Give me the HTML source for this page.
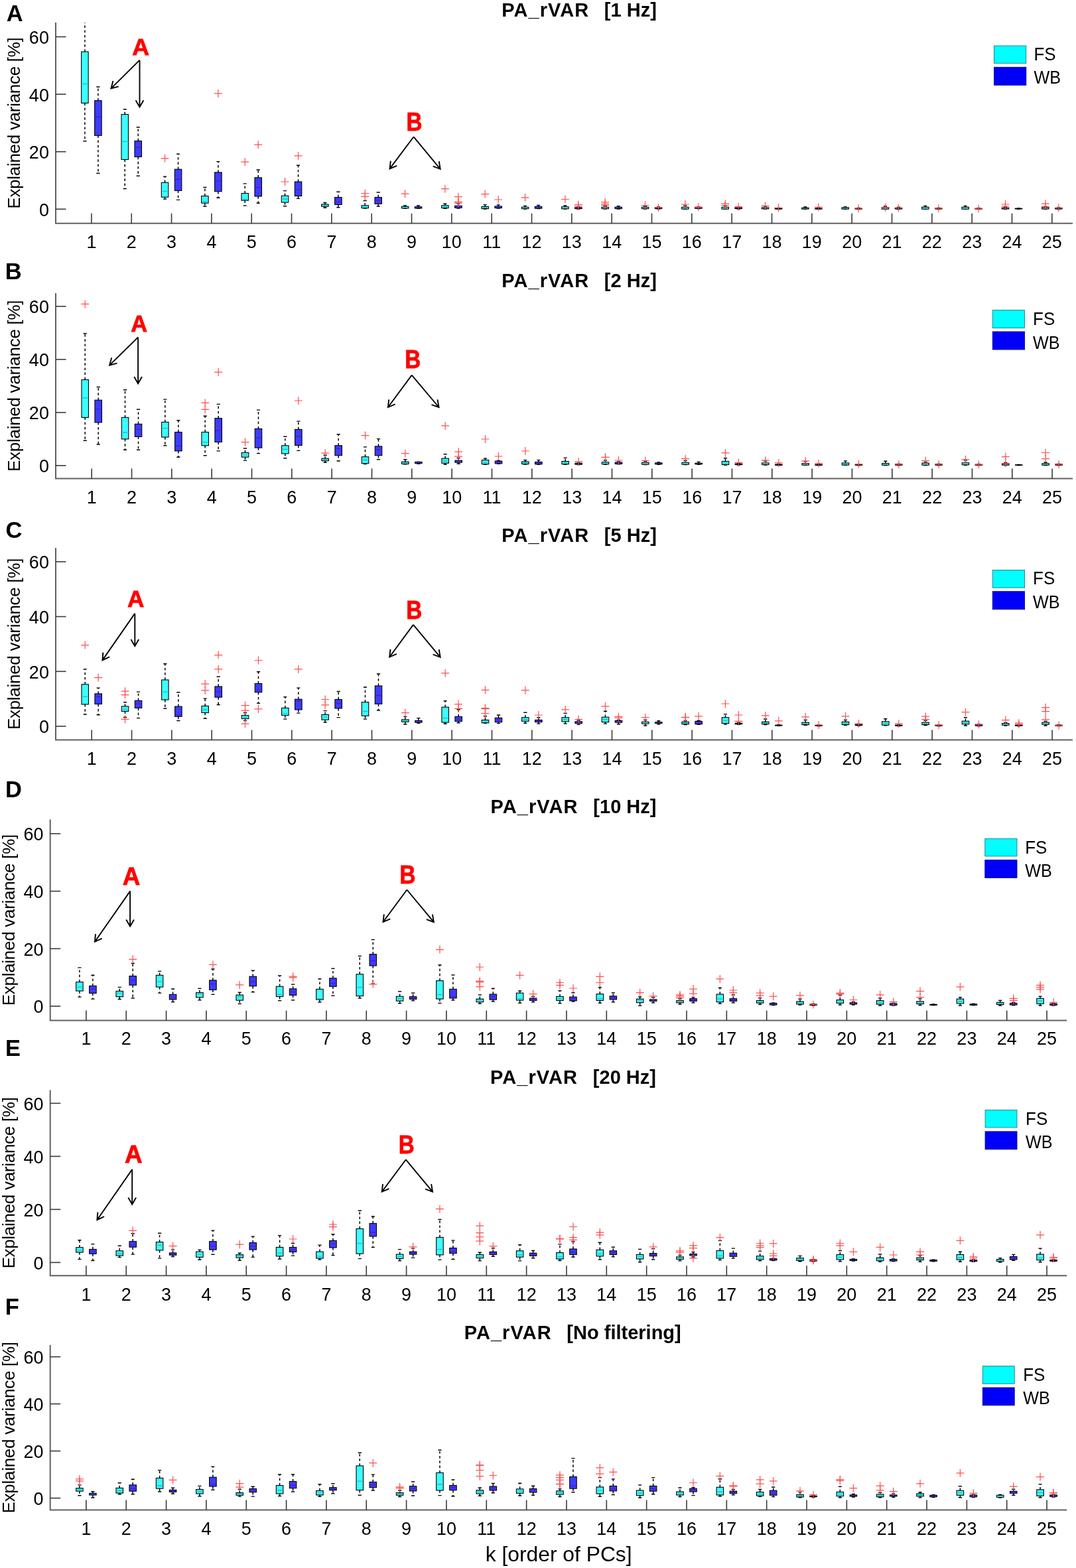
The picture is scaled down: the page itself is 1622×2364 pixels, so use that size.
<!DOCTYPE html>
<html><head><meta charset="utf-8"><style>
html,body{margin:0;padding:0;background:#fff;}
svg{display:block;}
text{font-family:'Liberation Sans', Arial, Helvetica, sans-serif;fill:#000;}
.pl{font-size:34.5px;font-weight:bold;}
.ti{font-size:29px;font-weight:bold;}
.tl{font-size:27px;}
.yl{font-size:26px;}
.xl{font-size:31.8px;}
.lg{font-size:26px;}
.ra{font-weight:bold;fill:#ff0000;stroke:#ff0000;stroke-width:0.8;}
.ax{fill:none;stroke:#606060;stroke-width:2;}
.tk{stroke:#3a3a3a;stroke-width:1.6;}
.w{stroke:#000;stroke-width:1.5;stroke-dasharray:3.7 3.5;}
.c{stroke:#000;stroke-width:1.4;}
.b{stroke:#000;stroke-width:1.1;}
.o{fill:none;stroke:#ff4d4d;stroke-width:1.2;}
.ar{fill:none;stroke:#000;stroke-width:1.9;stroke-linejoin:miter;}
</style></head><body>
<svg width="1622" height="2364" viewBox="0 0 1622 2364">
<text x="9.84" y="31.5" class="pl">A</text><text x="756.26" y="24.6" class="ti" textLength="131" lengthAdjust="spacing">PA_rVAR</text><text x="910.87" y="24.6" class="ti">[1 Hz]</text><path d="M84 34V336.8H1617" class="ax"/><line x1="84" y1="315.3" x2="99.5" y2="315.3" class="tk"/><text class="tl" text-anchor="end" transform="translate(73.9 325.7) scale(1 1.025)">0</text><line x1="84" y1="228.7" x2="99.5" y2="228.7" class="tk"/><text class="tl" text-anchor="end" transform="translate(73.9 239.1) scale(1 1.025)">20</text><line x1="84" y1="142.1" x2="99.5" y2="142.1" class="tk"/><text class="tl" text-anchor="end" transform="translate(73.9 152.5) scale(1 1.025)">40</text><line x1="84" y1="55.5" x2="99.5" y2="55.5" class="tk"/><text class="tl" text-anchor="end" transform="translate(73.9 65.9) scale(1 1.025)">60</text><line x1="137.9" y1="336.8" x2="137.9" y2="321.8" class="tk"/><text class="tl" text-anchor="middle" transform="translate(137.9 374.3) scale(1 1.025)">1</text><line x1="198.23" y1="336.8" x2="198.23" y2="321.8" class="tk"/><text class="tl" text-anchor="middle" transform="translate(198.23 374.3) scale(1 1.025)">2</text><line x1="258.56" y1="336.8" x2="258.56" y2="321.8" class="tk"/><text class="tl" text-anchor="middle" transform="translate(258.56 374.3) scale(1 1.025)">3</text><line x1="318.89" y1="336.8" x2="318.89" y2="321.8" class="tk"/><text class="tl" text-anchor="middle" transform="translate(318.89 374.3) scale(1 1.025)">4</text><line x1="379.22" y1="336.8" x2="379.22" y2="321.8" class="tk"/><text class="tl" text-anchor="middle" transform="translate(379.22 374.3) scale(1 1.025)">5</text><line x1="439.55" y1="336.8" x2="439.55" y2="321.8" class="tk"/><text class="tl" text-anchor="middle" transform="translate(439.55 374.3) scale(1 1.025)">6</text><line x1="499.88" y1="336.8" x2="499.88" y2="321.8" class="tk"/><text class="tl" text-anchor="middle" transform="translate(499.88 374.3) scale(1 1.025)">7</text><line x1="560.21" y1="336.8" x2="560.21" y2="321.8" class="tk"/><text class="tl" text-anchor="middle" transform="translate(560.21 374.3) scale(1 1.025)">8</text><line x1="620.54" y1="336.8" x2="620.54" y2="321.8" class="tk"/><text class="tl" text-anchor="middle" transform="translate(620.54 374.3) scale(1 1.025)">9</text><line x1="680.87" y1="336.8" x2="680.87" y2="321.8" class="tk"/><text class="tl" text-anchor="middle" transform="translate(680.87 374.3) scale(1 1.025)">10</text><line x1="741.2" y1="336.8" x2="741.2" y2="321.8" class="tk"/><text class="tl" text-anchor="middle" transform="translate(741.2 374.3) scale(1 1.025)">11</text><line x1="801.53" y1="336.8" x2="801.53" y2="321.8" class="tk"/><text class="tl" text-anchor="middle" transform="translate(801.53 374.3) scale(1 1.025)">12</text><line x1="861.86" y1="336.8" x2="861.86" y2="321.8" class="tk"/><text class="tl" text-anchor="middle" transform="translate(861.86 374.3) scale(1 1.025)">13</text><line x1="922.19" y1="336.8" x2="922.19" y2="321.8" class="tk"/><text class="tl" text-anchor="middle" transform="translate(922.19 374.3) scale(1 1.025)">14</text><line x1="982.52" y1="336.8" x2="982.52" y2="321.8" class="tk"/><text class="tl" text-anchor="middle" transform="translate(982.52 374.3) scale(1 1.025)">15</text><line x1="1042.85" y1="336.8" x2="1042.85" y2="321.8" class="tk"/><text class="tl" text-anchor="middle" transform="translate(1042.85 374.3) scale(1 1.025)">16</text><line x1="1103.18" y1="336.8" x2="1103.18" y2="321.8" class="tk"/><text class="tl" text-anchor="middle" transform="translate(1103.18 374.3) scale(1 1.025)">17</text><line x1="1163.51" y1="336.8" x2="1163.51" y2="321.8" class="tk"/><text class="tl" text-anchor="middle" transform="translate(1163.51 374.3) scale(1 1.025)">18</text><line x1="1223.84" y1="336.8" x2="1223.84" y2="321.8" class="tk"/><text class="tl" text-anchor="middle" transform="translate(1223.84 374.3) scale(1 1.025)">19</text><line x1="1284.17" y1="336.8" x2="1284.17" y2="321.8" class="tk"/><text class="tl" text-anchor="middle" transform="translate(1284.17 374.3) scale(1 1.025)">20</text><line x1="1344.5" y1="336.8" x2="1344.5" y2="321.8" class="tk"/><text class="tl" text-anchor="middle" transform="translate(1344.5 374.3) scale(1 1.025)">21</text><line x1="1404.83" y1="336.8" x2="1404.83" y2="321.8" class="tk"/><text class="tl" text-anchor="middle" transform="translate(1404.83 374.3) scale(1 1.025)">22</text><line x1="1465.16" y1="336.8" x2="1465.16" y2="321.8" class="tk"/><text class="tl" text-anchor="middle" transform="translate(1465.16 374.3) scale(1 1.025)">23</text><line x1="1525.49" y1="336.8" x2="1525.49" y2="321.8" class="tk"/><text class="tl" text-anchor="middle" transform="translate(1525.49 374.3) scale(1 1.025)">24</text><line x1="1585.82" y1="336.8" x2="1585.82" y2="321.8" class="tk"/><text class="tl" text-anchor="middle" transform="translate(1585.82 374.3) scale(1 1.025)">25</text><text x="0" y="0" class="yl" text-anchor="middle" textLength="258.5" lengthAdjust="spacing" transform="translate(30.4 185.4) rotate(-90)">Explained variance [%]</text><rect x="1498.6" y="69" width="48.2" height="26.3" fill="#00ffff" stroke="#0a6e6e" stroke-width="0.8"/><rect x="1498.6" y="101.3" width="48.2" height="27.1" fill="#0000f8" stroke="#000090" stroke-width="0.9"/><text class="lg" transform="translate(1558.4 90.8) scale(1 1.04)">FS</text><text class="lg" transform="translate(1558.4 125.9) scale(0.97 1.04)">WB</text><clipPath id="cA"><rect x="84" y="34" width="1533" height="302.8"/></clipPath><g clip-path="url(#cA)"><line x1="127.9" y1="78" x2="127.9" y2="20" class="w"/><line x1="127.9" y1="155.4" x2="127.9" y2="212.7" class="w"/><line x1="125.3" y1="20" x2="130.5" y2="20" class="c"/><line x1="125.3" y1="212.7" x2="130.5" y2="212.7" class="c"/><rect x="122.65" y="78" width="10.5" height="77.4" fill="#3cffff" class="b"/><line x1="124.4" y1="126.3" x2="131.4" y2="126.3" stroke="#22b8b8" stroke-width="1.3"/><line x1="147.9" y1="151.7" x2="147.9" y2="131" class="w"/><line x1="147.9" y1="204.3" x2="147.9" y2="261.2" class="w"/><line x1="145.3" y1="131" x2="150.5" y2="131" class="c"/><line x1="145.3" y1="261.2" x2="150.5" y2="261.2" class="c"/><rect x="142.65" y="151.7" width="10.5" height="52.6" fill="#3c3cff" class="b"/><line x1="144.4" y1="176.1" x2="151.4" y2="176.1" stroke="#5a14b4" stroke-width="1.3"/><line x1="188.23" y1="172.5" x2="188.23" y2="164.7" class="w"/><line x1="188.23" y1="240.5" x2="188.23" y2="284.5" class="w"/><line x1="185.63" y1="164.7" x2="190.83" y2="164.7" class="c"/><line x1="185.63" y1="284.5" x2="190.83" y2="284.5" class="c"/><rect x="182.98" y="172.5" width="10.5" height="68" fill="#3cffff" class="b"/><line x1="184.73" y1="213.4" x2="191.73" y2="213.4" stroke="#22b8b8" stroke-width="1.3"/><line x1="208.23" y1="212.5" x2="208.23" y2="191.8" class="w"/><line x1="208.23" y1="236.5" x2="208.23" y2="265.2" class="w"/><line x1="205.63" y1="191.8" x2="210.83" y2="191.8" class="c"/><line x1="205.63" y1="265.2" x2="210.83" y2="265.2" class="c"/><rect x="202.98" y="212.5" width="10.5" height="24" fill="#3c3cff" class="b"/><line x1="204.73" y1="222.1" x2="211.73" y2="222.1" stroke="#5a14b4" stroke-width="1.3"/><line x1="248.56" y1="275.2" x2="248.56" y2="266.1" class="w"/><line x1="248.56" y1="297.2" x2="248.56" y2="300.1" class="w"/><line x1="245.96" y1="266.1" x2="251.16" y2="266.1" class="c"/><line x1="245.96" y1="300.1" x2="251.16" y2="300.1" class="c"/><rect x="243.31" y="275.2" width="10.5" height="22" fill="#3cffff" class="b"/><line x1="245.06" y1="288.4" x2="252.06" y2="288.4" stroke="#22b8b8" stroke-width="1.3"/><path d="M242.56 238.8h12M248.56 232.8v12" class="o"/><line x1="268.56" y1="255.2" x2="268.56" y2="232.1" class="w"/><line x1="268.56" y1="287.4" x2="268.56" y2="301.4" class="w"/><line x1="265.96" y1="232.1" x2="271.16" y2="232.1" class="c"/><line x1="265.96" y1="301.4" x2="271.16" y2="301.4" class="c"/><rect x="263.31" y="255.2" width="10.5" height="32.2" fill="#3c3cff" class="b"/><line x1="265.06" y1="270.5" x2="272.06" y2="270.5" stroke="#5a14b4" stroke-width="1.3"/><line x1="308.89" y1="295.5" x2="308.89" y2="282.5" class="w"/><line x1="308.89" y1="306.2" x2="308.89" y2="311.3" class="w"/><line x1="306.29" y1="282.5" x2="311.49" y2="282.5" class="c"/><line x1="306.29" y1="311.3" x2="311.49" y2="311.3" class="c"/><rect x="303.64" y="295.5" width="10.5" height="10.7" fill="#3cffff" class="b"/><line x1="305.39" y1="303.9" x2="312.39" y2="303.9" stroke="#22b8b8" stroke-width="1.3"/><line x1="328.89" y1="259.9" x2="328.89" y2="243.6" class="w"/><line x1="328.89" y1="288.7" x2="328.89" y2="298.3" class="w"/><line x1="326.29" y1="243.6" x2="331.49" y2="243.6" class="c"/><line x1="326.29" y1="298.3" x2="331.49" y2="298.3" class="c"/><rect x="323.64" y="259.9" width="10.5" height="28.8" fill="#3c3cff" class="b"/><line x1="325.39" y1="272.9" x2="332.39" y2="272.9" stroke="#5a14b4" stroke-width="1.3"/><path d="M322.89 140.9h12M328.89 134.9v12" class="o"/><line x1="369.22" y1="291.5" x2="369.22" y2="276.9" class="w"/><line x1="369.22" y1="302.2" x2="369.22" y2="310.1" class="w"/><line x1="366.62" y1="276.9" x2="371.82" y2="276.9" class="c"/><line x1="366.62" y1="310.1" x2="371.82" y2="310.1" class="c"/><rect x="363.97" y="291.5" width="10.5" height="10.7" fill="#3cffff" class="b"/><line x1="365.72" y1="300.5" x2="372.72" y2="300.5" stroke="#22b8b8" stroke-width="1.3"/><path d="M363.22 244.1h12M369.22 238.1v12" class="o"/><line x1="389.22" y1="267.8" x2="389.22" y2="256" class="w"/><line x1="389.22" y1="296" x2="389.22" y2="306.2" class="w"/><line x1="386.62" y1="256" x2="391.82" y2="256" class="c"/><line x1="386.62" y1="306.2" x2="391.82" y2="306.2" class="c"/><rect x="383.97" y="267.8" width="10.5" height="28.2" fill="#3c3cff" class="b"/><line x1="385.72" y1="282.5" x2="392.72" y2="282.5" stroke="#5a14b4" stroke-width="1.3"/><path d="M383.22 218.2h12M389.22 212.2v12" class="o"/><line x1="429.55" y1="295.2" x2="429.55" y2="287.6" class="w"/><line x1="429.55" y1="305.1" x2="429.55" y2="310.7" class="w"/><line x1="426.95" y1="287.6" x2="432.15" y2="287.6" class="c"/><line x1="426.95" y1="310.7" x2="432.15" y2="310.7" class="c"/><rect x="424.3" y="295.2" width="10.5" height="9.9" fill="#3cffff" class="b"/><line x1="426.05" y1="300" x2="433.05" y2="300" stroke="#22b8b8" stroke-width="1.3"/><path d="M423.55 274h12M429.55 268v12" class="o"/><line x1="449.55" y1="274" x2="449.55" y2="249.2" class="w"/><line x1="449.55" y1="295.5" x2="449.55" y2="299.4" class="w"/><line x1="446.95" y1="249.2" x2="452.15" y2="249.2" class="c"/><line x1="446.95" y1="299.4" x2="452.15" y2="299.4" class="c"/><rect x="444.3" y="274" width="10.5" height="21.5" fill="#3c3cff" class="b"/><line x1="446.05" y1="285.9" x2="453.05" y2="285.9" stroke="#5a14b4" stroke-width="1.3"/><path d="M443.55 234.9h12M449.55 228.9v12" class="o"/><line x1="489.88" y1="308" x2="489.88" y2="305.5" class="w"/><line x1="489.88" y1="311.3" x2="489.88" y2="313.3" class="w"/><line x1="487.28" y1="305.5" x2="492.48" y2="305.5" class="c"/><line x1="487.28" y1="313.3" x2="492.48" y2="313.3" class="c"/><rect x="484.63" y="308" width="10.5" height="3.3" fill="#3cffff" class="b"/><line x1="486.38" y1="309.8" x2="493.38" y2="309.8" stroke="#22b8b8" stroke-width="1.3"/><line x1="509.88" y1="297.5" x2="509.88" y2="289.2" class="w"/><line x1="509.88" y1="308.5" x2="509.88" y2="312.8" class="w"/><line x1="507.28" y1="289.2" x2="512.48" y2="289.2" class="c"/><line x1="507.28" y1="312.8" x2="512.48" y2="312.8" class="c"/><rect x="504.63" y="297.5" width="10.5" height="11" fill="#3c3cff" class="b"/><line x1="506.38" y1="304" x2="513.38" y2="304" stroke="#5a14b4" stroke-width="1.3"/><line x1="550.21" y1="309.8" x2="550.21" y2="302.5" class="w"/><line x1="547.61" y1="302.5" x2="552.81" y2="302.5" class="c"/><line x1="547.61" y1="314" x2="552.81" y2="314" class="c"/><rect x="544.96" y="309.8" width="10.5" height="3.9" fill="#3cffff" class="b"/><line x1="546.71" y1="311" x2="553.71" y2="311" stroke="#22b8b8" stroke-width="1.3"/><path d="M544.21 291.5h12M550.21 285.5v12" class="o"/><path d="M544.21 296.4h12M550.21 290.4v12" class="o"/><line x1="570.21" y1="297.5" x2="570.21" y2="290" class="w"/><line x1="570.21" y1="307.3" x2="570.21" y2="311" class="w"/><line x1="567.61" y1="290" x2="572.81" y2="290" class="c"/><line x1="567.61" y1="311" x2="572.81" y2="311" class="c"/><rect x="564.96" y="297.5" width="10.5" height="9.8" fill="#3c3cff" class="b"/><line x1="566.71" y1="302" x2="573.71" y2="302" stroke="#5a14b4" stroke-width="1.3"/><line x1="610.54" y1="311.3" x2="610.54" y2="310" class="w"/><line x1="607.94" y1="310" x2="613.14" y2="310" class="c"/><line x1="607.94" y1="314.3" x2="613.14" y2="314.3" class="c"/><rect x="605.29" y="311.3" width="10.5" height="2.7" fill="#3cffff" class="b"/><path d="M604.54 292.2h12M610.54 286.2v12" class="o"/><line x1="630.54" y1="311.8" x2="630.54" y2="310" class="w"/><line x1="627.94" y1="310" x2="633.14" y2="310" class="c"/><line x1="627.94" y1="314.3" x2="633.14" y2="314.3" class="c"/><rect x="625.29" y="311.8" width="10.5" height="2.2" fill="#3c3cff" class="b"/><line x1="670.87" y1="309.8" x2="670.87" y2="307.3" class="w"/><line x1="670.87" y1="313.6" x2="670.87" y2="314.3" class="w"/><line x1="668.27" y1="307.3" x2="673.47" y2="307.3" class="c"/><line x1="668.27" y1="314.3" x2="673.47" y2="314.3" class="c"/><rect x="665.62" y="309.8" width="10.5" height="3.8" fill="#3cffff" class="b"/><line x1="667.37" y1="311.5" x2="674.37" y2="311.5" stroke="#22b8b8" stroke-width="1.3"/><path d="M664.87 284.7h12M670.87 278.7v12" class="o"/><line x1="690.87" y1="310.3" x2="690.87" y2="307" class="w"/><line x1="690.87" y1="313.3" x2="690.87" y2="314" class="w"/><line x1="688.27" y1="307" x2="693.47" y2="307" class="c"/><line x1="688.27" y1="314" x2="693.47" y2="314" class="c"/><rect x="685.62" y="310.3" width="10.5" height="3" fill="#3c3cff" class="b"/><path d="M684.87 296.7h12M690.87 290.7v12" class="o"/><path d="M684.87 304.3h12M690.87 298.3v12" class="o"/><path d="M684.87 306.1h12M690.87 300.1v12" class="o"/><line x1="731.2" y1="311.4" x2="731.2" y2="308.6" class="w"/><line x1="728.6" y1="308.6" x2="733.8" y2="308.6" class="c"/><line x1="728.6" y1="315" x2="733.8" y2="315" class="c"/><rect x="725.95" y="311.4" width="10.5" height="3.2" fill="#3cffff" class="b"/><line x1="727.7" y1="313" x2="734.7" y2="313" stroke="#22b8b8" stroke-width="1.3"/><path d="M725.2 292.6h12M731.2 286.6v12" class="o"/><line x1="751.2" y1="311" x2="751.2" y2="308.9" class="w"/><line x1="748.6" y1="308.9" x2="753.8" y2="308.9" class="c"/><line x1="748.6" y1="314" x2="753.8" y2="314" class="c"/><rect x="745.95" y="311" width="10.5" height="2.6" fill="#3c3cff" class="b"/><path d="M745.2 301h12M751.2 295v12" class="o"/><line x1="791.53" y1="312.3" x2="791.53" y2="310.4" class="w"/><line x1="788.93" y1="310.4" x2="794.13" y2="310.4" class="c"/><line x1="788.93" y1="315" x2="794.13" y2="315" class="c"/><rect x="786.28" y="312.3" width="10.5" height="2.3" fill="#3cffff" class="b"/><path d="M785.53 297.8h12M791.53 291.8v12" class="o"/><line x1="811.53" y1="311.4" x2="811.53" y2="309.5" class="w"/><line x1="808.93" y1="309.5" x2="814.13" y2="309.5" class="c"/><line x1="808.93" y1="314.6" x2="814.13" y2="314.6" class="c"/><rect x="806.28" y="311.4" width="10.5" height="2.8" fill="#3c3cff" class="b"/><line x1="851.86" y1="311.8" x2="851.86" y2="310" class="w"/><line x1="849.26" y1="310" x2="854.46" y2="310" class="c"/><line x1="849.26" y1="315" x2="854.46" y2="315" class="c"/><rect x="846.61" y="311.8" width="10.5" height="3" fill="#3cffff" class="b"/><path d="M845.86 300.5h12M851.86 294.5v12" class="o"/><line x1="871.86" y1="312.9" x2="871.86" y2="312" class="w"/><line x1="869.26" y1="312" x2="874.46" y2="312" class="c"/><line x1="869.26" y1="315" x2="874.46" y2="315" class="c"/><rect x="866.61" y="312.9" width="10.5" height="1.7" fill="#3c3cff" class="b"/><path d="M865.86 308.6h12M871.86 302.6v12" class="o"/><path d="M865.86 311h12M871.86 305v12" class="o"/><line x1="912.19" y1="312.3" x2="912.19" y2="310.5" class="w"/><line x1="909.59" y1="310.5" x2="914.79" y2="310.5" class="c"/><line x1="909.59" y1="315" x2="914.79" y2="315" class="c"/><rect x="906.94" y="312.3" width="10.5" height="2.3" fill="#3cffff" class="b"/><path d="M906.19 304.8h12M912.19 298.8v12" class="o"/><path d="M906.19 307.6h12M912.19 301.6v12" class="o"/><path d="M906.19 309.5h12M912.19 303.5v12" class="o"/><line x1="932.19" y1="312.3" x2="932.19" y2="310.8" class="w"/><line x1="929.59" y1="310.8" x2="934.79" y2="310.8" class="c"/><line x1="929.59" y1="315" x2="934.79" y2="315" class="c"/><rect x="926.94" y="312.3" width="10.5" height="2.3" fill="#3c3cff" class="b"/><line x1="972.52" y1="312.3" x2="972.52" y2="311" class="w"/><line x1="969.92" y1="311" x2="975.12" y2="311" class="c"/><line x1="969.92" y1="315" x2="975.12" y2="315" class="c"/><rect x="967.27" y="312.3" width="10.5" height="2.3" fill="#3cffff" class="b"/><path d="M966.52 309.5h12M972.52 303.5v12" class="o"/><line x1="992.52" y1="312.9" x2="992.52" y2="312" class="w"/><line x1="989.92" y1="312" x2="995.12" y2="312" class="c"/><line x1="989.92" y1="315" x2="995.12" y2="315" class="c"/><rect x="987.27" y="312.9" width="10.5" height="1.7" fill="#3c3cff" class="b"/><path d="M986.52 312.9h12M992.52 306.9v12" class="o"/><line x1="1032.85" y1="312.3" x2="1032.85" y2="310" class="w"/><line x1="1030.25" y1="310" x2="1035.45" y2="310" class="c"/><line x1="1030.25" y1="315.3" x2="1035.45" y2="315.3" class="c"/><rect x="1027.6" y="312.3" width="10.5" height="2.8" fill="#3cffff" class="b"/><path d="M1026.85 308h12M1032.85 302v12" class="o"/><line x1="1050.25" y1="312" x2="1055.45" y2="312" class="c"/><line x1="1050.25" y1="314.6" x2="1055.45" y2="314.6" class="c"/><rect x="1047.6" y="312.3" width="10.5" height="1.9" fill="#3c3cff" class="b"/><path d="M1046.85 312.3h12M1052.85 306.3v12" class="o"/><line x1="1093.18" y1="312.3" x2="1093.18" y2="310" class="w"/><line x1="1090.58" y1="310" x2="1095.78" y2="310" class="c"/><line x1="1090.58" y1="315.3" x2="1095.78" y2="315.3" class="c"/><rect x="1087.93" y="312.3" width="10.5" height="2.8" fill="#3cffff" class="b"/><path d="M1087.18 307.2h12M1093.18 301.2v12" class="o"/><path d="M1087.18 309.5h12M1093.18 303.5v12" class="o"/><line x1="1113.18" y1="312.9" x2="1113.18" y2="312" class="w"/><line x1="1110.58" y1="312" x2="1115.78" y2="312" class="c"/><line x1="1110.58" y1="315" x2="1115.78" y2="315" class="c"/><rect x="1107.93" y="312.9" width="10.5" height="1.7" fill="#3c3cff" class="b"/><path d="M1107.18 311.8h12M1113.18 305.8v12" class="o"/><line x1="1153.51" y1="312.9" x2="1153.51" y2="311" class="w"/><line x1="1150.91" y1="311" x2="1156.11" y2="311" class="c"/><line x1="1150.91" y1="315" x2="1156.11" y2="315" class="c"/><rect x="1148.26" y="312.9" width="10.5" height="1.9" fill="#3cffff" class="b"/><path d="M1147.51 310.4h12M1153.51 304.4v12" class="o"/><line x1="1173.51" y1="314.2" x2="1173.51" y2="313.5" class="w"/><line x1="1170.91" y1="313.5" x2="1176.11" y2="313.5" class="c"/><line x1="1170.91" y1="315.3" x2="1176.11" y2="315.3" class="c"/><rect x="1168.26" y="314.2" width="10.5" height="0.9" fill="#3c3cff" class="b"/><path d="M1167.51 313.3h12M1173.51 307.3v12" class="o"/><line x1="1213.84" y1="313.3" x2="1213.84" y2="312" class="w"/><line x1="1211.24" y1="312" x2="1216.44" y2="312" class="c"/><line x1="1211.24" y1="315.3" x2="1216.44" y2="315.3" class="c"/><rect x="1208.59" y="313.3" width="10.5" height="1.8" fill="#3cffff" class="b"/><line x1="1233.84" y1="314.2" x2="1233.84" y2="313.5" class="w"/><line x1="1231.24" y1="313.5" x2="1236.44" y2="313.5" class="c"/><line x1="1231.24" y1="315.3" x2="1236.44" y2="315.3" class="c"/><rect x="1228.59" y="314.2" width="10.5" height="0.9" fill="#3c3cff" class="b"/><path d="M1227.84 312.3h12M1233.84 306.3v12" class="o"/><line x1="1274.17" y1="312.9" x2="1274.17" y2="312" class="w"/><line x1="1271.57" y1="312" x2="1276.77" y2="312" class="c"/><line x1="1271.57" y1="315.3" x2="1276.77" y2="315.3" class="c"/><rect x="1268.92" y="312.9" width="10.5" height="2.2" fill="#3cffff" class="b"/><line x1="1294.17" y1="314.2" x2="1294.17" y2="313.5" class="w"/><line x1="1291.57" y1="313.5" x2="1296.77" y2="313.5" class="c"/><line x1="1291.57" y1="315.3" x2="1296.77" y2="315.3" class="c"/><rect x="1288.92" y="314.2" width="10.5" height="0.9" fill="#3c3cff" class="b"/><path d="M1288.17 314.2h12M1294.17 308.2v12" class="o"/><line x1="1334.5" y1="312.7" x2="1334.5" y2="311" class="w"/><line x1="1331.9" y1="311" x2="1337.1" y2="311" class="c"/><line x1="1331.9" y1="315.3" x2="1337.1" y2="315.3" class="c"/><rect x="1329.25" y="312.7" width="10.5" height="2.5" fill="#3cffff" class="b"/><path d="M1328.5 313h12M1334.5 307v12" class="o"/><line x1="1354.5" y1="313.3" x2="1354.5" y2="312.5" class="w"/><line x1="1351.9" y1="312.5" x2="1357.1" y2="312.5" class="c"/><line x1="1351.9" y1="315.3" x2="1357.1" y2="315.3" class="c"/><rect x="1349.25" y="313.3" width="10.5" height="1.7" fill="#3c3cff" class="b"/><path d="M1348.5 313.5h12M1354.5 307.5v12" class="o"/><line x1="1394.83" y1="312.3" x2="1394.83" y2="310.5" class="w"/><line x1="1392.23" y1="310.5" x2="1397.43" y2="310.5" class="c"/><line x1="1392.23" y1="315.3" x2="1397.43" y2="315.3" class="c"/><rect x="1389.58" y="312.3" width="10.5" height="2.9" fill="#3cffff" class="b"/><line x1="1412.23" y1="313.5" x2="1417.43" y2="313.5" class="c"/><line x1="1412.23" y1="315.3" x2="1417.43" y2="315.3" class="c"/><rect x="1409.58" y="314" width="10.5" height="1" fill="#3c3cff" class="b"/><path d="M1408.83 314.2h12M1414.83 308.2v12" class="o"/><line x1="1455.16" y1="312.3" x2="1455.16" y2="310.5" class="w"/><line x1="1452.56" y1="310.5" x2="1457.76" y2="310.5" class="c"/><line x1="1452.56" y1="315.3" x2="1457.76" y2="315.3" class="c"/><rect x="1449.91" y="312.3" width="10.5" height="2.9" fill="#3cffff" class="b"/><line x1="1472.56" y1="314" x2="1477.76" y2="314" class="c"/><line x1="1472.56" y1="315.3" x2="1477.76" y2="315.3" class="c"/><rect x="1469.91" y="314.2" width="10.5" height="1" fill="#3c3cff" class="b"/><path d="M1469.16 314.7h12M1475.16 308.7v12" class="o"/><line x1="1515.49" y1="313.3" x2="1515.49" y2="312" class="w"/><line x1="1512.89" y1="312" x2="1518.09" y2="312" class="c"/><line x1="1512.89" y1="315.3" x2="1518.09" y2="315.3" class="c"/><rect x="1510.24" y="313.3" width="10.5" height="1.7" fill="#3cffff" class="b"/><path d="M1509.49 308h12M1515.49 302v12" class="o"/><path d="M1509.49 311h12M1515.49 305v12" class="o"/><line x1="1532.89" y1="314" x2="1538.09" y2="314" class="c"/><line x1="1532.89" y1="315.3" x2="1538.09" y2="315.3" class="c"/><rect x="1530.24" y="314.2" width="10.5" height="0.8" fill="#3c3cff" class="b"/><line x1="1575.82" y1="312.7" x2="1575.82" y2="312" class="w"/><line x1="1573.22" y1="312" x2="1578.42" y2="312" class="c"/><line x1="1573.22" y1="315.3" x2="1578.42" y2="315.3" class="c"/><rect x="1570.57" y="312.7" width="10.5" height="2.3" fill="#3cffff" class="b"/><path d="M1569.82 307.2h12M1575.82 301.2v12" class="o"/><path d="M1569.82 311h12M1575.82 305v12" class="o"/><line x1="1593.22" y1="313" x2="1598.42" y2="313" class="c"/><line x1="1593.22" y1="315.3" x2="1598.42" y2="315.3" class="c"/><rect x="1590.57" y="313.3" width="10.5" height="1.7" fill="#3c3cff" class="b"/><path d="M1589.82 313.5h12M1595.82 307.5v12" class="o"/></g><text x="212.1" y="83" class="ra" text-anchor="middle" style="font-size:35.8px">A</text><path d="M210.5 90.7L167.4 133.4M170.49 122.03L167.4 133.4L178.8 130.41" class="ar"/><path d="M210.5 90.7L210.5 161.4M204.6 151.2L210.5 161.4L216.4 151.2" class="ar"/><text x="0" y="0" class="ra" text-anchor="middle" style="font-size:38.2px" transform="translate(624.5 196.5) scale(0.87 1)">B</text><path d="M623.6 206.3L587.5 254.4M588.9 242.7L587.5 254.4L598.34 249.78" class="ar"/><path d="M623.6 206.3L663.7 254.8M652.65 250.7L663.7 254.8L661.75 243.18" class="ar"/><text x="7.7" y="421" class="pl">B</text><text x="756.26" y="432.6" class="ti" textLength="131" lengthAdjust="spacing">PA_rVAR</text><text x="910.87" y="432.6" class="ti">[2 Hz]</text><path d="M84 442V721.4H1617" class="ax"/><line x1="84" y1="701.9" x2="99.5" y2="701.9" class="tk"/><text class="tl" text-anchor="end" transform="translate(73.9 712.3) scale(1 1.025)">0</text><line x1="84" y1="621.9" x2="99.5" y2="621.9" class="tk"/><text class="tl" text-anchor="end" transform="translate(73.9 632.3) scale(1 1.025)">20</text><line x1="84" y1="541.9" x2="99.5" y2="541.9" class="tk"/><text class="tl" text-anchor="end" transform="translate(73.9 552.3) scale(1 1.025)">40</text><line x1="84" y1="461.9" x2="99.5" y2="461.9" class="tk"/><text class="tl" text-anchor="end" transform="translate(73.9 472.3) scale(1 1.025)">60</text><line x1="138.2" y1="721.4" x2="138.2" y2="706.4" class="tk"/><text class="tl" text-anchor="middle" transform="translate(138.2 759.3) scale(1 1.025)">1</text><line x1="198.53" y1="721.4" x2="198.53" y2="706.4" class="tk"/><text class="tl" text-anchor="middle" transform="translate(198.53 759.3) scale(1 1.025)">2</text><line x1="258.86" y1="721.4" x2="258.86" y2="706.4" class="tk"/><text class="tl" text-anchor="middle" transform="translate(258.86 759.3) scale(1 1.025)">3</text><line x1="319.19" y1="721.4" x2="319.19" y2="706.4" class="tk"/><text class="tl" text-anchor="middle" transform="translate(319.19 759.3) scale(1 1.025)">4</text><line x1="379.52" y1="721.4" x2="379.52" y2="706.4" class="tk"/><text class="tl" text-anchor="middle" transform="translate(379.52 759.3) scale(1 1.025)">5</text><line x1="439.85" y1="721.4" x2="439.85" y2="706.4" class="tk"/><text class="tl" text-anchor="middle" transform="translate(439.85 759.3) scale(1 1.025)">6</text><line x1="500.18" y1="721.4" x2="500.18" y2="706.4" class="tk"/><text class="tl" text-anchor="middle" transform="translate(500.18 759.3) scale(1 1.025)">7</text><line x1="560.51" y1="721.4" x2="560.51" y2="706.4" class="tk"/><text class="tl" text-anchor="middle" transform="translate(560.51 759.3) scale(1 1.025)">8</text><line x1="620.84" y1="721.4" x2="620.84" y2="706.4" class="tk"/><text class="tl" text-anchor="middle" transform="translate(620.84 759.3) scale(1 1.025)">9</text><line x1="681.17" y1="721.4" x2="681.17" y2="706.4" class="tk"/><text class="tl" text-anchor="middle" transform="translate(681.17 759.3) scale(1 1.025)">10</text><line x1="741.5" y1="721.4" x2="741.5" y2="706.4" class="tk"/><text class="tl" text-anchor="middle" transform="translate(741.5 759.3) scale(1 1.025)">11</text><line x1="801.83" y1="721.4" x2="801.83" y2="706.4" class="tk"/><text class="tl" text-anchor="middle" transform="translate(801.83 759.3) scale(1 1.025)">12</text><line x1="862.16" y1="721.4" x2="862.16" y2="706.4" class="tk"/><text class="tl" text-anchor="middle" transform="translate(862.16 759.3) scale(1 1.025)">13</text><line x1="922.49" y1="721.4" x2="922.49" y2="706.4" class="tk"/><text class="tl" text-anchor="middle" transform="translate(922.49 759.3) scale(1 1.025)">14</text><line x1="982.82" y1="721.4" x2="982.82" y2="706.4" class="tk"/><text class="tl" text-anchor="middle" transform="translate(982.82 759.3) scale(1 1.025)">15</text><line x1="1043.15" y1="721.4" x2="1043.15" y2="706.4" class="tk"/><text class="tl" text-anchor="middle" transform="translate(1043.15 759.3) scale(1 1.025)">16</text><line x1="1103.48" y1="721.4" x2="1103.48" y2="706.4" class="tk"/><text class="tl" text-anchor="middle" transform="translate(1103.48 759.3) scale(1 1.025)">17</text><line x1="1163.81" y1="721.4" x2="1163.81" y2="706.4" class="tk"/><text class="tl" text-anchor="middle" transform="translate(1163.81 759.3) scale(1 1.025)">18</text><line x1="1224.14" y1="721.4" x2="1224.14" y2="706.4" class="tk"/><text class="tl" text-anchor="middle" transform="translate(1224.14 759.3) scale(1 1.025)">19</text><line x1="1284.47" y1="721.4" x2="1284.47" y2="706.4" class="tk"/><text class="tl" text-anchor="middle" transform="translate(1284.47 759.3) scale(1 1.025)">20</text><line x1="1344.8" y1="721.4" x2="1344.8" y2="706.4" class="tk"/><text class="tl" text-anchor="middle" transform="translate(1344.8 759.3) scale(1 1.025)">21</text><line x1="1405.13" y1="721.4" x2="1405.13" y2="706.4" class="tk"/><text class="tl" text-anchor="middle" transform="translate(1405.13 759.3) scale(1 1.025)">22</text><line x1="1465.46" y1="721.4" x2="1465.46" y2="706.4" class="tk"/><text class="tl" text-anchor="middle" transform="translate(1465.46 759.3) scale(1 1.025)">23</text><line x1="1525.79" y1="721.4" x2="1525.79" y2="706.4" class="tk"/><text class="tl" text-anchor="middle" transform="translate(1525.79 759.3) scale(1 1.025)">24</text><line x1="1586.12" y1="721.4" x2="1586.12" y2="706.4" class="tk"/><text class="tl" text-anchor="middle" transform="translate(1586.12 759.3) scale(1 1.025)">25</text><text x="0" y="0" class="yl" text-anchor="middle" textLength="258.5" lengthAdjust="spacing" transform="translate(30.4 581.7) rotate(-90)">Explained variance [%]</text><rect x="1496.3" y="467.6" width="48.3" height="26.9" fill="#00ffff" stroke="#0a6e6e" stroke-width="0.8"/><rect x="1496.3" y="500" width="48.3" height="27" fill="#0000f8" stroke="#000090" stroke-width="0.9"/><text class="lg" transform="translate(1557 489.6) scale(1 1.04)">FS</text><text class="lg" transform="translate(1557 525.8) scale(0.97 1.04)">WB</text><clipPath id="cB"><rect x="84" y="442" width="1533" height="279.4"/></clipPath><g clip-path="url(#cB)"><line x1="128.2" y1="572.5" x2="128.2" y2="502.7" class="w"/><line x1="128.2" y1="629.4" x2="128.2" y2="664.2" class="w"/><line x1="125.6" y1="502.7" x2="130.8" y2="502.7" class="c"/><line x1="125.6" y1="664.2" x2="130.8" y2="664.2" class="c"/><rect x="122.95" y="572.5" width="10.5" height="56.9" fill="#3cffff" class="b"/><line x1="124.7" y1="599.8" x2="131.7" y2="599.8" stroke="#22b8b8" stroke-width="1.3"/><path d="M122.2 458.4h12M128.2 452.4v12" class="o"/><line x1="148.2" y1="603.2" x2="148.2" y2="583.5" class="w"/><line x1="148.2" y1="636.9" x2="148.2" y2="670" class="w"/><line x1="145.6" y1="583.5" x2="150.8" y2="583.5" class="c"/><line x1="145.6" y1="670" x2="150.8" y2="670" class="c"/><rect x="142.95" y="603.2" width="10.5" height="33.7" fill="#3c3cff" class="b"/><line x1="144.7" y1="616.8" x2="151.7" y2="616.8" stroke="#5a14b4" stroke-width="1.3"/><line x1="188.53" y1="629.4" x2="188.53" y2="587.8" class="w"/><line x1="188.53" y1="661.9" x2="188.53" y2="678.2" class="w"/><line x1="185.93" y1="587.8" x2="191.13" y2="587.8" class="c"/><line x1="185.93" y1="678.2" x2="191.13" y2="678.2" class="c"/><rect x="183.28" y="629.4" width="10.5" height="32.5" fill="#3cffff" class="b"/><line x1="185.03" y1="652" x2="192.03" y2="652" stroke="#22b8b8" stroke-width="1.3"/><line x1="208.53" y1="639.3" x2="208.53" y2="617.2" class="w"/><line x1="208.53" y1="658.4" x2="208.53" y2="678.2" class="w"/><line x1="205.93" y1="617.2" x2="211.13" y2="617.2" class="c"/><line x1="205.93" y1="678.2" x2="211.13" y2="678.2" class="c"/><rect x="203.28" y="639.3" width="10.5" height="19.1" fill="#3c3cff" class="b"/><line x1="205.03" y1="647.4" x2="212.03" y2="647.4" stroke="#5a14b4" stroke-width="1.3"/><line x1="248.86" y1="636.4" x2="248.86" y2="602.1" class="w"/><line x1="248.86" y1="659" x2="248.86" y2="671.8" class="w"/><line x1="246.26" y1="602.1" x2="251.46" y2="602.1" class="c"/><line x1="246.26" y1="671.8" x2="251.46" y2="671.8" class="c"/><rect x="243.61" y="636.4" width="10.5" height="22.6" fill="#3cffff" class="b"/><line x1="245.36" y1="645.6" x2="252.36" y2="645.6" stroke="#22b8b8" stroke-width="1.3"/><line x1="268.86" y1="651.5" x2="268.86" y2="633.8" class="w"/><line x1="268.86" y1="679.9" x2="268.86" y2="689.2" class="w"/><line x1="266.26" y1="633.8" x2="271.46" y2="633.8" class="c"/><line x1="266.26" y1="689.2" x2="271.46" y2="689.2" class="c"/><rect x="263.61" y="651.5" width="10.5" height="28.4" fill="#3c3cff" class="b"/><line x1="265.36" y1="672.4" x2="272.36" y2="672.4" stroke="#5a14b4" stroke-width="1.3"/><line x1="309.19" y1="651.5" x2="309.19" y2="627.2" class="w"/><line x1="309.19" y1="671.8" x2="309.19" y2="686.7" class="w"/><line x1="306.59" y1="627.2" x2="311.79" y2="627.2" class="c"/><line x1="306.59" y1="686.7" x2="311.79" y2="686.7" class="c"/><rect x="303.94" y="651.5" width="10.5" height="20.3" fill="#3cffff" class="b"/><line x1="305.69" y1="666.6" x2="312.69" y2="666.6" stroke="#22b8b8" stroke-width="1.3"/><path d="M303.19 607.4h12M309.19 601.4v12" class="o"/><path d="M303.19 617.3h12M309.19 611.3v12" class="o"/><line x1="329.19" y1="630.6" x2="329.19" y2="609.4" class="w"/><line x1="329.19" y1="666.4" x2="329.19" y2="679.9" class="w"/><line x1="326.59" y1="609.4" x2="331.79" y2="609.4" class="c"/><line x1="326.59" y1="679.9" x2="331.79" y2="679.9" class="c"/><rect x="323.94" y="630.6" width="10.5" height="35.8" fill="#3c3cff" class="b"/><line x1="325.69" y1="649.2" x2="332.69" y2="649.2" stroke="#5a14b4" stroke-width="1.3"/><path d="M323.19 561.1h12M329.19 555.1v12" class="o"/><line x1="369.52" y1="682.4" x2="369.52" y2="676" class="w"/><line x1="369.52" y1="689.2" x2="369.52" y2="694.4" class="w"/><line x1="366.92" y1="676" x2="372.12" y2="676" class="c"/><line x1="366.92" y1="694.4" x2="372.12" y2="694.4" class="c"/><rect x="364.27" y="682.4" width="10.5" height="6.8" fill="#3cffff" class="b"/><line x1="366.02" y1="685.9" x2="373.02" y2="685.9" stroke="#22b8b8" stroke-width="1.3"/><path d="M363.52 666.6h12M369.52 660.6v12" class="o"/><line x1="389.52" y1="646.4" x2="389.52" y2="618.1" class="w"/><line x1="389.52" y1="675.1" x2="389.52" y2="683.6" class="w"/><line x1="386.92" y1="618.1" x2="392.12" y2="618.1" class="c"/><line x1="386.92" y1="683.6" x2="392.12" y2="683.6" class="c"/><rect x="384.27" y="646.4" width="10.5" height="28.7" fill="#3c3cff" class="b"/><line x1="386.02" y1="660.2" x2="393.02" y2="660.2" stroke="#5a14b4" stroke-width="1.3"/><line x1="429.85" y1="671.8" x2="429.85" y2="658.2" class="w"/><line x1="429.85" y1="683.9" x2="429.85" y2="690.7" class="w"/><line x1="427.25" y1="658.2" x2="432.45" y2="658.2" class="c"/><line x1="427.25" y1="690.7" x2="432.45" y2="690.7" class="c"/><rect x="424.6" y="671.8" width="10.5" height="12.1" fill="#3cffff" class="b"/><line x1="426.35" y1="677.5" x2="433.35" y2="677.5" stroke="#22b8b8" stroke-width="1.3"/><line x1="449.85" y1="647.4" x2="449.85" y2="635.1" class="w"/><line x1="449.85" y1="671.5" x2="449.85" y2="679.4" class="w"/><line x1="447.25" y1="635.1" x2="452.45" y2="635.1" class="c"/><line x1="447.25" y1="679.4" x2="452.45" y2="679.4" class="c"/><rect x="444.6" y="647.4" width="10.5" height="24.1" fill="#3c3cff" class="b"/><line x1="446.35" y1="657.9" x2="453.35" y2="657.9" stroke="#5a14b4" stroke-width="1.3"/><path d="M443.85 604h12M449.85 598v12" class="o"/><line x1="490.18" y1="691.2" x2="490.18" y2="686.3" class="w"/><line x1="490.18" y1="694.7" x2="490.18" y2="697.2" class="w"/><line x1="487.58" y1="686.3" x2="492.78" y2="686.3" class="c"/><line x1="487.58" y1="697.2" x2="492.78" y2="697.2" class="c"/><rect x="484.93" y="691.2" width="10.5" height="3.5" fill="#3cffff" class="b"/><line x1="486.68" y1="692.7" x2="493.68" y2="692.7" stroke="#22b8b8" stroke-width="1.3"/><path d="M484.18 683.2h12M490.18 677.2v12" class="o"/><line x1="510.18" y1="671.7" x2="510.18" y2="654.7" class="w"/><line x1="510.18" y1="686.7" x2="510.18" y2="695" class="w"/><line x1="507.58" y1="654.7" x2="512.78" y2="654.7" class="c"/><line x1="507.58" y1="695" x2="512.78" y2="695" class="c"/><rect x="504.93" y="671.7" width="10.5" height="15" fill="#3c3cff" class="b"/><line x1="506.68" y1="676.6" x2="513.68" y2="676.6" stroke="#5a14b4" stroke-width="1.3"/><line x1="550.51" y1="688.7" x2="550.51" y2="673.9" class="w"/><line x1="550.51" y1="698.7" x2="550.51" y2="699.5" class="w"/><line x1="547.91" y1="673.9" x2="553.11" y2="673.9" class="c"/><line x1="547.91" y1="699.5" x2="553.11" y2="699.5" class="c"/><rect x="545.26" y="688.7" width="10.5" height="10" fill="#3cffff" class="b"/><line x1="547.01" y1="693.5" x2="554.01" y2="693.5" stroke="#22b8b8" stroke-width="1.3"/><path d="M544.51 656.6h12M550.51 650.6v12" class="o"/><line x1="570.51" y1="672.9" x2="570.51" y2="661.6" class="w"/><line x1="570.51" y1="686.7" x2="570.51" y2="692.7" class="w"/><line x1="567.91" y1="661.6" x2="573.11" y2="661.6" class="c"/><line x1="567.91" y1="692.7" x2="573.11" y2="692.7" class="c"/><rect x="565.26" y="672.9" width="10.5" height="13.8" fill="#3c3cff" class="b"/><line x1="567.01" y1="678.1" x2="574.01" y2="678.1" stroke="#5a14b4" stroke-width="1.3"/><line x1="610.84" y1="696.2" x2="610.84" y2="692.7" class="w"/><line x1="608.24" y1="692.7" x2="613.44" y2="692.7" class="c"/><line x1="608.24" y1="699.8" x2="613.44" y2="699.8" class="c"/><rect x="605.59" y="696.2" width="10.5" height="3.3" fill="#3cffff" class="b"/><line x1="607.34" y1="697.7" x2="614.34" y2="697.7" stroke="#22b8b8" stroke-width="1.3"/><path d="M604.84 683.7h12M610.84 677.7v12" class="o"/><line x1="628.24" y1="696.5" x2="633.44" y2="696.5" class="c"/><line x1="628.24" y1="699.2" x2="633.44" y2="699.2" class="c"/><rect x="625.59" y="696.5" width="10.5" height="2.2" fill="#3c3cff" class="b"/><line x1="671.17" y1="691.2" x2="671.17" y2="684.7" class="w"/><line x1="671.17" y1="698.3" x2="671.17" y2="700.2" class="w"/><line x1="668.57" y1="684.7" x2="673.77" y2="684.7" class="c"/><line x1="668.57" y1="700.2" x2="673.77" y2="700.2" class="c"/><rect x="665.92" y="691.2" width="10.5" height="7.1" fill="#3cffff" class="b"/><line x1="667.67" y1="695" x2="674.67" y2="695" stroke="#22b8b8" stroke-width="1.3"/><path d="M665.17 641.9h12M671.17 635.9v12" class="o"/><line x1="691.17" y1="694.2" x2="691.17" y2="690.5" class="w"/><line x1="691.17" y1="697.2" x2="691.17" y2="699.2" class="w"/><line x1="688.57" y1="690.5" x2="693.77" y2="690.5" class="c"/><line x1="688.57" y1="699.2" x2="693.77" y2="699.2" class="c"/><rect x="685.92" y="694.2" width="10.5" height="3" fill="#3c3cff" class="b"/><path d="M685.17 681.1h12M691.17 675.1v12" class="o"/><path d="M685.17 688.2h12M691.17 682.2v12" class="o"/><line x1="731.5" y1="693.6" x2="731.5" y2="691.2" class="w"/><line x1="728.9" y1="691.2" x2="734.1" y2="691.2" class="c"/><line x1="728.9" y1="700.2" x2="734.1" y2="700.2" class="c"/><rect x="726.25" y="693.6" width="10.5" height="6.2" fill="#3cffff" class="b"/><line x1="728" y1="697.4" x2="735" y2="697.4" stroke="#22b8b8" stroke-width="1.3"/><path d="M725.5 662h12M731.5 656v12" class="o"/><line x1="751.5" y1="695.1" x2="751.5" y2="694.5" class="w"/><line x1="748.9" y1="694.5" x2="754.1" y2="694.5" class="c"/><line x1="748.9" y1="699.3" x2="754.1" y2="699.3" class="c"/><rect x="746.25" y="695.1" width="10.5" height="3.8" fill="#3c3cff" class="b"/><line x1="748" y1="696.8" x2="755" y2="696.8" stroke="#5a14b4" stroke-width="1.3"/><path d="M745.5 688h12M751.5 682v12" class="o"/><line x1="791.83" y1="696" x2="791.83" y2="693.6" class="w"/><line x1="789.23" y1="693.6" x2="794.43" y2="693.6" class="c"/><line x1="789.23" y1="700" x2="794.43" y2="700" class="c"/><rect x="786.58" y="696" width="10.5" height="3.6" fill="#3cffff" class="b"/><line x1="788.33" y1="697.7" x2="795.33" y2="697.7" stroke="#22b8b8" stroke-width="1.3"/><path d="M785.83 680h12M791.83 674v12" class="o"/><line x1="811.83" y1="696.4" x2="811.83" y2="693.6" class="w"/><line x1="809.23" y1="693.6" x2="814.43" y2="693.6" class="c"/><line x1="809.23" y1="700.2" x2="814.43" y2="700.2" class="c"/><rect x="806.58" y="696.4" width="10.5" height="3.4" fill="#3c3cff" class="b"/><line x1="808.33" y1="698.3" x2="815.33" y2="698.3" stroke="#5a14b4" stroke-width="1.3"/><line x1="852.16" y1="695.5" x2="852.16" y2="690.4" class="w"/><line x1="849.56" y1="690.4" x2="854.76" y2="690.4" class="c"/><line x1="849.56" y1="700.2" x2="854.76" y2="700.2" class="c"/><rect x="846.91" y="695.5" width="10.5" height="4.3" fill="#3cffff" class="b"/><line x1="848.66" y1="697.5" x2="855.66" y2="697.5" stroke="#22b8b8" stroke-width="1.3"/><line x1="869.56" y1="698" x2="874.76" y2="698" class="c"/><line x1="869.56" y1="700.6" x2="874.76" y2="700.6" class="c"/><rect x="866.91" y="698.3" width="10.5" height="1.9" fill="#3c3cff" class="b"/><path d="M866.16 695.9h12M872.16 689.9v12" class="o"/><line x1="912.49" y1="696.8" x2="912.49" y2="694" class="w"/><line x1="909.89" y1="694" x2="915.09" y2="694" class="c"/><line x1="909.89" y1="700.2" x2="915.09" y2="700.2" class="c"/><rect x="907.24" y="696.8" width="10.5" height="3" fill="#3cffff" class="b"/><path d="M906.49 689.3h12M912.49 683.3v12" class="o"/><path d="M906.49 689.5h12M912.49 683.5v12" class="o"/><line x1="932.49" y1="697" x2="932.49" y2="696" class="w"/><line x1="929.89" y1="696" x2="935.09" y2="696" class="c"/><line x1="929.89" y1="699.8" x2="935.09" y2="699.8" class="c"/><rect x="927.24" y="697" width="10.5" height="2.4" fill="#3c3cff" class="b"/><path d="M926.49 694h12M932.49 688v12" class="o"/><line x1="972.82" y1="697.4" x2="972.82" y2="695.5" class="w"/><line x1="970.22" y1="695.5" x2="975.42" y2="695.5" class="c"/><line x1="970.22" y1="700.6" x2="975.42" y2="700.6" class="c"/><rect x="967.57" y="697.4" width="10.5" height="2.8" fill="#3cffff" class="b"/><path d="M966.82 694.5h12M972.82 688.5v12" class="o"/><line x1="992.82" y1="697.9" x2="992.82" y2="697" class="w"/><line x1="990.22" y1="697" x2="995.42" y2="697" class="c"/><line x1="990.22" y1="700.2" x2="995.42" y2="700.2" class="c"/><rect x="987.57" y="697.9" width="10.5" height="1.9" fill="#3c3cff" class="b"/><line x1="1033.15" y1="697.4" x2="1033.15" y2="694.5" class="w"/><line x1="1030.55" y1="694.5" x2="1035.75" y2="694.5" class="c"/><line x1="1030.55" y1="700.6" x2="1035.75" y2="700.6" class="c"/><rect x="1027.9" y="697.4" width="10.5" height="2.8" fill="#3cffff" class="b"/><path d="M1027.15 691.7h12M1033.15 685.7v12" class="o"/><line x1="1053.15" y1="698.3" x2="1053.15" y2="696.4" class="w"/><line x1="1050.55" y1="696.4" x2="1055.75" y2="696.4" class="c"/><line x1="1050.55" y1="700.2" x2="1055.75" y2="700.2" class="c"/><rect x="1047.9" y="698.3" width="10.5" height="1.5" fill="#3c3cff" class="b"/><line x1="1093.48" y1="695.5" x2="1093.48" y2="690.8" class="w"/><line x1="1090.88" y1="690.8" x2="1096.08" y2="690.8" class="c"/><line x1="1090.88" y1="701" x2="1096.08" y2="701" class="c"/><rect x="1088.23" y="695.5" width="10.5" height="5.1" fill="#3cffff" class="b"/><line x1="1089.98" y1="698" x2="1096.98" y2="698" stroke="#22b8b8" stroke-width="1.3"/><path d="M1087.48 682.9h12M1093.48 676.9v12" class="o"/><line x1="1113.48" y1="699.2" x2="1113.48" y2="698.5" class="w"/><line x1="1110.88" y1="698.5" x2="1116.08" y2="698.5" class="c"/><line x1="1110.88" y1="701" x2="1116.08" y2="701" class="c"/><rect x="1108.23" y="699.2" width="10.5" height="1.4" fill="#3c3cff" class="b"/><path d="M1107.48 697.6h12M1113.48 691.6v12" class="o"/><line x1="1153.81" y1="697.9" x2="1153.81" y2="695" class="w"/><line x1="1151.21" y1="695" x2="1156.41" y2="695" class="c"/><line x1="1151.21" y1="701" x2="1156.41" y2="701" class="c"/><rect x="1148.56" y="697.9" width="10.5" height="2.7" fill="#3cffff" class="b"/><path d="M1147.81 694.2h12M1153.81 688.2v12" class="o"/><line x1="1171.21" y1="699.8" x2="1176.41" y2="699.8" class="c"/><line x1="1171.21" y1="701.6" x2="1176.41" y2="701.6" class="c"/><rect x="1168.56" y="700.2" width="10.5" height="1.1" fill="#3c3cff" class="b"/><path d="M1167.81 697.9h12M1173.81 691.9v12" class="o"/><line x1="1214.14" y1="698.7" x2="1214.14" y2="695.5" class="w"/><line x1="1211.54" y1="695.5" x2="1216.74" y2="695.5" class="c"/><line x1="1211.54" y1="701.4" x2="1216.74" y2="701.4" class="c"/><rect x="1208.89" y="698.7" width="10.5" height="2.4" fill="#3cffff" class="b"/><path d="M1208.14 695.1h12M1214.14 689.1v12" class="o"/><line x1="1231.54" y1="700" x2="1236.74" y2="700" class="c"/><line x1="1231.54" y1="701.6" x2="1236.74" y2="701.6" class="c"/><rect x="1228.89" y="700.4" width="10.5" height="0.9" fill="#3c3cff" class="b"/><path d="M1228.14 698.7h12M1234.14 692.7v12" class="o"/><line x1="1274.47" y1="697.9" x2="1274.47" y2="694.9" class="w"/><line x1="1271.87" y1="694.9" x2="1277.07" y2="694.9" class="c"/><line x1="1271.87" y1="701.4" x2="1277.07" y2="701.4" class="c"/><rect x="1269.22" y="697.9" width="10.5" height="3.2" fill="#3cffff" class="b"/><line x1="1270.97" y1="699.5" x2="1277.97" y2="699.5" stroke="#22b8b8" stroke-width="1.3"/><line x1="1291.87" y1="700" x2="1297.07" y2="700" class="c"/><line x1="1291.87" y1="701.6" x2="1297.07" y2="701.6" class="c"/><rect x="1289.22" y="700.4" width="10.5" height="0.9" fill="#3c3cff" class="b"/><path d="M1288.47 699.8h12M1294.47 693.8v12" class="o"/><line x1="1334.8" y1="698.6" x2="1334.8" y2="695.2" class="w"/><line x1="1332.2" y1="695.2" x2="1337.4" y2="695.2" class="c"/><line x1="1332.2" y1="701.5" x2="1337.4" y2="701.5" class="c"/><rect x="1329.55" y="698.6" width="10.5" height="2.6" fill="#3cffff" class="b"/><line x1="1352.2" y1="699.5" x2="1357.4" y2="699.5" class="c"/><line x1="1352.2" y1="701.5" x2="1357.4" y2="701.5" class="c"/><rect x="1349.55" y="699.8" width="10.5" height="1.4" fill="#3c3cff" class="b"/><path d="M1348.8 700.2h12M1354.8 694.2v12" class="o"/><line x1="1395.13" y1="698.2" x2="1395.13" y2="696.6" class="w"/><line x1="1392.53" y1="696.6" x2="1397.73" y2="696.6" class="c"/><line x1="1392.53" y1="701.5" x2="1397.73" y2="701.5" class="c"/><rect x="1389.88" y="698.2" width="10.5" height="3" fill="#3cffff" class="b"/><path d="M1389.13 694.6h12M1395.13 688.6v12" class="o"/><line x1="1412.53" y1="699.5" x2="1417.73" y2="699.5" class="c"/><line x1="1412.53" y1="701.5" x2="1417.73" y2="701.5" class="c"/><rect x="1409.88" y="699.8" width="10.5" height="1.4" fill="#3c3cff" class="b"/><path d="M1409.13 700.2h12M1415.13 694.2v12" class="o"/><line x1="1455.46" y1="697.8" x2="1455.46" y2="693.8" class="w"/><line x1="1452.86" y1="693.8" x2="1458.06" y2="693.8" class="c"/><line x1="1452.86" y1="701.2" x2="1458.06" y2="701.2" class="c"/><rect x="1450.21" y="697.8" width="10.5" height="3" fill="#3cffff" class="b"/><path d="M1449.46 692.8h12M1455.46 686.8v12" class="o"/><line x1="1472.86" y1="700" x2="1478.06" y2="700" class="c"/><line x1="1472.86" y1="701.6" x2="1478.06" y2="701.6" class="c"/><rect x="1470.21" y="700.2" width="10.5" height="1.2" fill="#3c3cff" class="b"/><path d="M1469.46 700.6h12M1475.46 694.6v12" class="o"/><line x1="1515.79" y1="699.2" x2="1515.79" y2="697.5" class="w"/><line x1="1513.19" y1="697.5" x2="1518.39" y2="697.5" class="c"/><line x1="1513.19" y1="701.5" x2="1518.39" y2="701.5" class="c"/><rect x="1510.54" y="699.2" width="10.5" height="2" fill="#3cffff" class="b"/><path d="M1509.79 688.6h12M1515.79 682.6v12" class="o"/><path d="M1509.79 698.6h12M1515.79 692.6v12" class="o"/><line x1="1533.19" y1="700.5" x2="1538.39" y2="700.5" class="c"/><line x1="1533.19" y1="701.6" x2="1538.39" y2="701.6" class="c"/><rect x="1530.54" y="700.8" width="10.5" height="0.6" fill="#3c3cff" class="b"/><line x1="1576.12" y1="698.8" x2="1576.12" y2="697" class="w"/><line x1="1573.52" y1="697" x2="1578.72" y2="697" class="c"/><line x1="1573.52" y1="701.5" x2="1578.72" y2="701.5" class="c"/><rect x="1570.87" y="698.8" width="10.5" height="2.4" fill="#3cffff" class="b"/><path d="M1570.12 682.5h12M1576.12 676.5v12" class="o"/><path d="M1570.12 691.6h12M1576.12 685.6v12" class="o"/><line x1="1593.52" y1="699.5" x2="1598.72" y2="699.5" class="c"/><line x1="1593.52" y1="701.5" x2="1598.72" y2="701.5" class="c"/><rect x="1590.87" y="699.8" width="10.5" height="1.4" fill="#3c3cff" class="b"/><path d="M1590.12 700.2h12M1596.12 694.2v12" class="o"/></g><text x="209.7" y="500" class="ra" text-anchor="middle" style="font-size:34.5px">A</text><path d="M208.1 508.5L165.1 550.6M168.26 539.25L165.1 550.6L176.52 547.68" class="ar"/><path d="M208.1 508.5L208.1 578.3M202.2 568.1L208.1 578.3L214 568.1" class="ar"/><text x="0" y="0" class="ra" text-anchor="middle" style="font-size:38.2px" transform="translate(622.2 555.4) scale(0.87 1)">B</text><path d="M620.7 565.6L584.9 614M586.22 602.29L584.9 614L595.71 609.31" class="ar"/><path d="M620.7 565.6L661.6 614M650.51 610.02L661.6 614L659.52 602.4" class="ar"/><text x="8.4" y="811.3" class="pl">C</text><text x="756.26" y="817.1" class="ti" textLength="131" lengthAdjust="spacing">PA_rVAR</text><text x="910.87" y="817.1" class="ti">[5 Hz]</text><path d="M84 826.1V1115.6H1617" class="ax"/><line x1="84" y1="1095" x2="99.5" y2="1095" class="tk"/><text class="tl" text-anchor="end" transform="translate(73.9 1105.4) scale(1 1.025)">0</text><line x1="84" y1="1012.3" x2="99.5" y2="1012.3" class="tk"/><text class="tl" text-anchor="end" transform="translate(73.9 1022.7) scale(1 1.025)">20</text><line x1="84" y1="929.6" x2="99.5" y2="929.6" class="tk"/><text class="tl" text-anchor="end" transform="translate(73.9 940) scale(1 1.025)">40</text><line x1="84" y1="846.9" x2="99.5" y2="846.9" class="tk"/><text class="tl" text-anchor="end" transform="translate(73.9 857.3) scale(1 1.025)">60</text><line x1="138.2" y1="1115.6" x2="138.2" y2="1100.6" class="tk"/><text class="tl" text-anchor="middle" transform="translate(138.2 1153.3) scale(1 1.025)">1</text><line x1="198.53" y1="1115.6" x2="198.53" y2="1100.6" class="tk"/><text class="tl" text-anchor="middle" transform="translate(198.53 1153.3) scale(1 1.025)">2</text><line x1="258.86" y1="1115.6" x2="258.86" y2="1100.6" class="tk"/><text class="tl" text-anchor="middle" transform="translate(258.86 1153.3) scale(1 1.025)">3</text><line x1="319.19" y1="1115.6" x2="319.19" y2="1100.6" class="tk"/><text class="tl" text-anchor="middle" transform="translate(319.19 1153.3) scale(1 1.025)">4</text><line x1="379.52" y1="1115.6" x2="379.52" y2="1100.6" class="tk"/><text class="tl" text-anchor="middle" transform="translate(379.52 1153.3) scale(1 1.025)">5</text><line x1="439.85" y1="1115.6" x2="439.85" y2="1100.6" class="tk"/><text class="tl" text-anchor="middle" transform="translate(439.85 1153.3) scale(1 1.025)">6</text><line x1="500.18" y1="1115.6" x2="500.18" y2="1100.6" class="tk"/><text class="tl" text-anchor="middle" transform="translate(500.18 1153.3) scale(1 1.025)">7</text><line x1="560.51" y1="1115.6" x2="560.51" y2="1100.6" class="tk"/><text class="tl" text-anchor="middle" transform="translate(560.51 1153.3) scale(1 1.025)">8</text><line x1="620.84" y1="1115.6" x2="620.84" y2="1100.6" class="tk"/><text class="tl" text-anchor="middle" transform="translate(620.84 1153.3) scale(1 1.025)">9</text><line x1="681.17" y1="1115.6" x2="681.17" y2="1100.6" class="tk"/><text class="tl" text-anchor="middle" transform="translate(681.17 1153.3) scale(1 1.025)">10</text><line x1="741.5" y1="1115.6" x2="741.5" y2="1100.6" class="tk"/><text class="tl" text-anchor="middle" transform="translate(741.5 1153.3) scale(1 1.025)">11</text><line x1="801.83" y1="1115.6" x2="801.83" y2="1100.6" class="tk"/><text class="tl" text-anchor="middle" transform="translate(801.83 1153.3) scale(1 1.025)">12</text><line x1="862.16" y1="1115.6" x2="862.16" y2="1100.6" class="tk"/><text class="tl" text-anchor="middle" transform="translate(862.16 1153.3) scale(1 1.025)">13</text><line x1="922.49" y1="1115.6" x2="922.49" y2="1100.6" class="tk"/><text class="tl" text-anchor="middle" transform="translate(922.49 1153.3) scale(1 1.025)">14</text><line x1="982.82" y1="1115.6" x2="982.82" y2="1100.6" class="tk"/><text class="tl" text-anchor="middle" transform="translate(982.82 1153.3) scale(1 1.025)">15</text><line x1="1043.15" y1="1115.6" x2="1043.15" y2="1100.6" class="tk"/><text class="tl" text-anchor="middle" transform="translate(1043.15 1153.3) scale(1 1.025)">16</text><line x1="1103.48" y1="1115.6" x2="1103.48" y2="1100.6" class="tk"/><text class="tl" text-anchor="middle" transform="translate(1103.48 1153.3) scale(1 1.025)">17</text><line x1="1163.81" y1="1115.6" x2="1163.81" y2="1100.6" class="tk"/><text class="tl" text-anchor="middle" transform="translate(1163.81 1153.3) scale(1 1.025)">18</text><line x1="1224.14" y1="1115.6" x2="1224.14" y2="1100.6" class="tk"/><text class="tl" text-anchor="middle" transform="translate(1224.14 1153.3) scale(1 1.025)">19</text><line x1="1284.47" y1="1115.6" x2="1284.47" y2="1100.6" class="tk"/><text class="tl" text-anchor="middle" transform="translate(1284.47 1153.3) scale(1 1.025)">20</text><line x1="1344.8" y1="1115.6" x2="1344.8" y2="1100.6" class="tk"/><text class="tl" text-anchor="middle" transform="translate(1344.8 1153.3) scale(1 1.025)">21</text><line x1="1405.13" y1="1115.6" x2="1405.13" y2="1100.6" class="tk"/><text class="tl" text-anchor="middle" transform="translate(1405.13 1153.3) scale(1 1.025)">22</text><line x1="1465.46" y1="1115.6" x2="1465.46" y2="1100.6" class="tk"/><text class="tl" text-anchor="middle" transform="translate(1465.46 1153.3) scale(1 1.025)">23</text><line x1="1525.79" y1="1115.6" x2="1525.79" y2="1100.6" class="tk"/><text class="tl" text-anchor="middle" transform="translate(1525.79 1153.3) scale(1 1.025)">24</text><line x1="1586.12" y1="1115.6" x2="1586.12" y2="1100.6" class="tk"/><text class="tl" text-anchor="middle" transform="translate(1586.12 1153.3) scale(1 1.025)">25</text><text x="0" y="0" class="yl" text-anchor="middle" textLength="258.5" lengthAdjust="spacing" transform="translate(30.4 970.85) rotate(-90)">Explained variance [%]</text><rect x="1496.3" y="859.4" width="48.3" height="26.7" fill="#00ffff" stroke="#0a6e6e" stroke-width="0.8"/><rect x="1496.3" y="891.7" width="48.3" height="27" fill="#0000f8" stroke="#000090" stroke-width="0.9"/><text class="lg" transform="translate(1557 881.1) scale(1 1.04)">FS</text><text class="lg" transform="translate(1557 917.2) scale(0.97 1.04)">WB</text><clipPath id="cC"><rect x="84" y="826.1" width="1533" height="289.5"/></clipPath><g clip-path="url(#cC)"><line x1="128.2" y1="1031.8" x2="128.2" y2="1008.9" class="w"/><line x1="128.2" y1="1061.9" x2="128.2" y2="1077" class="w"/><line x1="125.6" y1="1008.9" x2="130.8" y2="1008.9" class="c"/><line x1="125.6" y1="1077" x2="130.8" y2="1077" class="c"/><rect x="122.95" y="1031.8" width="10.5" height="30.1" fill="#3cffff" class="b"/><line x1="124.7" y1="1050.4" x2="131.7" y2="1050.4" stroke="#22b8b8" stroke-width="1.3"/><path d="M122.2 972.6h12M128.2 966.6v12" class="o"/><line x1="148.2" y1="1045.9" x2="148.2" y2="1037.1" class="w"/><line x1="148.2" y1="1061.5" x2="148.2" y2="1077.7" class="w"/><line x1="145.6" y1="1037.1" x2="150.8" y2="1037.1" class="c"/><line x1="145.6" y1="1077.7" x2="150.8" y2="1077.7" class="c"/><rect x="142.95" y="1045.9" width="10.5" height="15.6" fill="#3c3cff" class="b"/><line x1="144.7" y1="1050.4" x2="151.7" y2="1050.4" stroke="#5a14b4" stroke-width="1.3"/><path d="M142.2 1021.6h12M148.2 1015.6v12" class="o"/><line x1="188.53" y1="1064.9" x2="188.53" y2="1058.7" class="w"/><line x1="188.53" y1="1072.4" x2="188.53" y2="1081.5" class="w"/><line x1="185.93" y1="1058.7" x2="191.13" y2="1058.7" class="c"/><line x1="185.93" y1="1081.5" x2="191.13" y2="1081.5" class="c"/><rect x="183.28" y="1064.9" width="10.5" height="7.5" fill="#3cffff" class="b"/><line x1="185.03" y1="1069.1" x2="192.03" y2="1069.1" stroke="#22b8b8" stroke-width="1.3"/><path d="M182.53 1042.2h12M188.53 1036.2v12" class="o"/><path d="M182.53 1047.6h12M188.53 1041.6v12" class="o"/><path d="M182.53 1084.3h12M188.53 1078.3v12" class="o"/><line x1="208.53" y1="1056.3" x2="208.53" y2="1043.1" class="w"/><line x1="208.53" y1="1067.4" x2="208.53" y2="1082.6" class="w"/><line x1="205.93" y1="1043.1" x2="211.13" y2="1043.1" class="c"/><line x1="205.93" y1="1082.6" x2="211.13" y2="1082.6" class="c"/><rect x="203.28" y="1056.3" width="10.5" height="11.1" fill="#3c3cff" class="b"/><line x1="205.03" y1="1061.2" x2="212.03" y2="1061.2" stroke="#5a14b4" stroke-width="1.3"/><line x1="248.86" y1="1025" x2="248.86" y2="1000.8" class="w"/><line x1="248.86" y1="1055" x2="248.86" y2="1068.3" class="w"/><line x1="246.26" y1="1000.8" x2="251.46" y2="1000.8" class="c"/><line x1="246.26" y1="1068.3" x2="251.46" y2="1068.3" class="c"/><rect x="243.61" y="1025" width="10.5" height="30" fill="#3cffff" class="b"/><line x1="245.36" y1="1043.1" x2="252.36" y2="1043.1" stroke="#22b8b8" stroke-width="1.3"/><line x1="268.86" y1="1065.1" x2="268.86" y2="1043.7" class="w"/><line x1="268.86" y1="1080.3" x2="268.86" y2="1086.5" class="w"/><line x1="266.26" y1="1043.7" x2="271.46" y2="1043.7" class="c"/><line x1="266.26" y1="1086.5" x2="271.46" y2="1086.5" class="c"/><rect x="263.61" y="1065.1" width="10.5" height="15.2" fill="#3c3cff" class="b"/><line x1="265.36" y1="1078.1" x2="272.36" y2="1078.1" stroke="#5a14b4" stroke-width="1.3"/><line x1="309.19" y1="1064.4" x2="309.19" y2="1053.1" class="w"/><line x1="309.19" y1="1074.5" x2="309.19" y2="1083.2" class="w"/><line x1="306.59" y1="1053.1" x2="311.79" y2="1053.1" class="c"/><line x1="306.59" y1="1083.2" x2="311.79" y2="1083.2" class="c"/><rect x="303.94" y="1064.4" width="10.5" height="10.1" fill="#3cffff" class="b"/><line x1="305.69" y1="1070" x2="312.69" y2="1070" stroke="#22b8b8" stroke-width="1.3"/><path d="M303.19 1031.1h12M309.19 1025.1v12" class="o"/><path d="M303.19 1040.9h12M309.19 1034.9v12" class="o"/><line x1="329.19" y1="1035" x2="329.19" y2="1020.2" class="w"/><line x1="329.19" y1="1051.2" x2="329.19" y2="1062.5" class="w"/><line x1="326.59" y1="1020.2" x2="331.79" y2="1020.2" class="c"/><line x1="326.59" y1="1062.5" x2="331.79" y2="1062.5" class="c"/><rect x="323.94" y="1035" width="10.5" height="16.2" fill="#3c3cff" class="b"/><line x1="325.69" y1="1042.7" x2="332.69" y2="1042.7" stroke="#5a14b4" stroke-width="1.3"/><path d="M323.19 987.6h12M329.19 981.6v12" class="o"/><path d="M323.19 1008.9h12M329.19 1002.9v12" class="o"/><line x1="369.52" y1="1078.5" x2="369.52" y2="1074.5" class="w"/><line x1="369.52" y1="1083.6" x2="369.52" y2="1086.6" class="w"/><line x1="366.92" y1="1074.5" x2="372.12" y2="1074.5" class="c"/><line x1="366.92" y1="1086.6" x2="372.12" y2="1086.6" class="c"/><rect x="364.27" y="1078.5" width="10.5" height="5.1" fill="#3cffff" class="b"/><line x1="366.02" y1="1081" x2="373.02" y2="1081" stroke="#22b8b8" stroke-width="1.3"/><path d="M363.52 1063.6h12M369.52 1057.6v12" class="o"/><path d="M363.52 1071.2h12M369.52 1065.2v12" class="o"/><path d="M363.52 1091.2h12M369.52 1085.2v12" class="o"/><line x1="389.52" y1="1030.5" x2="389.52" y2="1012.7" class="w"/><line x1="389.52" y1="1043.7" x2="389.52" y2="1060.4" class="w"/><line x1="386.92" y1="1012.7" x2="392.12" y2="1012.7" class="c"/><line x1="386.92" y1="1060.4" x2="392.12" y2="1060.4" class="c"/><rect x="384.27" y="1030.5" width="10.5" height="13.2" fill="#3c3cff" class="b"/><line x1="386.02" y1="1040.4" x2="393.02" y2="1040.4" stroke="#5a14b4" stroke-width="1.3"/><path d="M383.52 995.5h12M389.52 989.5v12" class="o"/><path d="M383.52 1068.9h12M389.52 1062.9v12" class="o"/><line x1="429.85" y1="1067.4" x2="429.85" y2="1050.6" class="w"/><line x1="429.85" y1="1078.5" x2="429.85" y2="1084.1" class="w"/><line x1="427.25" y1="1050.6" x2="432.45" y2="1050.6" class="c"/><line x1="427.25" y1="1084.1" x2="432.45" y2="1084.1" class="c"/><rect x="424.6" y="1067.4" width="10.5" height="11.1" fill="#3cffff" class="b"/><line x1="426.35" y1="1075.7" x2="433.35" y2="1075.7" stroke="#22b8b8" stroke-width="1.3"/><line x1="449.85" y1="1054.2" x2="449.85" y2="1037.1" class="w"/><line x1="449.85" y1="1070" x2="449.85" y2="1075.1" class="w"/><line x1="447.25" y1="1037.1" x2="452.45" y2="1037.1" class="c"/><line x1="447.25" y1="1075.1" x2="452.45" y2="1075.1" class="c"/><rect x="444.6" y="1054.2" width="10.5" height="15.8" fill="#3c3cff" class="b"/><line x1="446.35" y1="1057.1" x2="453.35" y2="1057.1" stroke="#5a14b4" stroke-width="1.3"/><path d="M443.85 1008.9h12M449.85 1002.9v12" class="o"/><line x1="490.18" y1="1077.4" x2="490.18" y2="1071.6" class="w"/><line x1="490.18" y1="1085.2" x2="490.18" y2="1089" class="w"/><line x1="487.58" y1="1071.6" x2="492.78" y2="1071.6" class="c"/><line x1="487.58" y1="1089" x2="492.78" y2="1089" class="c"/><rect x="484.93" y="1077.4" width="10.5" height="7.8" fill="#3cffff" class="b"/><line x1="486.68" y1="1081.1" x2="493.68" y2="1081.1" stroke="#22b8b8" stroke-width="1.3"/><path d="M484.18 1054.5h12M490.18 1048.5v12" class="o"/><path d="M484.18 1062.8h12M490.18 1056.8v12" class="o"/><line x1="510.18" y1="1054.5" x2="510.18" y2="1042.5" class="w"/><line x1="510.18" y1="1068" x2="510.18" y2="1081.6" class="w"/><line x1="507.58" y1="1042.5" x2="512.78" y2="1042.5" class="c"/><line x1="507.58" y1="1081.6" x2="512.78" y2="1081.6" class="c"/><rect x="504.93" y="1054.5" width="10.5" height="13.5" fill="#3c3cff" class="b"/><line x1="506.68" y1="1060.5" x2="513.68" y2="1060.5" stroke="#5a14b4" stroke-width="1.3"/><line x1="550.51" y1="1058.6" x2="550.51" y2="1036" class="w"/><line x1="550.51" y1="1079.3" x2="550.51" y2="1084.1" class="w"/><line x1="547.91" y1="1036" x2="553.11" y2="1036" class="c"/><line x1="547.91" y1="1084.1" x2="553.11" y2="1084.1" class="c"/><rect x="545.26" y="1058.6" width="10.5" height="20.7" fill="#3cffff" class="b"/><line x1="547.01" y1="1072.5" x2="554.01" y2="1072.5" stroke="#22b8b8" stroke-width="1.3"/><line x1="570.51" y1="1034" x2="570.51" y2="1016" class="w"/><line x1="570.51" y1="1061.3" x2="570.51" y2="1071" class="w"/><line x1="567.91" y1="1016" x2="573.11" y2="1016" class="c"/><line x1="567.91" y1="1071" x2="573.11" y2="1071" class="c"/><rect x="565.26" y="1034" width="10.5" height="27.3" fill="#3c3cff" class="b"/><line x1="567.01" y1="1048.5" x2="574.01" y2="1048.5" stroke="#5a14b4" stroke-width="1.3"/><line x1="610.84" y1="1084.9" x2="610.84" y2="1080.4" class="w"/><line x1="610.84" y1="1088.3" x2="610.84" y2="1092" class="w"/><line x1="608.24" y1="1080.4" x2="613.44" y2="1080.4" class="c"/><line x1="608.24" y1="1092" x2="613.44" y2="1092" class="c"/><rect x="605.59" y="1084.9" width="10.5" height="3.4" fill="#3cffff" class="b"/><line x1="607.34" y1="1086.4" x2="614.34" y2="1086.4" stroke="#22b8b8" stroke-width="1.3"/><path d="M604.84 1074.7h12M610.84 1068.7v12" class="o"/><line x1="630.84" y1="1086.4" x2="630.84" y2="1082.6" class="w"/><line x1="630.84" y1="1089.1" x2="630.84" y2="1090.2" class="w"/><line x1="628.24" y1="1082.6" x2="633.44" y2="1082.6" class="c"/><line x1="628.24" y1="1090.2" x2="633.44" y2="1090.2" class="c"/><rect x="625.59" y="1086.4" width="10.5" height="2.7" fill="#3c3cff" class="b"/><line x1="671.17" y1="1066.1" x2="671.17" y2="1056.6" class="w"/><line x1="671.17" y1="1089.1" x2="671.17" y2="1091.2" class="w"/><line x1="668.57" y1="1056.6" x2="673.77" y2="1056.6" class="c"/><line x1="668.57" y1="1091.2" x2="673.77" y2="1091.2" class="c"/><rect x="665.92" y="1066.1" width="10.5" height="23" fill="#3cffff" class="b"/><line x1="667.67" y1="1082.6" x2="674.67" y2="1082.6" stroke="#22b8b8" stroke-width="1.3"/><path d="M665.17 1014.9h12M671.17 1008.9v12" class="o"/><line x1="691.17" y1="1080.4" x2="691.17" y2="1069.8" class="w"/><line x1="691.17" y1="1087.6" x2="691.17" y2="1089.7" class="w"/><line x1="688.57" y1="1069.8" x2="693.77" y2="1069.8" class="c"/><line x1="688.57" y1="1089.7" x2="693.77" y2="1089.7" class="c"/><rect x="685.92" y="1080.4" width="10.5" height="7.2" fill="#3c3cff" class="b"/><line x1="687.67" y1="1084.1" x2="694.67" y2="1084.1" stroke="#5a14b4" stroke-width="1.3"/><path d="M685.17 1061.6h12M691.17 1055.6v12" class="o"/><path d="M685.17 1068.3h12M691.17 1062.3v12" class="o"/><line x1="731.5" y1="1085.5" x2="731.5" y2="1079.8" class="w"/><line x1="728.9" y1="1079.8" x2="734.1" y2="1079.8" class="c"/><line x1="728.9" y1="1090.2" x2="734.1" y2="1090.2" class="c"/><rect x="726.25" y="1085.5" width="10.5" height="4.3" fill="#3cffff" class="b"/><line x1="728" y1="1087.4" x2="735" y2="1087.4" stroke="#22b8b8" stroke-width="1.3"/><path d="M725.5 1040.3h12M731.5 1034.3v12" class="o"/><path d="M725.5 1067.6h12M731.5 1061.6v12" class="o"/><path d="M725.5 1068.6h12M731.5 1062.6v12" class="o"/><path d="M725.5 1075.7h12M731.5 1069.7v12" class="o"/><line x1="751.5" y1="1082.3" x2="751.5" y2="1078" class="w"/><line x1="751.5" y1="1088.7" x2="751.5" y2="1090.6" class="w"/><line x1="748.9" y1="1078" x2="754.1" y2="1078" class="c"/><line x1="748.9" y1="1090.6" x2="754.1" y2="1090.6" class="c"/><rect x="746.25" y="1082.3" width="10.5" height="6.4" fill="#3c3cff" class="b"/><line x1="748" y1="1085.1" x2="755" y2="1085.1" stroke="#5a14b4" stroke-width="1.3"/><line x1="791.83" y1="1081.7" x2="791.83" y2="1074.2" class="w"/><line x1="791.83" y1="1087.4" x2="791.83" y2="1090.2" class="w"/><line x1="789.23" y1="1074.2" x2="794.43" y2="1074.2" class="c"/><line x1="789.23" y1="1090.2" x2="794.43" y2="1090.2" class="c"/><rect x="786.58" y="1081.7" width="10.5" height="5.7" fill="#3cffff" class="b"/><line x1="788.33" y1="1084.5" x2="795.33" y2="1084.5" stroke="#22b8b8" stroke-width="1.3"/><path d="M785.83 1040.7h12M791.83 1034.7v12" class="o"/><line x1="811.83" y1="1085.5" x2="811.83" y2="1081.7" class="w"/><line x1="811.83" y1="1088.7" x2="811.83" y2="1091.1" class="w"/><line x1="809.23" y1="1081.7" x2="814.43" y2="1081.7" class="c"/><line x1="809.23" y1="1091.1" x2="814.43" y2="1091.1" class="c"/><rect x="806.58" y="1085.5" width="10.5" height="3.2" fill="#3c3cff" class="b"/><line x1="808.33" y1="1086.8" x2="815.33" y2="1086.8" stroke="#5a14b4" stroke-width="1.3"/><path d="M805.83 1078h12M811.83 1072v12" class="o"/><line x1="852.16" y1="1081.7" x2="852.16" y2="1075.5" class="w"/><line x1="852.16" y1="1087.9" x2="852.16" y2="1091.1" class="w"/><line x1="849.56" y1="1075.5" x2="854.76" y2="1075.5" class="c"/><line x1="849.56" y1="1091.1" x2="854.76" y2="1091.1" class="c"/><rect x="846.91" y="1081.7" width="10.5" height="6.2" fill="#3cffff" class="b"/><line x1="848.66" y1="1084.5" x2="855.66" y2="1084.5" stroke="#22b8b8" stroke-width="1.3"/><path d="M846.16 1069.9h12M852.16 1063.9v12" class="o"/><line x1="872.16" y1="1087.9" x2="872.16" y2="1086" class="w"/><line x1="872.16" y1="1090.6" x2="872.16" y2="1092.4" class="w"/><line x1="869.56" y1="1086" x2="874.76" y2="1086" class="c"/><line x1="869.56" y1="1092.4" x2="874.76" y2="1092.4" class="c"/><rect x="866.91" y="1087.9" width="10.5" height="2.7" fill="#3c3cff" class="b"/><path d="M866.16 1084.5h12M872.16 1078.5v12" class="o"/><line x1="912.49" y1="1081.2" x2="912.49" y2="1072.3" class="w"/><line x1="912.49" y1="1088.7" x2="912.49" y2="1091.1" class="w"/><line x1="909.89" y1="1072.3" x2="915.09" y2="1072.3" class="c"/><line x1="909.89" y1="1091.1" x2="915.09" y2="1091.1" class="c"/><rect x="907.24" y="1081.2" width="10.5" height="7.5" fill="#3cffff" class="b"/><line x1="908.99" y1="1084.5" x2="915.99" y2="1084.5" stroke="#22b8b8" stroke-width="1.3"/><path d="M906.49 1064.8h12M912.49 1058.8v12" class="o"/><line x1="932.49" y1="1086.4" x2="932.49" y2="1085.5" class="w"/><line x1="932.49" y1="1089.2" x2="932.49" y2="1091.7" class="w"/><line x1="929.89" y1="1085.5" x2="935.09" y2="1085.5" class="c"/><line x1="929.89" y1="1091.7" x2="935.09" y2="1091.7" class="c"/><rect x="927.24" y="1086.4" width="10.5" height="2.8" fill="#3c3cff" class="b"/><path d="M926.49 1080.4h12M932.49 1074.4v12" class="o"/><path d="M926.49 1082.3h12M932.49 1076.3v12" class="o"/><line x1="972.82" y1="1088.3" x2="972.82" y2="1085.5" class="w"/><line x1="972.82" y1="1091.1" x2="972.82" y2="1094" class="w"/><line x1="970.22" y1="1085.5" x2="975.42" y2="1085.5" class="c"/><line x1="970.22" y1="1094" x2="975.42" y2="1094" class="c"/><rect x="967.57" y="1088.3" width="10.5" height="2.8" fill="#3cffff" class="b"/><path d="M966.82 1081.7h12M972.82 1075.7v12" class="o"/><line x1="992.82" y1="1088.7" x2="992.82" y2="1086.8" class="w"/><line x1="992.82" y1="1090.6" x2="992.82" y2="1092.1" class="w"/><line x1="990.22" y1="1086.8" x2="995.42" y2="1086.8" class="c"/><line x1="990.22" y1="1092.1" x2="995.42" y2="1092.1" class="c"/><rect x="987.57" y="1088.7" width="10.5" height="1.9" fill="#3c3cff" class="b"/><line x1="1033.15" y1="1088.3" x2="1033.15" y2="1086.4" class="w"/><line x1="1033.15" y1="1091.7" x2="1033.15" y2="1092.5" class="w"/><line x1="1030.55" y1="1086.4" x2="1035.75" y2="1086.4" class="c"/><line x1="1030.55" y1="1092.5" x2="1035.75" y2="1092.5" class="c"/><rect x="1027.9" y="1088.3" width="10.5" height="3.4" fill="#3cffff" class="b"/><line x1="1029.65" y1="1090" x2="1036.65" y2="1090" stroke="#22b8b8" stroke-width="1.3"/><path d="M1027.15 1081.3h12M1033.15 1075.3v12" class="o"/><path d="M1027.15 1081.6h12M1033.15 1075.6v12" class="o"/><line x1="1053.15" y1="1087.4" x2="1053.15" y2="1086.4" class="w"/><line x1="1053.15" y1="1091.7" x2="1053.15" y2="1092.3" class="w"/><line x1="1050.55" y1="1086.4" x2="1055.75" y2="1086.4" class="c"/><line x1="1050.55" y1="1092.3" x2="1055.75" y2="1092.3" class="c"/><rect x="1047.9" y="1087.4" width="10.5" height="4.3" fill="#3c3cff" class="b"/><line x1="1049.65" y1="1089.5" x2="1056.65" y2="1089.5" stroke="#5a14b4" stroke-width="1.3"/><path d="M1047.15 1079.8h12M1053.15 1073.8v12" class="o"/><line x1="1093.48" y1="1081.7" x2="1093.48" y2="1076.6" class="w"/><line x1="1093.48" y1="1090.6" x2="1093.48" y2="1092.1" class="w"/><line x1="1090.88" y1="1076.6" x2="1096.08" y2="1076.6" class="c"/><line x1="1090.88" y1="1092.1" x2="1096.08" y2="1092.1" class="c"/><rect x="1088.23" y="1081.7" width="10.5" height="8.9" fill="#3cffff" class="b"/><line x1="1089.98" y1="1086.4" x2="1096.98" y2="1086.4" stroke="#22b8b8" stroke-width="1.3"/><path d="M1087.48 1061h12M1093.48 1055v12" class="o"/><line x1="1113.48" y1="1090.2" x2="1113.48" y2="1089.5" class="w"/><line x1="1113.48" y1="1091.7" x2="1113.48" y2="1092.3" class="w"/><line x1="1110.88" y1="1089.5" x2="1116.08" y2="1089.5" class="c"/><line x1="1110.88" y1="1092.3" x2="1116.08" y2="1092.3" class="c"/><rect x="1108.23" y="1090.2" width="10.5" height="1.5" fill="#3c3cff" class="b"/><path d="M1107.48 1078h12M1113.48 1072v12" class="o"/><path d="M1107.48 1087.4h12M1113.48 1081.4v12" class="o"/><line x1="1153.81" y1="1088.3" x2="1153.81" y2="1084" class="w"/><line x1="1153.81" y1="1091.7" x2="1153.81" y2="1092.5" class="w"/><line x1="1151.21" y1="1084" x2="1156.41" y2="1084" class="c"/><line x1="1151.21" y1="1092.5" x2="1156.41" y2="1092.5" class="c"/><rect x="1148.56" y="1088.3" width="10.5" height="3.4" fill="#3cffff" class="b"/><line x1="1150.31" y1="1090" x2="1157.31" y2="1090" stroke="#22b8b8" stroke-width="1.3"/><path d="M1147.81 1078.9h12M1153.81 1072.9v12" class="o"/><line x1="1171.21" y1="1092.8" x2="1176.41" y2="1092.8" class="c"/><line x1="1171.21" y1="1094.3" x2="1176.41" y2="1094.3" class="c"/><rect x="1168.56" y="1093.2" width="10.5" height="0.8" fill="#3c3cff" class="b"/><path d="M1167.81 1086.8h12M1173.81 1080.8v12" class="o"/><line x1="1214.14" y1="1089.2" x2="1214.14" y2="1085.5" class="w"/><line x1="1214.14" y1="1092.6" x2="1214.14" y2="1093.3" class="w"/><line x1="1211.54" y1="1085.5" x2="1216.74" y2="1085.5" class="c"/><line x1="1211.54" y1="1093.3" x2="1216.74" y2="1093.3" class="c"/><rect x="1208.89" y="1089.2" width="10.5" height="3.4" fill="#3cffff" class="b"/><line x1="1210.64" y1="1091" x2="1217.64" y2="1091" stroke="#22b8b8" stroke-width="1.3"/><path d="M1208.14 1080.8h12M1214.14 1074.8v12" class="o"/><line x1="1231.54" y1="1093" x2="1236.74" y2="1093" class="c"/><line x1="1231.54" y1="1094.5" x2="1236.74" y2="1094.5" class="c"/><rect x="1228.89" y="1093.4" width="10.5" height="0.8" fill="#3c3cff" class="b"/><path d="M1228.14 1093h12M1234.14 1087v12" class="o"/><line x1="1274.47" y1="1088.3" x2="1274.47" y2="1085.5" class="w"/><line x1="1274.47" y1="1092.6" x2="1274.47" y2="1093.3" class="w"/><line x1="1271.87" y1="1085.5" x2="1277.07" y2="1085.5" class="c"/><line x1="1271.87" y1="1093.3" x2="1277.07" y2="1093.3" class="c"/><rect x="1269.22" y="1088.3" width="10.5" height="4.3" fill="#3cffff" class="b"/><line x1="1270.97" y1="1090.5" x2="1277.97" y2="1090.5" stroke="#22b8b8" stroke-width="1.3"/><path d="M1268.47 1079.8h12M1274.47 1073.8v12" class="o"/><line x1="1291.87" y1="1091.5" x2="1297.07" y2="1091.5" class="c"/><line x1="1291.87" y1="1094" x2="1297.07" y2="1094" class="c"/><rect x="1289.22" y="1092" width="10.5" height="1.6" fill="#3c3cff" class="b"/><path d="M1288.47 1091.1h12M1294.47 1085.1v12" class="o"/><line x1="1334.8" y1="1087.8" x2="1334.8" y2="1083.8" class="w"/><line x1="1334.8" y1="1093.2" x2="1334.8" y2="1093.8" class="w"/><line x1="1332.2" y1="1083.8" x2="1337.4" y2="1083.8" class="c"/><line x1="1332.2" y1="1093.8" x2="1337.4" y2="1093.8" class="c"/><rect x="1329.55" y="1087.8" width="10.5" height="5.4" fill="#3cffff" class="b"/><line x1="1331.3" y1="1090.5" x2="1338.3" y2="1090.5" stroke="#22b8b8" stroke-width="1.3"/><line x1="1352.2" y1="1093" x2="1357.4" y2="1093" class="c"/><line x1="1352.2" y1="1094.5" x2="1357.4" y2="1094.5" class="c"/><rect x="1349.55" y="1093.2" width="10.5" height="1" fill="#3c3cff" class="b"/><path d="M1348.8 1091.2h12M1354.8 1085.2v12" class="o"/><line x1="1395.13" y1="1089.2" x2="1395.13" y2="1086.2" class="w"/><line x1="1395.13" y1="1092.6" x2="1395.13" y2="1093.5" class="w"/><line x1="1392.53" y1="1086.2" x2="1397.73" y2="1086.2" class="c"/><line x1="1392.53" y1="1093.5" x2="1397.73" y2="1093.5" class="c"/><rect x="1389.88" y="1089.2" width="10.5" height="3.4" fill="#3cffff" class="b"/><line x1="1391.63" y1="1091" x2="1398.63" y2="1091" stroke="#22b8b8" stroke-width="1.3"/><path d="M1389.13 1080.2h12M1395.13 1074.2v12" class="o"/><path d="M1389.13 1084.6h12M1395.13 1078.6v12" class="o"/><line x1="1412.53" y1="1093" x2="1417.73" y2="1093" class="c"/><line x1="1412.53" y1="1094.5" x2="1417.73" y2="1094.5" class="c"/><rect x="1409.88" y="1093.2" width="10.5" height="1" fill="#3c3cff" class="b"/><path d="M1409.13 1093.2h12M1415.13 1087.2v12" class="o"/><line x1="1455.46" y1="1087.2" x2="1455.46" y2="1081.8" class="w"/><line x1="1455.46" y1="1091.8" x2="1455.46" y2="1094" class="w"/><line x1="1452.86" y1="1081.8" x2="1458.06" y2="1081.8" class="c"/><line x1="1452.86" y1="1094" x2="1458.06" y2="1094" class="c"/><rect x="1450.21" y="1087.2" width="10.5" height="4.6" fill="#3cffff" class="b"/><line x1="1451.96" y1="1089.5" x2="1458.96" y2="1089.5" stroke="#22b8b8" stroke-width="1.3"/><path d="M1449.46 1073.7h12M1455.46 1067.7v12" class="o"/><line x1="1472.86" y1="1092" x2="1478.06" y2="1092" class="c"/><line x1="1472.86" y1="1094.5" x2="1478.06" y2="1094.5" class="c"/><rect x="1470.21" y="1092.2" width="10.5" height="2" fill="#3c3cff" class="b"/><path d="M1469.46 1092.2h12M1475.46 1086.2v12" class="o"/><line x1="1515.79" y1="1090.6" x2="1515.79" y2="1089.6" class="w"/><line x1="1515.79" y1="1093.2" x2="1515.79" y2="1094" class="w"/><line x1="1513.19" y1="1089.6" x2="1518.39" y2="1089.6" class="c"/><line x1="1513.19" y1="1094" x2="1518.39" y2="1094" class="c"/><rect x="1510.54" y="1090.6" width="10.5" height="2.6" fill="#3cffff" class="b"/><path d="M1509.79 1085.6h12M1515.79 1079.6v12" class="o"/><line x1="1533.19" y1="1092.5" x2="1538.39" y2="1092.5" class="c"/><line x1="1533.19" y1="1094.5" x2="1538.39" y2="1094.5" class="c"/><rect x="1530.54" y="1092.8" width="10.5" height="1.4" fill="#3c3cff" class="b"/><path d="M1529.79 1090.2h12M1535.79 1084.2v12" class="o"/><path d="M1529.79 1092.2h12M1535.79 1086.2v12" class="o"/><line x1="1576.12" y1="1089.2" x2="1576.12" y2="1087.5" class="w"/><line x1="1576.12" y1="1092.2" x2="1576.12" y2="1094" class="w"/><line x1="1573.52" y1="1087.5" x2="1578.72" y2="1087.5" class="c"/><line x1="1573.52" y1="1094" x2="1578.72" y2="1094" class="c"/><rect x="1570.87" y="1089.2" width="10.5" height="3" fill="#3cffff" class="b"/><path d="M1570.12 1066.7h12M1576.12 1060.7v12" class="o"/><path d="M1570.12 1072.7h12M1576.12 1066.7v12" class="o"/><path d="M1570.12 1084.8h12M1576.12 1078.8v12" class="o"/><line x1="1593.52" y1="1093" x2="1598.72" y2="1093" class="c"/><line x1="1593.52" y1="1094.5" x2="1598.72" y2="1094.5" class="c"/><rect x="1590.87" y="1093.2" width="10.5" height="1" fill="#3c3cff" class="b"/><path d="M1590.12 1093.8h12M1596.12 1087.8v12" class="o"/></g><text x="204.8" y="914.8" class="ra" text-anchor="middle" style="font-size:35.2px">A</text><path d="M203.3 924.9L154.4 995.4M155.37 983.66L154.4 995.4L165.06 990.38" class="ar"/><path d="M203.3 924.9L203.3 974.2M197.4 964L203.3 974.2L209.2 964" class="ar"/><text x="0" y="0" class="ra" text-anchor="middle" style="font-size:38.2px" transform="translate(624.2 932.5) scale(0.87 1)">B</text><path d="M623 941.9L587.2 990.5M588.5 978.79L587.2 990.5L598 985.79" class="ar"/><path d="M623 941.9L663.7 990.8M652.64 986.73L663.7 990.8L661.71 979.19" class="ar"/><text x="8" y="1201.6" class="pl">D</text><text x="739.46" y="1225.9" class="ti" textLength="131" lengthAdjust="spacing">PA_rVAR</text><text x="894.37" y="1225.9" class="ti">[10 Hz]</text><path d="M75.7 1235.4V1538.6H1608.2" class="ax"/><line x1="75.7" y1="1517" x2="91.2" y2="1517" class="tk"/><text class="tl" text-anchor="end" transform="translate(65.6 1527.4) scale(1 1.025)">0</text><line x1="75.7" y1="1430.3" x2="91.2" y2="1430.3" class="tk"/><text class="tl" text-anchor="end" transform="translate(65.6 1440.7) scale(1 1.025)">20</text><line x1="75.7" y1="1343.6" x2="91.2" y2="1343.6" class="tk"/><text class="tl" text-anchor="end" transform="translate(65.6 1354) scale(1 1.025)">40</text><line x1="75.7" y1="1256.9" x2="91.2" y2="1256.9" class="tk"/><text class="tl" text-anchor="end" transform="translate(65.6 1267.3) scale(1 1.025)">60</text><line x1="129.9" y1="1538.6" x2="129.9" y2="1523.6" class="tk"/><text class="tl" text-anchor="middle" transform="translate(129.9 1575.4) scale(1 1.025)">1</text><line x1="190.24" y1="1538.6" x2="190.24" y2="1523.6" class="tk"/><text class="tl" text-anchor="middle" transform="translate(190.24 1575.4) scale(1 1.025)">2</text><line x1="250.58" y1="1538.6" x2="250.58" y2="1523.6" class="tk"/><text class="tl" text-anchor="middle" transform="translate(250.58 1575.4) scale(1 1.025)">3</text><line x1="310.92" y1="1538.6" x2="310.92" y2="1523.6" class="tk"/><text class="tl" text-anchor="middle" transform="translate(310.92 1575.4) scale(1 1.025)">4</text><line x1="371.26" y1="1538.6" x2="371.26" y2="1523.6" class="tk"/><text class="tl" text-anchor="middle" transform="translate(371.26 1575.4) scale(1 1.025)">5</text><line x1="431.6" y1="1538.6" x2="431.6" y2="1523.6" class="tk"/><text class="tl" text-anchor="middle" transform="translate(431.6 1575.4) scale(1 1.025)">6</text><line x1="491.94" y1="1538.6" x2="491.94" y2="1523.6" class="tk"/><text class="tl" text-anchor="middle" transform="translate(491.94 1575.4) scale(1 1.025)">7</text><line x1="552.28" y1="1538.6" x2="552.28" y2="1523.6" class="tk"/><text class="tl" text-anchor="middle" transform="translate(552.28 1575.4) scale(1 1.025)">8</text><line x1="612.62" y1="1538.6" x2="612.62" y2="1523.6" class="tk"/><text class="tl" text-anchor="middle" transform="translate(612.62 1575.4) scale(1 1.025)">9</text><line x1="672.96" y1="1538.6" x2="672.96" y2="1523.6" class="tk"/><text class="tl" text-anchor="middle" transform="translate(672.96 1575.4) scale(1 1.025)">10</text><line x1="733.3" y1="1538.6" x2="733.3" y2="1523.6" class="tk"/><text class="tl" text-anchor="middle" transform="translate(733.3 1575.4) scale(1 1.025)">11</text><line x1="793.64" y1="1538.6" x2="793.64" y2="1523.6" class="tk"/><text class="tl" text-anchor="middle" transform="translate(793.64 1575.4) scale(1 1.025)">12</text><line x1="853.98" y1="1538.6" x2="853.98" y2="1523.6" class="tk"/><text class="tl" text-anchor="middle" transform="translate(853.98 1575.4) scale(1 1.025)">13</text><line x1="914.32" y1="1538.6" x2="914.32" y2="1523.6" class="tk"/><text class="tl" text-anchor="middle" transform="translate(914.32 1575.4) scale(1 1.025)">14</text><line x1="974.66" y1="1538.6" x2="974.66" y2="1523.6" class="tk"/><text class="tl" text-anchor="middle" transform="translate(974.66 1575.4) scale(1 1.025)">15</text><line x1="1035" y1="1538.6" x2="1035" y2="1523.6" class="tk"/><text class="tl" text-anchor="middle" transform="translate(1035 1575.4) scale(1 1.025)">16</text><line x1="1095.34" y1="1538.6" x2="1095.34" y2="1523.6" class="tk"/><text class="tl" text-anchor="middle" transform="translate(1095.34 1575.4) scale(1 1.025)">17</text><line x1="1155.68" y1="1538.6" x2="1155.68" y2="1523.6" class="tk"/><text class="tl" text-anchor="middle" transform="translate(1155.68 1575.4) scale(1 1.025)">18</text><line x1="1216.02" y1="1538.6" x2="1216.02" y2="1523.6" class="tk"/><text class="tl" text-anchor="middle" transform="translate(1216.02 1575.4) scale(1 1.025)">19</text><line x1="1276.36" y1="1538.6" x2="1276.36" y2="1523.6" class="tk"/><text class="tl" text-anchor="middle" transform="translate(1276.36 1575.4) scale(1 1.025)">20</text><line x1="1336.7" y1="1538.6" x2="1336.7" y2="1523.6" class="tk"/><text class="tl" text-anchor="middle" transform="translate(1336.7 1575.4) scale(1 1.025)">21</text><line x1="1397.04" y1="1538.6" x2="1397.04" y2="1523.6" class="tk"/><text class="tl" text-anchor="middle" transform="translate(1397.04 1575.4) scale(1 1.025)">22</text><line x1="1457.38" y1="1538.6" x2="1457.38" y2="1523.6" class="tk"/><text class="tl" text-anchor="middle" transform="translate(1457.38 1575.4) scale(1 1.025)">23</text><line x1="1517.72" y1="1538.6" x2="1517.72" y2="1523.6" class="tk"/><text class="tl" text-anchor="middle" transform="translate(1517.72 1575.4) scale(1 1.025)">24</text><line x1="1578.06" y1="1538.6" x2="1578.06" y2="1523.6" class="tk"/><text class="tl" text-anchor="middle" transform="translate(1578.06 1575.4) scale(1 1.025)">25</text><text x="0" y="0" class="yl" text-anchor="middle" textLength="258.5" lengthAdjust="spacing" transform="translate(22.2 1387) rotate(-90)">Explained variance [%]</text><rect x="1484.8" y="1264.5" width="48.2" height="26.4" fill="#00ffff" stroke="#0a6e6e" stroke-width="0.8"/><rect x="1484.8" y="1296.6" width="48.2" height="26.9" fill="#0000f8" stroke="#000090" stroke-width="0.9"/><text class="lg" transform="translate(1545.2 1286.5) scale(1 1.04)">FS</text><text class="lg" transform="translate(1545.2 1321.8) scale(0.97 1.04)">WB</text><clipPath id="cD"><rect x="75.7" y="1235.4" width="1532.5" height="303.2"/></clipPath><g clip-path="url(#cD)"><line x1="119.9" y1="1480.5" x2="119.9" y2="1458.9" class="w"/><line x1="119.9" y1="1494" x2="119.9" y2="1503.1" class="w"/><line x1="117.3" y1="1458.9" x2="122.5" y2="1458.9" class="c"/><line x1="117.3" y1="1503.1" x2="122.5" y2="1503.1" class="c"/><rect x="114.65" y="1480.5" width="10.5" height="13.5" fill="#3cffff" class="b"/><line x1="116.4" y1="1488.1" x2="123.4" y2="1488.1" stroke="#22b8b8" stroke-width="1.3"/><line x1="139.9" y1="1486.4" x2="139.9" y2="1470.2" class="w"/><line x1="139.9" y1="1497.4" x2="139.9" y2="1506.1" class="w"/><line x1="137.3" y1="1470.2" x2="142.5" y2="1470.2" class="c"/><line x1="137.3" y1="1506.1" x2="142.5" y2="1506.1" class="c"/><rect x="134.65" y="1486.4" width="10.5" height="11" fill="#3c3cff" class="b"/><line x1="136.4" y1="1491.1" x2="143.4" y2="1491.1" stroke="#5a14b4" stroke-width="1.3"/><line x1="180.24" y1="1494.3" x2="180.24" y2="1488.4" class="w"/><line x1="180.24" y1="1502.7" x2="180.24" y2="1506.5" class="w"/><line x1="177.64" y1="1488.4" x2="182.84" y2="1488.4" class="c"/><line x1="177.64" y1="1506.5" x2="182.84" y2="1506.5" class="c"/><rect x="174.99" y="1494.3" width="10.5" height="8.4" fill="#3cffff" class="b"/><line x1="176.74" y1="1497.4" x2="183.74" y2="1497.4" stroke="#22b8b8" stroke-width="1.3"/><line x1="200.24" y1="1471.5" x2="200.24" y2="1452.5" class="w"/><line x1="200.24" y1="1485.2" x2="200.24" y2="1504.8" class="w"/><line x1="197.64" y1="1452.5" x2="202.84" y2="1452.5" class="c"/><line x1="197.64" y1="1504.8" x2="202.84" y2="1504.8" class="c"/><rect x="194.99" y="1471.5" width="10.5" height="13.7" fill="#3c3cff" class="b"/><line x1="196.74" y1="1478.2" x2="203.74" y2="1478.2" stroke="#5a14b4" stroke-width="1.3"/><path d="M194.24 1446.3h12M200.24 1440.3v12" class="o"/><line x1="240.58" y1="1470.3" x2="240.58" y2="1464.4" class="w"/><line x1="240.58" y1="1488.1" x2="240.58" y2="1497.1" class="w"/><line x1="237.98" y1="1464.4" x2="243.18" y2="1464.4" class="c"/><line x1="237.98" y1="1497.1" x2="243.18" y2="1497.1" class="c"/><rect x="235.33" y="1470.3" width="10.5" height="17.8" fill="#3cffff" class="b"/><line x1="237.08" y1="1479.9" x2="244.08" y2="1479.9" stroke="#22b8b8" stroke-width="1.3"/><line x1="260.58" y1="1499.3" x2="260.58" y2="1490.9" class="w"/><line x1="260.58" y1="1506.9" x2="260.58" y2="1510.6" class="w"/><line x1="257.98" y1="1490.9" x2="263.18" y2="1490.9" class="c"/><line x1="257.98" y1="1510.6" x2="263.18" y2="1510.6" class="c"/><rect x="255.33" y="1499.3" width="10.5" height="7.6" fill="#3c3cff" class="b"/><line x1="257.08" y1="1503.3" x2="264.08" y2="1503.3" stroke="#5a14b4" stroke-width="1.3"/><line x1="300.92" y1="1496.5" x2="300.92" y2="1490.3" class="w"/><line x1="300.92" y1="1503.8" x2="300.92" y2="1507.8" class="w"/><line x1="298.32" y1="1490.3" x2="303.52" y2="1490.3" class="c"/><line x1="298.32" y1="1507.8" x2="303.52" y2="1507.8" class="c"/><rect x="295.67" y="1496.5" width="10.5" height="7.3" fill="#3cffff" class="b"/><line x1="297.42" y1="1498.7" x2="304.42" y2="1498.7" stroke="#22b8b8" stroke-width="1.3"/><line x1="320.92" y1="1477.9" x2="320.92" y2="1460.9" class="w"/><line x1="320.92" y1="1492.3" x2="320.92" y2="1499.3" class="w"/><line x1="318.32" y1="1460.9" x2="323.52" y2="1460.9" class="c"/><line x1="318.32" y1="1499.3" x2="323.52" y2="1499.3" class="c"/><rect x="315.67" y="1477.9" width="10.5" height="14.4" fill="#3c3cff" class="b"/><line x1="317.42" y1="1483.5" x2="324.42" y2="1483.5" stroke="#5a14b4" stroke-width="1.3"/><path d="M314.92 1454.4h12M320.92 1448.4v12" class="o"/><line x1="361.26" y1="1500.1" x2="361.26" y2="1496.2" class="w"/><line x1="361.26" y1="1508.1" x2="361.26" y2="1513.4" class="w"/><line x1="358.66" y1="1496.2" x2="363.86" y2="1496.2" class="c"/><line x1="358.66" y1="1513.4" x2="363.86" y2="1513.4" class="c"/><rect x="356.01" y="1500.1" width="10.5" height="8" fill="#3cffff" class="b"/><line x1="357.76" y1="1502.7" x2="364.76" y2="1502.7" stroke="#22b8b8" stroke-width="1.3"/><path d="M355.26 1484.9h12M361.26 1478.9v12" class="o"/><line x1="381.26" y1="1472.2" x2="381.26" y2="1463.2" class="w"/><line x1="381.26" y1="1486.7" x2="381.26" y2="1495.7" class="w"/><line x1="378.66" y1="1463.2" x2="383.86" y2="1463.2" class="c"/><line x1="378.66" y1="1495.7" x2="383.86" y2="1495.7" class="c"/><rect x="376.01" y="1472.2" width="10.5" height="14.5" fill="#3c3cff" class="b"/><line x1="377.76" y1="1479.9" x2="384.76" y2="1479.9" stroke="#5a14b4" stroke-width="1.3"/><line x1="421.6" y1="1487.2" x2="421.6" y2="1470.9" class="w"/><line x1="421.6" y1="1502.5" x2="421.6" y2="1508.6" class="w"/><line x1="419" y1="1470.9" x2="424.2" y2="1470.9" class="c"/><line x1="419" y1="1508.6" x2="424.2" y2="1508.6" class="c"/><rect x="416.35" y="1487.2" width="10.5" height="15.3" fill="#3cffff" class="b"/><line x1="418.1" y1="1499.3" x2="425.1" y2="1499.3" stroke="#22b8b8" stroke-width="1.3"/><line x1="441.6" y1="1490.8" x2="441.6" y2="1484.1" class="w"/><line x1="441.6" y1="1500.4" x2="441.6" y2="1507.8" class="w"/><line x1="439" y1="1484.1" x2="444.2" y2="1484.1" class="c"/><line x1="439" y1="1507.8" x2="444.2" y2="1507.8" class="c"/><rect x="436.35" y="1490.8" width="10.5" height="9.6" fill="#3c3cff" class="b"/><line x1="438.1" y1="1495.4" x2="445.1" y2="1495.4" stroke="#5a14b4" stroke-width="1.3"/><path d="M435.6 1472.2h12M441.6 1466.2v12" class="o"/><path d="M435.6 1473.9h12M441.6 1467.9v12" class="o"/><line x1="481.94" y1="1491.3" x2="481.94" y2="1475.8" class="w"/><line x1="481.94" y1="1507.1" x2="481.94" y2="1510.9" class="w"/><line x1="479.34" y1="1475.8" x2="484.54" y2="1475.8" class="c"/><line x1="479.34" y1="1510.9" x2="484.54" y2="1510.9" class="c"/><rect x="476.69" y="1491.3" width="10.5" height="15.8" fill="#3cffff" class="b"/><line x1="478.44" y1="1505.6" x2="485.44" y2="1505.6" stroke="#22b8b8" stroke-width="1.3"/><line x1="501.94" y1="1474.8" x2="501.94" y2="1460.2" class="w"/><line x1="501.94" y1="1487.3" x2="501.94" y2="1501.1" class="w"/><line x1="499.34" y1="1460.2" x2="504.54" y2="1460.2" class="c"/><line x1="499.34" y1="1501.1" x2="504.54" y2="1501.1" class="c"/><rect x="496.69" y="1474.8" width="10.5" height="12.5" fill="#3c3cff" class="b"/><line x1="498.44" y1="1482.8" x2="505.44" y2="1482.8" stroke="#5a14b4" stroke-width="1.3"/><line x1="542.28" y1="1468.8" x2="542.28" y2="1441.4" class="w"/><line x1="542.28" y1="1501.6" x2="542.28" y2="1504.9" class="w"/><line x1="539.68" y1="1441.4" x2="544.88" y2="1441.4" class="c"/><line x1="539.68" y1="1504.9" x2="544.88" y2="1504.9" class="c"/><rect x="537.03" y="1468.8" width="10.5" height="32.8" fill="#3cffff" class="b"/><line x1="538.78" y1="1488.6" x2="545.78" y2="1488.6" stroke="#22b8b8" stroke-width="1.3"/><line x1="562.28" y1="1438.7" x2="562.28" y2="1416.6" class="w"/><line x1="562.28" y1="1456" x2="562.28" y2="1483.1" class="w"/><line x1="559.68" y1="1416.6" x2="564.88" y2="1416.6" class="c"/><line x1="559.68" y1="1483.1" x2="564.88" y2="1483.1" class="c"/><rect x="557.03" y="1438.7" width="10.5" height="17.3" fill="#3c3cff" class="b"/><line x1="558.78" y1="1448.5" x2="565.78" y2="1448.5" stroke="#5a14b4" stroke-width="1.3"/><path d="M556.28 1483.8h12M562.28 1477.8v12" class="o"/><line x1="602.62" y1="1502.2" x2="602.62" y2="1494.8" class="w"/><line x1="602.62" y1="1509.1" x2="602.62" y2="1512.7" class="w"/><line x1="600.02" y1="1494.8" x2="605.22" y2="1494.8" class="c"/><line x1="600.02" y1="1512.7" x2="605.22" y2="1512.7" class="c"/><rect x="597.37" y="1502.2" width="10.5" height="6.9" fill="#3cffff" class="b"/><line x1="599.12" y1="1505.6" x2="606.12" y2="1505.6" stroke="#22b8b8" stroke-width="1.3"/><line x1="622.62" y1="1502.6" x2="622.62" y2="1497.1" class="w"/><line x1="622.62" y1="1506.4" x2="622.62" y2="1508.6" class="w"/><line x1="620.02" y1="1497.1" x2="625.22" y2="1497.1" class="c"/><line x1="620.02" y1="1508.6" x2="625.22" y2="1508.6" class="c"/><rect x="617.37" y="1502.6" width="10.5" height="3.8" fill="#3c3cff" class="b"/><line x1="619.12" y1="1504.1" x2="626.12" y2="1504.1" stroke="#5a14b4" stroke-width="1.3"/><line x1="662.96" y1="1478.6" x2="662.96" y2="1454.8" class="w"/><line x1="662.96" y1="1506.1" x2="662.96" y2="1512.4" class="w"/><line x1="660.36" y1="1454.8" x2="665.56" y2="1454.8" class="c"/><line x1="660.36" y1="1512.4" x2="665.56" y2="1512.4" class="c"/><rect x="657.71" y="1478.6" width="10.5" height="27.5" fill="#3cffff" class="b"/><line x1="659.46" y1="1499.6" x2="666.46" y2="1499.6" stroke="#22b8b8" stroke-width="1.3"/><path d="M656.96 1431.6h12M662.96 1425.6v12" class="o"/><line x1="682.96" y1="1491.3" x2="682.96" y2="1470" class="w"/><line x1="682.96" y1="1504.9" x2="682.96" y2="1507.9" class="w"/><line x1="680.36" y1="1470" x2="685.56" y2="1470" class="c"/><line x1="680.36" y1="1507.9" x2="685.56" y2="1507.9" class="c"/><rect x="677.71" y="1491.3" width="10.5" height="13.6" fill="#3c3cff" class="b"/><line x1="679.46" y1="1502.6" x2="686.46" y2="1502.6" stroke="#5a14b4" stroke-width="1.3"/><line x1="723.3" y1="1506.1" x2="723.3" y2="1499.9" class="w"/><line x1="723.3" y1="1510.7" x2="723.3" y2="1513.1" class="w"/><line x1="720.7" y1="1499.9" x2="725.9" y2="1499.9" class="c"/><line x1="720.7" y1="1513.1" x2="725.9" y2="1513.1" class="c"/><rect x="718.05" y="1506.1" width="10.5" height="4.6" fill="#3cffff" class="b"/><line x1="719.8" y1="1508" x2="726.8" y2="1508" stroke="#22b8b8" stroke-width="1.3"/><path d="M717.3 1458h12M723.3 1452v12" class="o"/><path d="M717.3 1479.2h12M723.3 1473.2v12" class="o"/><path d="M717.3 1480.6h12M723.3 1474.6v12" class="o"/><path d="M717.3 1487.7h12M723.3 1481.7v12" class="o"/><line x1="743.3" y1="1499" x2="743.3" y2="1490.2" class="w"/><line x1="743.3" y1="1507.1" x2="743.3" y2="1509.9" class="w"/><line x1="740.7" y1="1490.2" x2="745.9" y2="1490.2" class="c"/><line x1="740.7" y1="1509.9" x2="745.9" y2="1509.9" class="c"/><rect x="738.05" y="1499" width="10.5" height="8.1" fill="#3c3cff" class="b"/><line x1="739.8" y1="1502.8" x2="746.8" y2="1502.8" stroke="#5a14b4" stroke-width="1.3"/><line x1="783.64" y1="1497.1" x2="783.64" y2="1493.9" class="w"/><line x1="783.64" y1="1508" x2="783.64" y2="1512.2" class="w"/><line x1="781.04" y1="1493.9" x2="786.24" y2="1493.9" class="c"/><line x1="781.04" y1="1512.2" x2="786.24" y2="1512.2" class="c"/><rect x="778.39" y="1497.1" width="10.5" height="10.9" fill="#3cffff" class="b"/><line x1="780.14" y1="1505.6" x2="787.14" y2="1505.6" stroke="#22b8b8" stroke-width="1.3"/><path d="M777.64 1470.4h12M783.64 1464.4v12" class="o"/><line x1="803.64" y1="1505" x2="803.64" y2="1502.4" class="w"/><line x1="803.64" y1="1508.4" x2="803.64" y2="1510.7" class="w"/><line x1="801.04" y1="1502.4" x2="806.24" y2="1502.4" class="c"/><line x1="801.04" y1="1510.7" x2="806.24" y2="1510.7" class="c"/><rect x="798.39" y="1505" width="10.5" height="3.4" fill="#3c3cff" class="b"/><line x1="800.14" y1="1506.5" x2="807.14" y2="1506.5" stroke="#5a14b4" stroke-width="1.3"/><path d="M797.64 1498.6h12M803.64 1492.6v12" class="o"/><line x1="843.98" y1="1502.4" x2="843.98" y2="1493.7" class="w"/><line x1="843.98" y1="1508.4" x2="843.98" y2="1512.7" class="w"/><line x1="841.38" y1="1493.7" x2="846.58" y2="1493.7" class="c"/><line x1="841.38" y1="1512.7" x2="846.58" y2="1512.7" class="c"/><rect x="838.73" y="1502.4" width="10.5" height="6" fill="#3cffff" class="b"/><line x1="840.48" y1="1505.6" x2="847.48" y2="1505.6" stroke="#22b8b8" stroke-width="1.3"/><path d="M837.98 1481.5h12M843.98 1475.5v12" class="o"/><path d="M837.98 1485.3h12M843.98 1479.3v12" class="o"/><line x1="863.98" y1="1503.1" x2="863.98" y2="1496.7" class="w"/><line x1="863.98" y1="1508.8" x2="863.98" y2="1509.9" class="w"/><line x1="861.38" y1="1496.7" x2="866.58" y2="1496.7" class="c"/><line x1="861.38" y1="1509.9" x2="866.58" y2="1509.9" class="c"/><rect x="858.73" y="1503.1" width="10.5" height="5.7" fill="#3c3cff" class="b"/><line x1="860.48" y1="1505.6" x2="867.48" y2="1505.6" stroke="#5a14b4" stroke-width="1.3"/><path d="M857.98 1490h12M863.98 1484v12" class="o"/><line x1="904.32" y1="1498.6" x2="904.32" y2="1488.6" class="w"/><line x1="904.32" y1="1508.4" x2="904.32" y2="1512.2" class="w"/><line x1="901.72" y1="1488.6" x2="906.92" y2="1488.6" class="c"/><line x1="901.72" y1="1512.2" x2="906.92" y2="1512.2" class="c"/><rect x="899.07" y="1498.6" width="10.5" height="9.8" fill="#3cffff" class="b"/><line x1="900.82" y1="1505.6" x2="907.82" y2="1505.6" stroke="#22b8b8" stroke-width="1.3"/><path d="M898.32 1472.3h12M904.32 1466.3v12" class="o"/><path d="M898.32 1481.5h12M904.32 1475.5v12" class="o"/><line x1="924.32" y1="1501.8" x2="924.32" y2="1496.7" class="w"/><line x1="924.32" y1="1506.9" x2="924.32" y2="1510.8" class="w"/><line x1="921.72" y1="1496.7" x2="926.92" y2="1496.7" class="c"/><line x1="921.72" y1="1510.8" x2="926.92" y2="1510.8" class="c"/><rect x="919.07" y="1501.8" width="10.5" height="5.1" fill="#3c3cff" class="b"/><line x1="920.82" y1="1504.3" x2="927.82" y2="1504.3" stroke="#5a14b4" stroke-width="1.3"/><line x1="964.66" y1="1506.1" x2="964.66" y2="1502.8" class="w"/><line x1="964.66" y1="1511.6" x2="964.66" y2="1516.3" class="w"/><line x1="962.06" y1="1502.8" x2="967.26" y2="1502.8" class="c"/><line x1="962.06" y1="1516.3" x2="967.26" y2="1516.3" class="c"/><rect x="959.41" y="1506.1" width="10.5" height="5.5" fill="#3cffff" class="b"/><line x1="961.16" y1="1508" x2="968.16" y2="1508" stroke="#22b8b8" stroke-width="1.3"/><path d="M958.66 1496.7h12M964.66 1490.7v12" class="o"/><line x1="984.66" y1="1506.9" x2="984.66" y2="1503.7" class="w"/><line x1="984.66" y1="1509.3" x2="984.66" y2="1511.8" class="w"/><line x1="982.06" y1="1503.7" x2="987.26" y2="1503.7" class="c"/><line x1="982.06" y1="1511.8" x2="987.26" y2="1511.8" class="c"/><rect x="979.41" y="1506.9" width="10.5" height="2.4" fill="#3c3cff" class="b"/><path d="M978.66 1501.8h12M984.66 1495.8v12" class="o"/><line x1="1025" y1="1508.4" x2="1025" y2="1505.6" class="w"/><line x1="1025" y1="1511.8" x2="1025" y2="1514" class="w"/><line x1="1022.4" y1="1505.6" x2="1027.6" y2="1505.6" class="c"/><line x1="1022.4" y1="1514" x2="1027.6" y2="1514" class="c"/><rect x="1019.75" y="1508.4" width="10.5" height="3.4" fill="#3cffff" class="b"/><line x1="1021.5" y1="1510" x2="1028.5" y2="1510" stroke="#22b8b8" stroke-width="1.3"/><path d="M1019 1499.9h12M1025 1493.9v12" class="o"/><path d="M1019 1501.8h12M1025 1495.8v12" class="o"/><path d="M1019 1504.3h12M1025 1498.3v12" class="o"/><line x1="1045" y1="1505.6" x2="1045" y2="1503.7" class="w"/><line x1="1045" y1="1509.3" x2="1045" y2="1511.8" class="w"/><line x1="1042.4" y1="1503.7" x2="1047.6" y2="1503.7" class="c"/><line x1="1042.4" y1="1511.8" x2="1047.6" y2="1511.8" class="c"/><rect x="1039.75" y="1505.6" width="10.5" height="3.7" fill="#3c3cff" class="b"/><line x1="1041.5" y1="1507.5" x2="1048.5" y2="1507.5" stroke="#5a14b4" stroke-width="1.3"/><path d="M1039 1491.1h12M1045 1485.1v12" class="o"/><path d="M1039 1498.1h12M1045 1492.1v12" class="o"/><line x1="1085.34" y1="1499" x2="1085.34" y2="1489.2" class="w"/><line x1="1085.34" y1="1510.7" x2="1085.34" y2="1513.1" class="w"/><line x1="1082.74" y1="1489.2" x2="1087.94" y2="1489.2" class="c"/><line x1="1082.74" y1="1513.1" x2="1087.94" y2="1513.1" class="c"/><rect x="1080.09" y="1499" width="10.5" height="11.7" fill="#3cffff" class="b"/><line x1="1081.84" y1="1506" x2="1088.84" y2="1506" stroke="#22b8b8" stroke-width="1.3"/><path d="M1079.34 1475.9h12M1085.34 1469.9v12" class="o"/><line x1="1105.34" y1="1505.6" x2="1105.34" y2="1499.9" class="w"/><line x1="1105.34" y1="1509.3" x2="1105.34" y2="1511.8" class="w"/><line x1="1102.74" y1="1499.9" x2="1107.94" y2="1499.9" class="c"/><line x1="1102.74" y1="1511.8" x2="1107.94" y2="1511.8" class="c"/><rect x="1100.09" y="1505.6" width="10.5" height="3.7" fill="#3c3cff" class="b"/><line x1="1101.84" y1="1507.5" x2="1108.84" y2="1507.5" stroke="#5a14b4" stroke-width="1.3"/><path d="M1099.34 1493h12M1105.34 1487v12" class="o"/><path d="M1099.34 1496.7h12M1105.34 1490.7v12" class="o"/><line x1="1145.68" y1="1508.4" x2="1145.68" y2="1504.6" class="w"/><line x1="1145.68" y1="1512.2" x2="1145.68" y2="1514.4" class="w"/><line x1="1143.08" y1="1504.6" x2="1148.28" y2="1504.6" class="c"/><line x1="1143.08" y1="1514.4" x2="1148.28" y2="1514.4" class="c"/><rect x="1140.43" y="1508.4" width="10.5" height="3.8" fill="#3cffff" class="b"/><line x1="1142.18" y1="1510.5" x2="1149.18" y2="1510.5" stroke="#22b8b8" stroke-width="1.3"/><path d="M1139.68 1497.1h12M1145.68 1491.1v12" class="o"/><path d="M1139.68 1500.9h12M1145.68 1494.9v12" class="o"/><line x1="1163.08" y1="1512" x2="1168.28" y2="1512" class="c"/><line x1="1163.08" y1="1515.5" x2="1168.28" y2="1515.5" class="c"/><rect x="1160.43" y="1512.5" width="10.5" height="2.5" fill="#3c3cff" class="b"/><path d="M1159.68 1502.2h12M1165.68 1496.2v12" class="o"/><line x1="1206.02" y1="1509.9" x2="1206.02" y2="1506" class="w"/><line x1="1206.02" y1="1514" x2="1206.02" y2="1515" class="w"/><line x1="1203.42" y1="1506" x2="1208.62" y2="1506" class="c"/><line x1="1203.42" y1="1515" x2="1208.62" y2="1515" class="c"/><rect x="1200.77" y="1509.9" width="10.5" height="4.1" fill="#3cffff" class="b"/><line x1="1202.52" y1="1512" x2="1209.52" y2="1512" stroke="#22b8b8" stroke-width="1.3"/><path d="M1200.02 1500.9h12M1206.02 1494.9v12" class="o"/><line x1="1226.02" y1="1515.4" x2="1226.02" y2="1516" class="w"/><line x1="1223.42" y1="1513.5" x2="1228.62" y2="1513.5" class="c"/><line x1="1223.42" y1="1516" x2="1228.62" y2="1516" class="c"/><rect x="1220.77" y="1514" width="10.5" height="1.4" fill="#3c3cff" class="b"/><path d="M1220.02 1514.4h12M1226.02 1508.4v12" class="o"/><line x1="1266.36" y1="1507.5" x2="1266.36" y2="1500.3" class="w"/><line x1="1266.36" y1="1512.5" x2="1266.36" y2="1515" class="w"/><line x1="1263.76" y1="1500.3" x2="1268.96" y2="1500.3" class="c"/><line x1="1263.76" y1="1515" x2="1268.96" y2="1515" class="c"/><rect x="1261.11" y="1507.5" width="10.5" height="5" fill="#3cffff" class="b"/><line x1="1262.86" y1="1510" x2="1269.86" y2="1510" stroke="#22b8b8" stroke-width="1.3"/><path d="M1260.36 1497.1h12M1266.36 1491.1v12" class="o"/><path d="M1260.36 1498.6h12M1266.36 1492.6v12" class="o"/><line x1="1286.36" y1="1511.8" x2="1286.36" y2="1510.5" class="w"/><line x1="1286.36" y1="1514" x2="1286.36" y2="1515" class="w"/><line x1="1283.76" y1="1510.5" x2="1288.96" y2="1510.5" class="c"/><line x1="1283.76" y1="1515" x2="1288.96" y2="1515" class="c"/><rect x="1281.11" y="1511.8" width="10.5" height="2.2" fill="#3c3cff" class="b"/><path d="M1280.36 1507.5h12M1286.36 1501.5v12" class="o"/><line x1="1326.7" y1="1508.6" x2="1326.7" y2="1504.8" class="w"/><line x1="1326.7" y1="1514.1" x2="1326.7" y2="1516" class="w"/><line x1="1324.1" y1="1504.8" x2="1329.3" y2="1504.8" class="c"/><line x1="1324.1" y1="1516" x2="1329.3" y2="1516" class="c"/><rect x="1321.45" y="1508.6" width="10.5" height="5.5" fill="#3cffff" class="b"/><line x1="1323.2" y1="1511.5" x2="1330.2" y2="1511.5" stroke="#22b8b8" stroke-width="1.3"/><path d="M1320.7 1499.8h12M1326.7 1493.8v12" class="o"/><line x1="1346.7" y1="1515.4" x2="1346.7" y2="1516" class="w"/><line x1="1344.1" y1="1512.5" x2="1349.3" y2="1512.5" class="c"/><line x1="1344.1" y1="1516" x2="1349.3" y2="1516" class="c"/><rect x="1341.45" y="1512.9" width="10.5" height="2.5" fill="#3c3cff" class="b"/><path d="M1340.7 1510.4h12M1346.7 1504.4v12" class="o"/><line x1="1387.04" y1="1509.8" x2="1387.04" y2="1505.6" class="w"/><line x1="1387.04" y1="1513.6" x2="1387.04" y2="1515.6" class="w"/><line x1="1384.44" y1="1505.6" x2="1389.64" y2="1505.6" class="c"/><line x1="1384.44" y1="1515.6" x2="1389.64" y2="1515.6" class="c"/><rect x="1381.79" y="1509.8" width="10.5" height="3.8" fill="#3cffff" class="b"/><line x1="1383.54" y1="1511.8" x2="1390.54" y2="1511.8" stroke="#22b8b8" stroke-width="1.3"/><path d="M1381.04 1494.3h12M1387.04 1488.3v12" class="o"/><path d="M1381.04 1503.6h12M1387.04 1497.6v12" class="o"/><line x1="1404.44" y1="1514" x2="1409.64" y2="1514" class="c"/><line x1="1404.44" y1="1515.6" x2="1409.64" y2="1515.6" class="c"/><rect x="1401.79" y="1514.3" width="10.5" height="1" fill="#3c3cff" class="b"/><line x1="1447.38" y1="1506.1" x2="1447.38" y2="1503.6" class="w"/><line x1="1447.38" y1="1512.9" x2="1447.38" y2="1516" class="w"/><line x1="1444.78" y1="1503.6" x2="1449.98" y2="1503.6" class="c"/><line x1="1444.78" y1="1516" x2="1449.98" y2="1516" class="c"/><rect x="1442.13" y="1506.1" width="10.5" height="6.8" fill="#3cffff" class="b"/><line x1="1443.88" y1="1509.5" x2="1450.88" y2="1509.5" stroke="#22b8b8" stroke-width="1.3"/><path d="M1441.38 1487.8h12M1447.38 1481.8v12" class="o"/><line x1="1464.78" y1="1513.3" x2="1469.98" y2="1513.3" class="c"/><line x1="1464.78" y1="1515.6" x2="1469.98" y2="1515.6" class="c"/><rect x="1462.13" y="1513.8" width="10.5" height="1.5" fill="#3c3cff" class="b"/><line x1="1507.72" y1="1511.3" x2="1507.72" y2="1508.3" class="w"/><line x1="1507.72" y1="1514.6" x2="1507.72" y2="1516" class="w"/><line x1="1505.12" y1="1508.3" x2="1510.32" y2="1508.3" class="c"/><line x1="1505.12" y1="1516" x2="1510.32" y2="1516" class="c"/><rect x="1502.47" y="1511.3" width="10.5" height="3.3" fill="#3cffff" class="b"/><line x1="1504.22" y1="1513" x2="1511.22" y2="1513" stroke="#22b8b8" stroke-width="1.3"/><line x1="1527.72" y1="1512.5" x2="1527.72" y2="1511.5" class="w"/><line x1="1527.72" y1="1515" x2="1527.72" y2="1515.6" class="w"/><line x1="1525.12" y1="1511.5" x2="1530.32" y2="1511.5" class="c"/><line x1="1525.12" y1="1515.6" x2="1530.32" y2="1515.6" class="c"/><rect x="1522.47" y="1512.5" width="10.5" height="2.5" fill="#3c3cff" class="b"/><path d="M1521.72 1505.3h12M1527.72 1499.3v12" class="o"/><path d="M1521.72 1508.3h12M1527.72 1502.3v12" class="o"/><line x1="1568.06" y1="1505.3" x2="1568.06" y2="1502.1" class="w"/><line x1="1568.06" y1="1513.3" x2="1568.06" y2="1516" class="w"/><line x1="1565.46" y1="1502.1" x2="1570.66" y2="1502.1" class="c"/><line x1="1565.46" y1="1516" x2="1570.66" y2="1516" class="c"/><rect x="1562.81" y="1505.3" width="10.5" height="8" fill="#3cffff" class="b"/><line x1="1564.56" y1="1509" x2="1571.56" y2="1509" stroke="#22b8b8" stroke-width="1.3"/><path d="M1562.06 1485.3h12M1568.06 1479.3v12" class="o"/><path d="M1562.06 1488.3h12M1568.06 1482.3v12" class="o"/><path d="M1562.06 1491.3h12M1568.06 1485.3v12" class="o"/><line x1="1588.06" y1="1515.4" x2="1588.06" y2="1516" class="w"/><line x1="1585.46" y1="1513" x2="1590.66" y2="1513" class="c"/><line x1="1585.46" y1="1516" x2="1590.66" y2="1516" class="c"/><rect x="1582.81" y="1513.3" width="10.5" height="2.1" fill="#3c3cff" class="b"/><path d="M1582.06 1511.3h12M1588.06 1505.3v12" class="o"/></g><text x="198" y="1333.8" class="ra" text-anchor="middle" style="font-size:36.8px">A</text><path d="M196.1 1343.6L143 1419.8M143.99 1408.06L143 1419.8L153.67 1414.8" class="ar"/><path d="M196.1 1343.6L196.1 1396.6M190.2 1386.4L196.1 1396.6L202 1386.4" class="ar"/><text x="0" y="0" class="ra" text-anchor="middle" style="font-size:38.2px" transform="translate(614.5 1331.5) scale(0.87 1)">B</text><path d="M613.4 1341.5L577.5 1390M578.83 1378.29L577.5 1390L588.31 1385.31" class="ar"/><path d="M613.4 1341.5L653.9 1390.2M642.84 1386.13L653.9 1390.2L651.91 1378.59" class="ar"/><text x="8" y="1592" class="pl">E</text><text x="738.96" y="1634.3" class="ti" textLength="131" lengthAdjust="spacing">PA_rVAR</text><text x="893.87" y="1634.3" class="ti">[20 Hz]</text><path d="M75.7 1643.5V1923.2H1608.2" class="ax"/><line x1="75.7" y1="1903.4" x2="91.2" y2="1903.4" class="tk"/><text class="tl" text-anchor="end" transform="translate(65.6 1913.8) scale(1 1.025)">0</text><line x1="75.7" y1="1823.4" x2="91.2" y2="1823.4" class="tk"/><text class="tl" text-anchor="end" transform="translate(65.6 1833.8) scale(1 1.025)">20</text><line x1="75.7" y1="1743.4" x2="91.2" y2="1743.4" class="tk"/><text class="tl" text-anchor="end" transform="translate(65.6 1753.8) scale(1 1.025)">40</text><line x1="75.7" y1="1663.4" x2="91.2" y2="1663.4" class="tk"/><text class="tl" text-anchor="end" transform="translate(65.6 1673.8) scale(1 1.025)">60</text><line x1="129.9" y1="1923.2" x2="129.9" y2="1908.2" class="tk"/><text class="tl" text-anchor="middle" transform="translate(129.9 1960.7) scale(1 1.025)">1</text><line x1="190.24" y1="1923.2" x2="190.24" y2="1908.2" class="tk"/><text class="tl" text-anchor="middle" transform="translate(190.24 1960.7) scale(1 1.025)">2</text><line x1="250.58" y1="1923.2" x2="250.58" y2="1908.2" class="tk"/><text class="tl" text-anchor="middle" transform="translate(250.58 1960.7) scale(1 1.025)">3</text><line x1="310.92" y1="1923.2" x2="310.92" y2="1908.2" class="tk"/><text class="tl" text-anchor="middle" transform="translate(310.92 1960.7) scale(1 1.025)">4</text><line x1="371.26" y1="1923.2" x2="371.26" y2="1908.2" class="tk"/><text class="tl" text-anchor="middle" transform="translate(371.26 1960.7) scale(1 1.025)">5</text><line x1="431.6" y1="1923.2" x2="431.6" y2="1908.2" class="tk"/><text class="tl" text-anchor="middle" transform="translate(431.6 1960.7) scale(1 1.025)">6</text><line x1="491.94" y1="1923.2" x2="491.94" y2="1908.2" class="tk"/><text class="tl" text-anchor="middle" transform="translate(491.94 1960.7) scale(1 1.025)">7</text><line x1="552.28" y1="1923.2" x2="552.28" y2="1908.2" class="tk"/><text class="tl" text-anchor="middle" transform="translate(552.28 1960.7) scale(1 1.025)">8</text><line x1="612.62" y1="1923.2" x2="612.62" y2="1908.2" class="tk"/><text class="tl" text-anchor="middle" transform="translate(612.62 1960.7) scale(1 1.025)">9</text><line x1="672.96" y1="1923.2" x2="672.96" y2="1908.2" class="tk"/><text class="tl" text-anchor="middle" transform="translate(672.96 1960.7) scale(1 1.025)">10</text><line x1="733.3" y1="1923.2" x2="733.3" y2="1908.2" class="tk"/><text class="tl" text-anchor="middle" transform="translate(733.3 1960.7) scale(1 1.025)">11</text><line x1="793.64" y1="1923.2" x2="793.64" y2="1908.2" class="tk"/><text class="tl" text-anchor="middle" transform="translate(793.64 1960.7) scale(1 1.025)">12</text><line x1="853.98" y1="1923.2" x2="853.98" y2="1908.2" class="tk"/><text class="tl" text-anchor="middle" transform="translate(853.98 1960.7) scale(1 1.025)">13</text><line x1="914.32" y1="1923.2" x2="914.32" y2="1908.2" class="tk"/><text class="tl" text-anchor="middle" transform="translate(914.32 1960.7) scale(1 1.025)">14</text><line x1="974.66" y1="1923.2" x2="974.66" y2="1908.2" class="tk"/><text class="tl" text-anchor="middle" transform="translate(974.66 1960.7) scale(1 1.025)">15</text><line x1="1035" y1="1923.2" x2="1035" y2="1908.2" class="tk"/><text class="tl" text-anchor="middle" transform="translate(1035 1960.7) scale(1 1.025)">16</text><line x1="1095.34" y1="1923.2" x2="1095.34" y2="1908.2" class="tk"/><text class="tl" text-anchor="middle" transform="translate(1095.34 1960.7) scale(1 1.025)">17</text><line x1="1155.68" y1="1923.2" x2="1155.68" y2="1908.2" class="tk"/><text class="tl" text-anchor="middle" transform="translate(1155.68 1960.7) scale(1 1.025)">18</text><line x1="1216.02" y1="1923.2" x2="1216.02" y2="1908.2" class="tk"/><text class="tl" text-anchor="middle" transform="translate(1216.02 1960.7) scale(1 1.025)">19</text><line x1="1276.36" y1="1923.2" x2="1276.36" y2="1908.2" class="tk"/><text class="tl" text-anchor="middle" transform="translate(1276.36 1960.7) scale(1 1.025)">20</text><line x1="1336.7" y1="1923.2" x2="1336.7" y2="1908.2" class="tk"/><text class="tl" text-anchor="middle" transform="translate(1336.7 1960.7) scale(1 1.025)">21</text><line x1="1397.04" y1="1923.2" x2="1397.04" y2="1908.2" class="tk"/><text class="tl" text-anchor="middle" transform="translate(1397.04 1960.7) scale(1 1.025)">22</text><line x1="1457.38" y1="1923.2" x2="1457.38" y2="1908.2" class="tk"/><text class="tl" text-anchor="middle" transform="translate(1457.38 1960.7) scale(1 1.025)">23</text><line x1="1517.72" y1="1923.2" x2="1517.72" y2="1908.2" class="tk"/><text class="tl" text-anchor="middle" transform="translate(1517.72 1960.7) scale(1 1.025)">24</text><line x1="1578.06" y1="1923.2" x2="1578.06" y2="1908.2" class="tk"/><text class="tl" text-anchor="middle" transform="translate(1578.06 1960.7) scale(1 1.025)">25</text><text x="0" y="0" class="yl" text-anchor="middle" textLength="258.5" lengthAdjust="spacing" transform="translate(22.2 1783.35) rotate(-90)">Explained variance [%]</text><rect x="1485.1" y="1673.6" width="47.9" height="26.2" fill="#00ffff" stroke="#0a6e6e" stroke-width="0.8"/><rect x="1485.1" y="1705.9" width="47.9" height="26.9" fill="#0000f8" stroke="#000090" stroke-width="0.9"/><text class="lg" transform="translate(1546 1695.6) scale(1 1.04)">FS</text><text class="lg" transform="translate(1546 1731.2) scale(0.97 1.04)">WB</text><clipPath id="cE"><rect x="75.7" y="1643.5" width="1532.5" height="279.7"/></clipPath><g clip-path="url(#cE)"><line x1="119.9" y1="1880.7" x2="119.9" y2="1869.7" class="w"/><line x1="119.9" y1="1888.1" x2="119.9" y2="1898.6" class="w"/><line x1="117.3" y1="1869.7" x2="122.5" y2="1869.7" class="c"/><line x1="117.3" y1="1898.6" x2="122.5" y2="1898.6" class="c"/><rect x="114.65" y="1880.7" width="10.5" height="7.4" fill="#3cffff" class="b"/><line x1="116.4" y1="1885.2" x2="123.4" y2="1885.2" stroke="#22b8b8" stroke-width="1.3"/><line x1="139.9" y1="1883.5" x2="139.9" y2="1875.6" class="w"/><line x1="139.9" y1="1890.3" x2="139.9" y2="1900.5" class="w"/><line x1="137.3" y1="1875.6" x2="142.5" y2="1875.6" class="c"/><line x1="137.3" y1="1900.5" x2="142.5" y2="1900.5" class="c"/><rect x="134.65" y="1883.5" width="10.5" height="6.8" fill="#3c3cff" class="b"/><line x1="136.4" y1="1886.9" x2="143.4" y2="1886.9" stroke="#5a14b4" stroke-width="1.3"/><line x1="180.24" y1="1885.8" x2="180.24" y2="1878.2" class="w"/><line x1="180.24" y1="1893.1" x2="180.24" y2="1895.6" class="w"/><line x1="177.64" y1="1878.2" x2="182.84" y2="1878.2" class="c"/><line x1="177.64" y1="1895.6" x2="182.84" y2="1895.6" class="c"/><rect x="174.99" y="1885.8" width="10.5" height="7.3" fill="#3cffff" class="b"/><line x1="176.74" y1="1890" x2="183.74" y2="1890" stroke="#22b8b8" stroke-width="1.3"/><line x1="200.24" y1="1871.7" x2="200.24" y2="1859.8" class="w"/><line x1="200.24" y1="1880.2" x2="200.24" y2="1891.1" class="w"/><line x1="197.64" y1="1859.8" x2="202.84" y2="1859.8" class="c"/><line x1="197.64" y1="1891.1" x2="202.84" y2="1891.1" class="c"/><rect x="194.99" y="1871.7" width="10.5" height="8.5" fill="#3c3cff" class="b"/><line x1="196.74" y1="1876.8" x2="203.74" y2="1876.8" stroke="#5a14b4" stroke-width="1.3"/><path d="M194.24 1855.3h12M200.24 1849.3v12" class="o"/><line x1="240.58" y1="1872.6" x2="240.58" y2="1859.3" class="w"/><line x1="240.58" y1="1885" x2="240.58" y2="1897.1" class="w"/><line x1="237.98" y1="1859.3" x2="243.18" y2="1859.3" class="c"/><line x1="237.98" y1="1897.1" x2="243.18" y2="1897.1" class="c"/><rect x="235.33" y="1872.6" width="10.5" height="12.4" fill="#3cffff" class="b"/><line x1="237.08" y1="1877.3" x2="244.08" y2="1877.3" stroke="#22b8b8" stroke-width="1.3"/><line x1="260.58" y1="1888.9" x2="260.58" y2="1883.9" class="w"/><line x1="260.58" y1="1892.2" x2="260.58" y2="1894.5" class="w"/><line x1="257.98" y1="1883.9" x2="263.18" y2="1883.9" class="c"/><line x1="257.98" y1="1894.5" x2="263.18" y2="1894.5" class="c"/><rect x="255.33" y="1888.9" width="10.5" height="3.3" fill="#3c3cff" class="b"/><line x1="257.08" y1="1890.3" x2="264.08" y2="1890.3" stroke="#5a14b4" stroke-width="1.3"/><path d="M254.58 1878.7h12M260.58 1872.7v12" class="o"/><line x1="300.92" y1="1887.1" x2="300.92" y2="1884.4" class="w"/><line x1="300.92" y1="1895.4" x2="300.92" y2="1899.3" class="w"/><line x1="298.32" y1="1884.4" x2="303.52" y2="1884.4" class="c"/><line x1="298.32" y1="1899.3" x2="303.52" y2="1899.3" class="c"/><rect x="295.67" y="1887.1" width="10.5" height="8.3" fill="#3cffff" class="b"/><line x1="297.42" y1="1891.2" x2="304.42" y2="1891.2" stroke="#22b8b8" stroke-width="1.3"/><line x1="320.92" y1="1871.7" x2="320.92" y2="1855.1" class="w"/><line x1="320.92" y1="1884.1" x2="320.92" y2="1891.2" class="w"/><line x1="318.32" y1="1855.1" x2="323.52" y2="1855.1" class="c"/><line x1="318.32" y1="1891.2" x2="323.52" y2="1891.2" class="c"/><rect x="315.67" y="1871.7" width="10.5" height="12.4" fill="#3c3cff" class="b"/><line x1="317.42" y1="1878.8" x2="324.42" y2="1878.8" stroke="#5a14b4" stroke-width="1.3"/><line x1="361.26" y1="1891.6" x2="361.26" y2="1889.2" class="w"/><line x1="361.26" y1="1896.2" x2="361.26" y2="1900.2" class="w"/><line x1="358.66" y1="1889.2" x2="363.86" y2="1889.2" class="c"/><line x1="358.66" y1="1900.2" x2="363.86" y2="1900.2" class="c"/><rect x="356.01" y="1891.6" width="10.5" height="4.6" fill="#3cffff" class="b"/><line x1="357.76" y1="1893.7" x2="364.76" y2="1893.7" stroke="#22b8b8" stroke-width="1.3"/><path d="M355.26 1876.2h12M361.26 1870.2v12" class="o"/><line x1="381.26" y1="1873.6" x2="381.26" y2="1864.1" class="w"/><line x1="381.26" y1="1884.1" x2="381.26" y2="1895.4" class="w"/><line x1="378.66" y1="1864.1" x2="383.86" y2="1864.1" class="c"/><line x1="378.66" y1="1895.4" x2="383.86" y2="1895.4" class="c"/><rect x="376.01" y="1873.6" width="10.5" height="10.5" fill="#3c3cff" class="b"/><line x1="377.76" y1="1879" x2="384.76" y2="1879" stroke="#5a14b4" stroke-width="1.3"/><line x1="421.6" y1="1880.5" x2="421.6" y2="1862.6" class="w"/><line x1="421.6" y1="1893.9" x2="421.6" y2="1898.2" class="w"/><line x1="419" y1="1862.6" x2="424.2" y2="1862.6" class="c"/><line x1="419" y1="1898.2" x2="424.2" y2="1898.2" class="c"/><rect x="416.35" y="1880.5" width="10.5" height="13.4" fill="#3cffff" class="b"/><line x1="418.1" y1="1889.2" x2="425.1" y2="1889.2" stroke="#22b8b8" stroke-width="1.3"/><line x1="441.6" y1="1880.5" x2="441.6" y2="1874.5" class="w"/><line x1="441.6" y1="1887.5" x2="441.6" y2="1893.1" class="w"/><line x1="439" y1="1874.5" x2="444.2" y2="1874.5" class="c"/><line x1="439" y1="1893.1" x2="444.2" y2="1893.1" class="c"/><rect x="436.35" y="1880.5" width="10.5" height="7" fill="#3c3cff" class="b"/><line x1="438.1" y1="1884.1" x2="445.1" y2="1884.1" stroke="#5a14b4" stroke-width="1.3"/><path d="M435.6 1868h12M441.6 1862v12" class="o"/><line x1="481.94" y1="1887.1" x2="481.94" y2="1877.1" class="w"/><line x1="481.94" y1="1897.1" x2="481.94" y2="1899.1" class="w"/><line x1="479.34" y1="1877.1" x2="484.54" y2="1877.1" class="c"/><line x1="479.34" y1="1899.1" x2="484.54" y2="1899.1" class="c"/><rect x="476.69" y="1887.1" width="10.5" height="10" fill="#3cffff" class="b"/><line x1="478.44" y1="1894.1" x2="485.44" y2="1894.1" stroke="#22b8b8" stroke-width="1.3"/><line x1="501.94" y1="1870.5" x2="501.94" y2="1860.7" class="w"/><line x1="501.94" y1="1881" x2="501.94" y2="1892.6" class="w"/><line x1="499.34" y1="1860.7" x2="504.54" y2="1860.7" class="c"/><line x1="499.34" y1="1892.6" x2="504.54" y2="1892.6" class="c"/><rect x="496.69" y="1870.5" width="10.5" height="10.5" fill="#3c3cff" class="b"/><line x1="498.44" y1="1875.3" x2="505.44" y2="1875.3" stroke="#5a14b4" stroke-width="1.3"/><path d="M495.94 1846h12M501.94 1840v12" class="o"/><path d="M495.94 1849.7h12M501.94 1843.7v12" class="o"/><line x1="542.28" y1="1852.5" x2="542.28" y2="1825.2" class="w"/><line x1="542.28" y1="1890.1" x2="542.28" y2="1897.6" class="w"/><line x1="539.68" y1="1825.2" x2="544.88" y2="1825.2" class="c"/><line x1="539.68" y1="1897.6" x2="544.88" y2="1897.6" class="c"/><rect x="537.03" y="1852.5" width="10.5" height="37.6" fill="#3cffff" class="b"/><line x1="538.78" y1="1874.6" x2="545.78" y2="1874.6" stroke="#22b8b8" stroke-width="1.3"/><line x1="562.28" y1="1844.5" x2="562.28" y2="1834" class="w"/><line x1="562.28" y1="1864" x2="562.28" y2="1880.6" class="w"/><line x1="559.68" y1="1834" x2="564.88" y2="1834" class="c"/><line x1="559.68" y1="1880.6" x2="564.88" y2="1880.6" class="c"/><rect x="557.03" y="1844.5" width="10.5" height="19.5" fill="#3c3cff" class="b"/><line x1="558.78" y1="1858" x2="565.78" y2="1858" stroke="#5a14b4" stroke-width="1.3"/><line x1="602.62" y1="1891.1" x2="602.62" y2="1883.6" class="w"/><line x1="602.62" y1="1897.6" x2="602.62" y2="1900.9" class="w"/><line x1="600.02" y1="1883.6" x2="605.22" y2="1883.6" class="c"/><line x1="600.02" y1="1900.9" x2="605.22" y2="1900.9" class="c"/><rect x="597.37" y="1891.1" width="10.5" height="6.5" fill="#3cffff" class="b"/><line x1="599.12" y1="1894.6" x2="606.12" y2="1894.6" stroke="#22b8b8" stroke-width="1.3"/><line x1="622.62" y1="1887.1" x2="622.62" y2="1882.1" class="w"/><line x1="622.62" y1="1891.1" x2="622.62" y2="1896.4" class="w"/><line x1="620.02" y1="1882.1" x2="625.22" y2="1882.1" class="c"/><line x1="620.02" y1="1896.4" x2="625.22" y2="1896.4" class="c"/><rect x="617.37" y="1887.1" width="10.5" height="4" fill="#3c3cff" class="b"/><line x1="619.12" y1="1888.9" x2="626.12" y2="1888.9" stroke="#5a14b4" stroke-width="1.3"/><path d="M616.62 1879.8h12M622.62 1873.8v12" class="o"/><line x1="662.96" y1="1865.5" x2="662.96" y2="1838.5" class="w"/><line x1="662.96" y1="1891.9" x2="662.96" y2="1899.4" class="w"/><line x1="660.36" y1="1838.5" x2="665.56" y2="1838.5" class="c"/><line x1="660.36" y1="1899.4" x2="665.56" y2="1899.4" class="c"/><rect x="657.71" y="1865.5" width="10.5" height="26.4" fill="#3cffff" class="b"/><line x1="659.46" y1="1883.6" x2="666.46" y2="1883.6" stroke="#22b8b8" stroke-width="1.3"/><path d="M656.96 1822.7h12M662.96 1816.7v12" class="o"/><line x1="682.96" y1="1881.6" x2="682.96" y2="1870.1" class="w"/><line x1="682.96" y1="1889.6" x2="682.96" y2="1898.6" class="w"/><line x1="680.36" y1="1870.1" x2="685.56" y2="1870.1" class="c"/><line x1="680.36" y1="1898.6" x2="685.56" y2="1898.6" class="c"/><rect x="677.71" y="1881.6" width="10.5" height="8" fill="#3c3cff" class="b"/><line x1="679.46" y1="1886.6" x2="686.46" y2="1886.6" stroke="#5a14b4" stroke-width="1.3"/><line x1="723.3" y1="1891.5" x2="723.3" y2="1888.3" class="w"/><line x1="723.3" y1="1896.7" x2="723.3" y2="1900.9" class="w"/><line x1="720.7" y1="1888.3" x2="725.9" y2="1888.3" class="c"/><line x1="720.7" y1="1900.9" x2="725.9" y2="1900.9" class="c"/><rect x="718.05" y="1891.5" width="10.5" height="5.2" fill="#3cffff" class="b"/><line x1="719.8" y1="1894.3" x2="726.8" y2="1894.3" stroke="#22b8b8" stroke-width="1.3"/><path d="M717.3 1848.2h12M723.3 1842.2v12" class="o"/><path d="M717.3 1858.6h12M723.3 1852.6v12" class="o"/><path d="M717.3 1864.8h12M723.3 1858.8v12" class="o"/><path d="M717.3 1871.2h12M723.3 1865.2v12" class="o"/><line x1="743.3" y1="1887.3" x2="743.3" y2="1881.7" class="w"/><line x1="743.3" y1="1891.5" x2="743.3" y2="1894.3" class="w"/><line x1="740.7" y1="1881.7" x2="745.9" y2="1881.7" class="c"/><line x1="740.7" y1="1894.3" x2="745.9" y2="1894.3" class="c"/><rect x="738.05" y="1887.3" width="10.5" height="4.2" fill="#3c3cff" class="b"/><line x1="739.8" y1="1889.2" x2="746.8" y2="1889.2" stroke="#5a14b4" stroke-width="1.3"/><path d="M737.3 1878.9h12M743.3 1872.9v12" class="o"/><line x1="783.64" y1="1885.8" x2="783.64" y2="1876.8" class="w"/><line x1="783.64" y1="1895.2" x2="783.64" y2="1900.9" class="w"/><line x1="781.04" y1="1876.8" x2="786.24" y2="1876.8" class="c"/><line x1="781.04" y1="1900.9" x2="786.24" y2="1900.9" class="c"/><rect x="778.39" y="1885.8" width="10.5" height="9.4" fill="#3cffff" class="b"/><line x1="780.14" y1="1892" x2="787.14" y2="1892" stroke="#22b8b8" stroke-width="1.3"/><line x1="803.64" y1="1889.2" x2="803.64" y2="1885.5" class="w"/><line x1="803.64" y1="1893.4" x2="803.64" y2="1896.7" class="w"/><line x1="801.04" y1="1885.5" x2="806.24" y2="1885.5" class="c"/><line x1="801.04" y1="1896.7" x2="806.24" y2="1896.7" class="c"/><rect x="798.39" y="1889.2" width="10.5" height="4.2" fill="#3c3cff" class="b"/><line x1="800.14" y1="1891" x2="807.14" y2="1891" stroke="#5a14b4" stroke-width="1.3"/><line x1="843.98" y1="1888.6" x2="843.98" y2="1875.9" class="w"/><line x1="843.98" y1="1898.1" x2="843.98" y2="1900.5" class="w"/><line x1="841.38" y1="1875.9" x2="846.58" y2="1875.9" class="c"/><line x1="841.38" y1="1900.5" x2="846.58" y2="1900.5" class="c"/><rect x="838.73" y="1888.6" width="10.5" height="9.5" fill="#3cffff" class="b"/><line x1="840.48" y1="1894.9" x2="847.48" y2="1894.9" stroke="#22b8b8" stroke-width="1.3"/><path d="M837.98 1867.6h12M843.98 1861.6v12" class="o"/><path d="M837.98 1867.9h12M843.98 1861.9v12" class="o"/><line x1="863.98" y1="1883" x2="863.98" y2="1871.7" class="w"/><line x1="863.98" y1="1891.5" x2="863.98" y2="1895.2" class="w"/><line x1="861.38" y1="1871.7" x2="866.58" y2="1871.7" class="c"/><line x1="861.38" y1="1895.2" x2="866.58" y2="1895.2" class="c"/><rect x="858.73" y="1883" width="10.5" height="8.5" fill="#3c3cff" class="b"/><line x1="860.48" y1="1887.7" x2="867.48" y2="1887.7" stroke="#5a14b4" stroke-width="1.3"/><path d="M857.98 1849.5h12M863.98 1843.5v12" class="o"/><path d="M857.98 1865.7h12M863.98 1859.7v12" class="o"/><path d="M857.98 1869.3h12M863.98 1863.3v12" class="o"/><line x1="904.32" y1="1884.3" x2="904.32" y2="1873.2" class="w"/><line x1="904.32" y1="1893.9" x2="904.32" y2="1899" class="w"/><line x1="901.72" y1="1873.2" x2="906.92" y2="1873.2" class="c"/><line x1="901.72" y1="1899" x2="906.92" y2="1899" class="c"/><rect x="899.07" y="1884.3" width="10.5" height="9.6" fill="#3cffff" class="b"/><line x1="900.82" y1="1890.5" x2="907.82" y2="1890.5" stroke="#22b8b8" stroke-width="1.3"/><path d="M898.32 1858.2h12M904.32 1852.2v12" class="o"/><path d="M898.32 1861.8h12M904.32 1855.8v12" class="o"/><line x1="924.32" y1="1885.8" x2="924.32" y2="1880.2" class="w"/><line x1="924.32" y1="1891.5" x2="924.32" y2="1894.9" class="w"/><line x1="921.72" y1="1880.2" x2="926.92" y2="1880.2" class="c"/><line x1="921.72" y1="1894.9" x2="926.92" y2="1894.9" class="c"/><rect x="919.07" y="1885.8" width="10.5" height="5.7" fill="#3c3cff" class="b"/><line x1="920.82" y1="1888.6" x2="927.82" y2="1888.6" stroke="#5a14b4" stroke-width="1.3"/><line x1="964.66" y1="1891.5" x2="964.66" y2="1883.4" class="w"/><line x1="964.66" y1="1898.1" x2="964.66" y2="1902.8" class="w"/><line x1="962.06" y1="1883.4" x2="967.26" y2="1883.4" class="c"/><line x1="962.06" y1="1902.8" x2="967.26" y2="1902.8" class="c"/><rect x="959.41" y="1891.5" width="10.5" height="6.6" fill="#3cffff" class="b"/><line x1="961.16" y1="1894.9" x2="968.16" y2="1894.9" stroke="#22b8b8" stroke-width="1.3"/><line x1="984.66" y1="1889.6" x2="984.66" y2="1882.6" class="w"/><line x1="984.66" y1="1893.7" x2="984.66" y2="1899" class="w"/><line x1="982.06" y1="1882.6" x2="987.26" y2="1882.6" class="c"/><line x1="982.06" y1="1899" x2="987.26" y2="1899" class="c"/><rect x="979.41" y="1889.6" width="10.5" height="4.1" fill="#3c3cff" class="b"/><line x1="981.16" y1="1891.5" x2="988.16" y2="1891.5" stroke="#5a14b4" stroke-width="1.3"/><path d="M978.66 1879.8h12M984.66 1873.8v12" class="o"/><line x1="1025" y1="1894.9" x2="1025" y2="1892.4" class="w"/><line x1="1025" y1="1898.6" x2="1025" y2="1900.9" class="w"/><line x1="1022.4" y1="1892.4" x2="1027.6" y2="1892.4" class="c"/><line x1="1022.4" y1="1900.9" x2="1027.6" y2="1900.9" class="c"/><rect x="1019.75" y="1894.9" width="10.5" height="3.7" fill="#3cffff" class="b"/><line x1="1021.5" y1="1896.5" x2="1028.5" y2="1896.5" stroke="#22b8b8" stroke-width="1.3"/><path d="M1019 1885.8h12M1025 1879.8v12" class="o"/><path d="M1019 1888.1h12M1025 1882.1v12" class="o"/><line x1="1045" y1="1890.5" x2="1045" y2="1887.7" class="w"/><line x1="1045" y1="1893" x2="1045" y2="1895.2" class="w"/><line x1="1042.4" y1="1887.7" x2="1047.6" y2="1887.7" class="c"/><line x1="1042.4" y1="1895.2" x2="1047.6" y2="1895.2" class="c"/><rect x="1039.75" y="1890.5" width="10.5" height="2.5" fill="#3c3cff" class="b"/><path d="M1039 1877.9h12M1045 1871.9v12" class="o"/><path d="M1039 1881.7h12M1045 1875.7v12" class="o"/><path d="M1039 1897.1h12M1045 1891.1v12" class="o"/><line x1="1085.34" y1="1885.5" x2="1085.34" y2="1870.4" class="w"/><line x1="1085.34" y1="1897.1" x2="1085.34" y2="1899.6" class="w"/><line x1="1082.74" y1="1870.4" x2="1087.94" y2="1870.4" class="c"/><line x1="1082.74" y1="1899.6" x2="1087.94" y2="1899.6" class="c"/><rect x="1080.09" y="1885.5" width="10.5" height="11.6" fill="#3cffff" class="b"/><line x1="1081.84" y1="1893.5" x2="1088.84" y2="1893.5" stroke="#22b8b8" stroke-width="1.3"/><path d="M1079.34 1865.7h12M1085.34 1859.7v12" class="o"/><line x1="1105.34" y1="1889.2" x2="1105.34" y2="1882.1" class="w"/><line x1="1105.34" y1="1894.3" x2="1105.34" y2="1897.1" class="w"/><line x1="1102.74" y1="1882.1" x2="1107.94" y2="1882.1" class="c"/><line x1="1102.74" y1="1897.1" x2="1107.94" y2="1897.1" class="c"/><rect x="1100.09" y="1889.2" width="10.5" height="5.1" fill="#3c3cff" class="b"/><line x1="1101.84" y1="1891.5" x2="1108.84" y2="1891.5" stroke="#5a14b4" stroke-width="1.3"/><line x1="1145.68" y1="1893.7" x2="1145.68" y2="1886.4" class="w"/><line x1="1145.68" y1="1899" x2="1145.68" y2="1900.9" class="w"/><line x1="1143.08" y1="1886.4" x2="1148.28" y2="1886.4" class="c"/><line x1="1143.08" y1="1900.9" x2="1148.28" y2="1900.9" class="c"/><rect x="1140.43" y="1893.7" width="10.5" height="5.3" fill="#3cffff" class="b"/><line x1="1142.18" y1="1896.5" x2="1149.18" y2="1896.5" stroke="#22b8b8" stroke-width="1.3"/><path d="M1139.68 1874.5h12M1145.68 1868.5v12" class="o"/><path d="M1139.68 1877.9h12M1145.68 1871.9v12" class="o"/><path d="M1139.68 1880.6h12M1145.68 1874.6v12" class="o"/><line x1="1165.68" y1="1899.9" x2="1165.68" y2="1900.5" class="w"/><line x1="1163.08" y1="1897.2" x2="1168.28" y2="1897.2" class="c"/><line x1="1163.08" y1="1900.5" x2="1168.28" y2="1900.5" class="c"/><rect x="1160.43" y="1897.7" width="10.5" height="2.2" fill="#3c3cff" class="b"/><path d="M1159.68 1874.9h12M1165.68 1868.9v12" class="o"/><path d="M1159.68 1890h12M1165.68 1884v12" class="o"/><path d="M1159.68 1893.4h12M1165.68 1887.4v12" class="o"/><line x1="1206.02" y1="1896.7" x2="1206.02" y2="1893.4" class="w"/><line x1="1206.02" y1="1900.5" x2="1206.02" y2="1901.8" class="w"/><line x1="1203.42" y1="1893.4" x2="1208.62" y2="1893.4" class="c"/><line x1="1203.42" y1="1901.8" x2="1208.62" y2="1901.8" class="c"/><rect x="1200.77" y="1896.7" width="10.5" height="3.8" fill="#3cffff" class="b"/><line x1="1202.52" y1="1898.5" x2="1209.52" y2="1898.5" stroke="#22b8b8" stroke-width="1.3"/><line x1="1226.02" y1="1899.4" x2="1226.02" y2="1898.8" class="w"/><line x1="1226.02" y1="1901.2" x2="1226.02" y2="1901.8" class="w"/><line x1="1223.42" y1="1898.8" x2="1228.62" y2="1898.8" class="c"/><line x1="1223.42" y1="1901.8" x2="1228.62" y2="1901.8" class="c"/><rect x="1220.77" y="1899.4" width="10.5" height="1.8" fill="#3c3cff" class="b"/><path d="M1220.02 1899h12M1226.02 1893v12" class="o"/><path d="M1220.02 1900.5h12M1226.02 1894.5v12" class="o"/><line x1="1266.36" y1="1891.5" x2="1266.36" y2="1885.5" class="w"/><line x1="1266.36" y1="1899" x2="1266.36" y2="1901.8" class="w"/><line x1="1263.76" y1="1885.5" x2="1268.96" y2="1885.5" class="c"/><line x1="1263.76" y1="1901.8" x2="1268.96" y2="1901.8" class="c"/><rect x="1261.11" y="1891.5" width="10.5" height="7.5" fill="#3cffff" class="b"/><line x1="1262.86" y1="1895.3" x2="1269.86" y2="1895.3" stroke="#22b8b8" stroke-width="1.3"/><path d="M1260.36 1874.5h12M1266.36 1868.5v12" class="o"/><path d="M1260.36 1877.9h12M1266.36 1871.9v12" class="o"/><line x1="1286.36" y1="1898.6" x2="1286.36" y2="1898" class="w"/><line x1="1283.76" y1="1898" x2="1288.96" y2="1898" class="c"/><line x1="1283.76" y1="1901" x2="1288.96" y2="1901" class="c"/><rect x="1281.11" y="1898.6" width="10.5" height="1.9" fill="#3c3cff" class="b"/><path d="M1280.36 1887.3h12M1286.36 1881.3v12" class="o"/><line x1="1326.7" y1="1896.1" x2="1326.7" y2="1891" class="w"/><line x1="1326.7" y1="1900.7" x2="1326.7" y2="1902.3" class="w"/><line x1="1324.1" y1="1891" x2="1329.3" y2="1891" class="c"/><line x1="1324.1" y1="1902.3" x2="1329.3" y2="1902.3" class="c"/><rect x="1321.45" y="1896.1" width="10.5" height="4.6" fill="#3cffff" class="b"/><line x1="1323.2" y1="1898" x2="1330.2" y2="1898" stroke="#22b8b8" stroke-width="1.3"/><path d="M1320.7 1880.4h12M1326.7 1874.4v12" class="o"/><line x1="1346.7" y1="1898.6" x2="1346.7" y2="1898" class="w"/><line x1="1344.1" y1="1898" x2="1349.3" y2="1898" class="c"/><line x1="1344.1" y1="1901.6" x2="1349.3" y2="1901.6" class="c"/><rect x="1341.45" y="1898.6" width="10.5" height="2.5" fill="#3c3cff" class="b"/><path d="M1340.7 1892h12M1346.7 1886v12" class="o"/><line x1="1387.04" y1="1896.1" x2="1387.04" y2="1892.8" class="w"/><line x1="1387.04" y1="1899.7" x2="1387.04" y2="1902.3" class="w"/><line x1="1384.44" y1="1892.8" x2="1389.64" y2="1892.8" class="c"/><line x1="1384.44" y1="1902.3" x2="1389.64" y2="1902.3" class="c"/><rect x="1381.79" y="1896.1" width="10.5" height="3.6" fill="#3cffff" class="b"/><line x1="1383.54" y1="1898" x2="1390.54" y2="1898" stroke="#22b8b8" stroke-width="1.3"/><path d="M1381.04 1887.2h12M1387.04 1881.2v12" class="o"/><path d="M1381.04 1892h12M1387.04 1886v12" class="o"/><line x1="1404.44" y1="1899.2" x2="1409.64" y2="1899.2" class="c"/><line x1="1404.44" y1="1901.8" x2="1409.64" y2="1901.8" class="c"/><rect x="1401.79" y="1899.7" width="10.5" height="1.6" fill="#3c3cff" class="b"/><line x1="1447.38" y1="1891.4" x2="1447.38" y2="1887.2" class="w"/><line x1="1447.38" y1="1899.2" x2="1447.38" y2="1902.3" class="w"/><line x1="1444.78" y1="1887.2" x2="1449.98" y2="1887.2" class="c"/><line x1="1444.78" y1="1902.3" x2="1449.98" y2="1902.3" class="c"/><rect x="1442.13" y="1891.4" width="10.5" height="7.8" fill="#3cffff" class="b"/><line x1="1443.88" y1="1896" x2="1450.88" y2="1896" stroke="#22b8b8" stroke-width="1.3"/><path d="M1441.38 1870.3h12M1447.38 1864.3v12" class="o"/><line x1="1464.78" y1="1899.2" x2="1469.98" y2="1899.2" class="c"/><line x1="1464.78" y1="1902.2" x2="1469.98" y2="1902.2" class="c"/><rect x="1462.13" y="1899.7" width="10.5" height="2" fill="#3c3cff" class="b"/><path d="M1461.38 1894.9h12M1467.38 1888.9v12" class="o"/><path d="M1461.38 1897h12M1467.38 1891v12" class="o"/><line x1="1507.72" y1="1898.6" x2="1507.72" y2="1896.6" class="w"/><line x1="1507.72" y1="1901.7" x2="1507.72" y2="1903" class="w"/><line x1="1505.12" y1="1896.6" x2="1510.32" y2="1896.6" class="c"/><line x1="1505.12" y1="1903" x2="1510.32" y2="1903" class="c"/><rect x="1502.47" y="1898.6" width="10.5" height="3.1" fill="#3cffff" class="b"/><line x1="1504.22" y1="1899.6" x2="1511.22" y2="1899.6" stroke="#22b8b8" stroke-width="1.3"/><line x1="1527.72" y1="1894.5" x2="1527.72" y2="1891.4" class="w"/><line x1="1527.72" y1="1899" x2="1527.72" y2="1900.3" class="w"/><line x1="1525.12" y1="1891.4" x2="1530.32" y2="1891.4" class="c"/><line x1="1525.12" y1="1900.3" x2="1530.32" y2="1900.3" class="c"/><rect x="1522.47" y="1894.5" width="10.5" height="4.5" fill="#3c3cff" class="b"/><line x1="1524.22" y1="1896.6" x2="1531.22" y2="1896.6" stroke="#5a14b4" stroke-width="1.3"/><line x1="1568.06" y1="1891" x2="1568.06" y2="1882.1" class="w"/><line x1="1568.06" y1="1899.7" x2="1568.06" y2="1902.7" class="w"/><line x1="1565.46" y1="1882.1" x2="1570.66" y2="1882.1" class="c"/><line x1="1565.46" y1="1902.7" x2="1570.66" y2="1902.7" class="c"/><rect x="1562.81" y="1891" width="10.5" height="8.7" fill="#3cffff" class="b"/><line x1="1564.56" y1="1896.6" x2="1571.56" y2="1896.6" stroke="#22b8b8" stroke-width="1.3"/><path d="M1562.06 1861.8h12M1568.06 1855.8v12" class="o"/><line x1="1585.46" y1="1899.2" x2="1590.66" y2="1899.2" class="c"/><line x1="1585.46" y1="1901.8" x2="1590.66" y2="1901.8" class="c"/><rect x="1582.81" y="1899.7" width="10.5" height="1.6" fill="#3c3cff" class="b"/><path d="M1582.06 1895.5h12M1588.06 1889.5v12" class="o"/><path d="M1582.06 1897h12M1588.06 1891v12" class="o"/></g><text x="201.4" y="1753.4" class="ra" text-anchor="middle" style="font-size:36.8px">A</text><path d="M199.2 1763.1L146.4 1839.2M147.37 1827.46L146.4 1839.2L157.06 1834.18" class="ar"/><path d="M199.2 1763.1L199.2 1815.8M193.3 1805.6L199.2 1815.8L205.1 1805.6" class="ar"/><text x="0" y="0" class="ra" text-anchor="middle" style="font-size:38.2px" transform="translate(612.8 1738.5) scale(0.87 1)">B</text><path d="M611.8 1748.3L575.7 1796.8M577.06 1785.09L575.7 1796.8L586.52 1792.14" class="ar"/><path d="M611.8 1748.3L652.1 1796.8M641.04 1792.73L652.1 1796.8L650.12 1785.18" class="ar"/><text x="7.8" y="1981.7" class="pl">F</text><text x="699.66" y="2018.7" class="ti" textLength="131" lengthAdjust="spacing">PA_rVAR</text><text x="854.37" y="2018.7" class="ti">[No filtering]</text><path d="M75.7 2027.8V2276.5H1608.2" class="ax"/><line x1="75.7" y1="2258.6" x2="91.2" y2="2258.6" class="tk"/><text class="tl" text-anchor="end" transform="translate(65.6 2269) scale(1 1.025)">0</text><line x1="75.7" y1="2187.6" x2="91.2" y2="2187.6" class="tk"/><text class="tl" text-anchor="end" transform="translate(65.6 2198) scale(1 1.025)">20</text><line x1="75.7" y1="2116.6" x2="91.2" y2="2116.6" class="tk"/><text class="tl" text-anchor="end" transform="translate(65.6 2127) scale(1 1.025)">40</text><line x1="75.7" y1="2045.6" x2="91.2" y2="2045.6" class="tk"/><text class="tl" text-anchor="end" transform="translate(65.6 2056) scale(1 1.025)">60</text><line x1="129.9" y1="2276.5" x2="129.9" y2="2261.5" class="tk"/><text class="tl" text-anchor="middle" transform="translate(129.9 2313.8) scale(1 1.025)">1</text><line x1="190.24" y1="2276.5" x2="190.24" y2="2261.5" class="tk"/><text class="tl" text-anchor="middle" transform="translate(190.24 2313.8) scale(1 1.025)">2</text><line x1="250.58" y1="2276.5" x2="250.58" y2="2261.5" class="tk"/><text class="tl" text-anchor="middle" transform="translate(250.58 2313.8) scale(1 1.025)">3</text><line x1="310.92" y1="2276.5" x2="310.92" y2="2261.5" class="tk"/><text class="tl" text-anchor="middle" transform="translate(310.92 2313.8) scale(1 1.025)">4</text><line x1="371.26" y1="2276.5" x2="371.26" y2="2261.5" class="tk"/><text class="tl" text-anchor="middle" transform="translate(371.26 2313.8) scale(1 1.025)">5</text><line x1="431.6" y1="2276.5" x2="431.6" y2="2261.5" class="tk"/><text class="tl" text-anchor="middle" transform="translate(431.6 2313.8) scale(1 1.025)">6</text><line x1="491.94" y1="2276.5" x2="491.94" y2="2261.5" class="tk"/><text class="tl" text-anchor="middle" transform="translate(491.94 2313.8) scale(1 1.025)">7</text><line x1="552.28" y1="2276.5" x2="552.28" y2="2261.5" class="tk"/><text class="tl" text-anchor="middle" transform="translate(552.28 2313.8) scale(1 1.025)">8</text><line x1="612.62" y1="2276.5" x2="612.62" y2="2261.5" class="tk"/><text class="tl" text-anchor="middle" transform="translate(612.62 2313.8) scale(1 1.025)">9</text><line x1="672.96" y1="2276.5" x2="672.96" y2="2261.5" class="tk"/><text class="tl" text-anchor="middle" transform="translate(672.96 2313.8) scale(1 1.025)">10</text><line x1="733.3" y1="2276.5" x2="733.3" y2="2261.5" class="tk"/><text class="tl" text-anchor="middle" transform="translate(733.3 2313.8) scale(1 1.025)">11</text><line x1="793.64" y1="2276.5" x2="793.64" y2="2261.5" class="tk"/><text class="tl" text-anchor="middle" transform="translate(793.64 2313.8) scale(1 1.025)">12</text><line x1="853.98" y1="2276.5" x2="853.98" y2="2261.5" class="tk"/><text class="tl" text-anchor="middle" transform="translate(853.98 2313.8) scale(1 1.025)">13</text><line x1="914.32" y1="2276.5" x2="914.32" y2="2261.5" class="tk"/><text class="tl" text-anchor="middle" transform="translate(914.32 2313.8) scale(1 1.025)">14</text><line x1="974.66" y1="2276.5" x2="974.66" y2="2261.5" class="tk"/><text class="tl" text-anchor="middle" transform="translate(974.66 2313.8) scale(1 1.025)">15</text><line x1="1035" y1="2276.5" x2="1035" y2="2261.5" class="tk"/><text class="tl" text-anchor="middle" transform="translate(1035 2313.8) scale(1 1.025)">16</text><line x1="1095.34" y1="2276.5" x2="1095.34" y2="2261.5" class="tk"/><text class="tl" text-anchor="middle" transform="translate(1095.34 2313.8) scale(1 1.025)">17</text><line x1="1155.68" y1="2276.5" x2="1155.68" y2="2261.5" class="tk"/><text class="tl" text-anchor="middle" transform="translate(1155.68 2313.8) scale(1 1.025)">18</text><line x1="1216.02" y1="2276.5" x2="1216.02" y2="2261.5" class="tk"/><text class="tl" text-anchor="middle" transform="translate(1216.02 2313.8) scale(1 1.025)">19</text><line x1="1276.36" y1="2276.5" x2="1276.36" y2="2261.5" class="tk"/><text class="tl" text-anchor="middle" transform="translate(1276.36 2313.8) scale(1 1.025)">20</text><line x1="1336.7" y1="2276.5" x2="1336.7" y2="2261.5" class="tk"/><text class="tl" text-anchor="middle" transform="translate(1336.7 2313.8) scale(1 1.025)">21</text><line x1="1397.04" y1="2276.5" x2="1397.04" y2="2261.5" class="tk"/><text class="tl" text-anchor="middle" transform="translate(1397.04 2313.8) scale(1 1.025)">22</text><line x1="1457.38" y1="2276.5" x2="1457.38" y2="2261.5" class="tk"/><text class="tl" text-anchor="middle" transform="translate(1457.38 2313.8) scale(1 1.025)">23</text><line x1="1517.72" y1="2276.5" x2="1517.72" y2="2261.5" class="tk"/><text class="tl" text-anchor="middle" transform="translate(1517.72 2313.8) scale(1 1.025)">24</text><line x1="1578.06" y1="2276.5" x2="1578.06" y2="2261.5" class="tk"/><text class="tl" text-anchor="middle" transform="translate(1578.06 2313.8) scale(1 1.025)">25</text><text x="0" y="0" class="yl" text-anchor="middle" textLength="258.5" lengthAdjust="spacing" transform="translate(22.2 2152.15) rotate(-90)">Explained variance [%]</text><rect x="1481.3" y="2059.6" width="47.9" height="26.6" fill="#00ffff" stroke="#0a6e6e" stroke-width="0.8"/><rect x="1481.3" y="2092" width="47.9" height="26.8" fill="#0000f8" stroke="#000090" stroke-width="0.9"/><text class="lg" transform="translate(1542.2 2081.7) scale(1 1.04)">FS</text><text class="lg" transform="translate(1542.2 2117.3) scale(0.97 1.04)">WB</text><clipPath id="cF"><rect x="75.7" y="2027.8" width="1532.5" height="248.7"/></clipPath><g clip-path="url(#cF)"><line x1="119.9" y1="2243.7" x2="119.9" y2="2238.9" class="w"/><line x1="119.9" y1="2248.2" x2="119.9" y2="2254.7" class="w"/><line x1="117.3" y1="2238.9" x2="122.5" y2="2238.9" class="c"/><line x1="117.3" y1="2254.7" x2="122.5" y2="2254.7" class="c"/><rect x="114.65" y="2243.7" width="10.5" height="4.5" fill="#3cffff" class="b"/><line x1="116.4" y1="2245.7" x2="123.4" y2="2245.7" stroke="#22b8b8" stroke-width="1.3"/><path d="M113.9 2229.9h12M119.9 2223.9v12" class="o"/><path d="M113.9 2232.9h12M119.9 2226.9v12" class="o"/><line x1="139.9" y1="2251.3" x2="139.9" y2="2248.7" class="w"/><line x1="139.9" y1="2254" x2="139.9" y2="2258" class="w"/><line x1="137.3" y1="2248.7" x2="142.5" y2="2248.7" class="c"/><line x1="137.3" y1="2258" x2="142.5" y2="2258" class="c"/><rect x="134.65" y="2251.3" width="10.5" height="2.7" fill="#3c3cff" class="b"/><line x1="180.24" y1="2243.4" x2="180.24" y2="2235.8" class="w"/><line x1="180.24" y1="2251" x2="180.24" y2="2252.8" class="w"/><line x1="177.64" y1="2235.8" x2="182.84" y2="2235.8" class="c"/><line x1="177.64" y1="2252.8" x2="182.84" y2="2252.8" class="c"/><rect x="174.99" y="2243.4" width="10.5" height="7.6" fill="#3cffff" class="b"/><line x1="176.74" y1="2247.5" x2="183.74" y2="2247.5" stroke="#22b8b8" stroke-width="1.3"/><line x1="200.24" y1="2238.8" x2="200.24" y2="2230.2" class="w"/><line x1="200.24" y1="2248.2" x2="200.24" y2="2252.8" class="w"/><line x1="197.64" y1="2230.2" x2="202.84" y2="2230.2" class="c"/><line x1="197.64" y1="2252.8" x2="202.84" y2="2252.8" class="c"/><rect x="194.99" y="2238.8" width="10.5" height="9.4" fill="#3c3cff" class="b"/><line x1="196.74" y1="2244.2" x2="203.74" y2="2244.2" stroke="#5a14b4" stroke-width="1.3"/><line x1="240.58" y1="2228.4" x2="240.58" y2="2216.6" class="w"/><line x1="240.58" y1="2244.2" x2="240.58" y2="2249" class="w"/><line x1="237.98" y1="2216.6" x2="243.18" y2="2216.6" class="c"/><line x1="237.98" y1="2249" x2="243.18" y2="2249" class="c"/><rect x="235.33" y="2228.4" width="10.5" height="15.8" fill="#3cffff" class="b"/><line x1="237.08" y1="2240" x2="244.08" y2="2240" stroke="#22b8b8" stroke-width="1.3"/><line x1="260.58" y1="2246.3" x2="260.58" y2="2243.3" class="w"/><line x1="260.58" y1="2249.4" x2="260.58" y2="2252" class="w"/><line x1="257.98" y1="2243.3" x2="263.18" y2="2243.3" class="c"/><line x1="257.98" y1="2252" x2="263.18" y2="2252" class="c"/><rect x="255.33" y="2246.3" width="10.5" height="3.1" fill="#3c3cff" class="b"/><line x1="257.08" y1="2247.8" x2="264.08" y2="2247.8" stroke="#5a14b4" stroke-width="1.3"/><path d="M254.58 2231.4h12M260.58 2225.4v12" class="o"/><line x1="300.92" y1="2245.5" x2="300.92" y2="2240.4" class="w"/><line x1="300.92" y1="2252" x2="300.92" y2="2255.8" class="w"/><line x1="298.32" y1="2240.4" x2="303.52" y2="2240.4" class="c"/><line x1="298.32" y1="2255.8" x2="303.52" y2="2255.8" class="c"/><rect x="295.67" y="2245.5" width="10.5" height="6.5" fill="#3cffff" class="b"/><line x1="297.42" y1="2248.5" x2="304.42" y2="2248.5" stroke="#22b8b8" stroke-width="1.3"/><line x1="320.92" y1="2227.2" x2="320.92" y2="2211.1" class="w"/><line x1="320.92" y1="2241" x2="320.92" y2="2246.3" class="w"/><line x1="318.32" y1="2211.1" x2="323.52" y2="2211.1" class="c"/><line x1="318.32" y1="2246.3" x2="323.52" y2="2246.3" class="c"/><rect x="315.67" y="2227.2" width="10.5" height="13.8" fill="#3c3cff" class="b"/><line x1="317.42" y1="2237.7" x2="324.42" y2="2237.7" stroke="#5a14b4" stroke-width="1.3"/><line x1="361.26" y1="2250.5" x2="361.26" y2="2245.2" class="w"/><line x1="361.26" y1="2254.3" x2="361.26" y2="2256.1" class="w"/><line x1="358.66" y1="2245.2" x2="363.86" y2="2245.2" class="c"/><line x1="358.66" y1="2256.1" x2="363.86" y2="2256.1" class="c"/><rect x="356.01" y="2250.5" width="10.5" height="3.8" fill="#3cffff" class="b"/><line x1="357.76" y1="2252" x2="364.76" y2="2252" stroke="#22b8b8" stroke-width="1.3"/><path d="M355.26 2236.7h12M361.26 2230.7v12" class="o"/><path d="M355.26 2242.2h12M361.26 2236.2v12" class="o"/><line x1="381.26" y1="2244.5" x2="381.26" y2="2241.2" class="w"/><line x1="381.26" y1="2249.7" x2="381.26" y2="2256.1" class="w"/><line x1="378.66" y1="2241.2" x2="383.86" y2="2241.2" class="c"/><line x1="378.66" y1="2256.1" x2="383.86" y2="2256.1" class="c"/><rect x="376.01" y="2244.5" width="10.5" height="5.2" fill="#3c3cff" class="b"/><line x1="377.76" y1="2247" x2="384.76" y2="2247" stroke="#5a14b4" stroke-width="1.3"/><line x1="421.6" y1="2239.5" x2="421.6" y2="2223" class="w"/><line x1="421.6" y1="2252" x2="421.6" y2="2255.5" class="w"/><line x1="419" y1="2223" x2="424.2" y2="2223" class="c"/><line x1="419" y1="2255.5" x2="424.2" y2="2255.5" class="c"/><rect x="416.35" y="2239.5" width="10.5" height="12.5" fill="#3cffff" class="b"/><line x1="418.1" y1="2247" x2="425.1" y2="2247" stroke="#22b8b8" stroke-width="1.3"/><line x1="441.6" y1="2233.5" x2="441.6" y2="2223" class="w"/><line x1="441.6" y1="2243.7" x2="441.6" y2="2249" class="w"/><line x1="439" y1="2223" x2="444.2" y2="2223" class="c"/><line x1="439" y1="2249" x2="444.2" y2="2249" class="c"/><rect x="436.35" y="2233.5" width="10.5" height="10.2" fill="#3c3cff" class="b"/><line x1="438.1" y1="2239.5" x2="445.1" y2="2239.5" stroke="#5a14b4" stroke-width="1.3"/><line x1="481.94" y1="2247.5" x2="481.94" y2="2237.7" class="w"/><line x1="481.94" y1="2254" x2="481.94" y2="2256.2" class="w"/><line x1="479.34" y1="2237.7" x2="484.54" y2="2237.7" class="c"/><line x1="479.34" y1="2256.2" x2="484.54" y2="2256.2" class="c"/><rect x="476.69" y="2247.5" width="10.5" height="6.5" fill="#3cffff" class="b"/><line x1="478.44" y1="2250.8" x2="485.44" y2="2250.8" stroke="#22b8b8" stroke-width="1.3"/><line x1="501.94" y1="2242.7" x2="501.94" y2="2236.7" class="w"/><line x1="501.94" y1="2246.7" x2="501.94" y2="2251.7" class="w"/><line x1="499.34" y1="2236.7" x2="504.54" y2="2236.7" class="c"/><line x1="499.34" y1="2251.7" x2="504.54" y2="2251.7" class="c"/><rect x="496.69" y="2242.7" width="10.5" height="4" fill="#3c3cff" class="b"/><line x1="498.44" y1="2244.5" x2="505.44" y2="2244.5" stroke="#5a14b4" stroke-width="1.3"/><line x1="542.28" y1="2209.9" x2="542.28" y2="2190.3" class="w"/><line x1="542.28" y1="2246.7" x2="542.28" y2="2254.3" class="w"/><line x1="539.68" y1="2190.3" x2="544.88" y2="2190.3" class="c"/><line x1="539.68" y1="2254.3" x2="544.88" y2="2254.3" class="c"/><rect x="537.03" y="2209.9" width="10.5" height="36.8" fill="#3cffff" class="b"/><line x1="538.78" y1="2233.2" x2="545.78" y2="2233.2" stroke="#22b8b8" stroke-width="1.3"/><line x1="562.28" y1="2234.4" x2="562.28" y2="2223.1" class="w"/><line x1="562.28" y1="2242.7" x2="562.28" y2="2247" class="w"/><line x1="559.68" y1="2223.1" x2="564.88" y2="2223.1" class="c"/><line x1="559.68" y1="2247" x2="564.88" y2="2247" class="c"/><rect x="557.03" y="2234.4" width="10.5" height="8.3" fill="#3c3cff" class="b"/><line x1="558.78" y1="2238.5" x2="565.78" y2="2238.5" stroke="#5a14b4" stroke-width="1.3"/><path d="M556.28 2205.7h12M562.28 2199.7v12" class="o"/><line x1="602.62" y1="2250.5" x2="602.62" y2="2247" class="w"/><line x1="602.62" y1="2254.3" x2="602.62" y2="2256.5" class="w"/><line x1="600.02" y1="2247" x2="605.22" y2="2247" class="c"/><line x1="600.02" y1="2256.5" x2="605.22" y2="2256.5" class="c"/><rect x="597.37" y="2250.5" width="10.5" height="3.8" fill="#3cffff" class="b"/><line x1="599.12" y1="2252" x2="606.12" y2="2252" stroke="#22b8b8" stroke-width="1.3"/><path d="M596.62 2241.9h12M602.62 2235.9v12" class="o"/><path d="M596.62 2243.7h12M602.62 2237.7v12" class="o"/><line x1="622.62" y1="2240.7" x2="622.62" y2="2234" class="w"/><line x1="622.62" y1="2247.9" x2="622.62" y2="2255" class="w"/><line x1="620.02" y1="2234" x2="625.22" y2="2234" class="c"/><line x1="620.02" y1="2255" x2="625.22" y2="2255" class="c"/><rect x="617.37" y="2240.7" width="10.5" height="7.2" fill="#3c3cff" class="b"/><line x1="619.12" y1="2244.2" x2="626.12" y2="2244.2" stroke="#5a14b4" stroke-width="1.3"/><line x1="662.96" y1="2220.4" x2="662.96" y2="2186.3" class="w"/><line x1="662.96" y1="2247" x2="662.96" y2="2254.6" class="w"/><line x1="660.36" y1="2186.3" x2="665.56" y2="2186.3" class="c"/><line x1="660.36" y1="2254.6" x2="665.56" y2="2254.6" class="c"/><rect x="657.71" y="2220.4" width="10.5" height="26.6" fill="#3cffff" class="b"/><line x1="659.46" y1="2238" x2="666.46" y2="2238" stroke="#22b8b8" stroke-width="1.3"/><line x1="682.96" y1="2239.5" x2="682.96" y2="2230.9" class="w"/><line x1="682.96" y1="2246.7" x2="682.96" y2="2255.8" class="w"/><line x1="680.36" y1="2230.9" x2="685.56" y2="2230.9" class="c"/><line x1="680.36" y1="2255.8" x2="685.56" y2="2255.8" class="c"/><rect x="677.71" y="2239.5" width="10.5" height="7.2" fill="#3c3cff" class="b"/><line x1="679.46" y1="2243" x2="686.46" y2="2243" stroke="#5a14b4" stroke-width="1.3"/><line x1="723.3" y1="2246.7" x2="723.3" y2="2243" class="w"/><line x1="723.3" y1="2252" x2="723.3" y2="2255.3" class="w"/><line x1="720.7" y1="2243" x2="725.9" y2="2243" class="c"/><line x1="720.7" y1="2255.3" x2="725.9" y2="2255.3" class="c"/><rect x="718.05" y="2246.7" width="10.5" height="5.3" fill="#3cffff" class="b"/><line x1="719.8" y1="2249" x2="726.8" y2="2249" stroke="#22b8b8" stroke-width="1.3"/><path d="M717.3 2208.8h12M723.3 2202.8v12" class="o"/><path d="M717.3 2209.1h12M723.3 2203.1v12" class="o"/><path d="M717.3 2216.6h12M723.3 2210.6v12" class="o"/><path d="M717.3 2225.7h12M723.3 2219.7v12" class="o"/><line x1="743.3" y1="2241" x2="743.3" y2="2236.5" class="w"/><line x1="743.3" y1="2247" x2="743.3" y2="2250.8" class="w"/><line x1="740.7" y1="2236.5" x2="745.9" y2="2236.5" class="c"/><line x1="740.7" y1="2250.8" x2="745.9" y2="2250.8" class="c"/><rect x="738.05" y="2241" width="10.5" height="6" fill="#3c3cff" class="b"/><line x1="739.8" y1="2243.7" x2="746.8" y2="2243.7" stroke="#5a14b4" stroke-width="1.3"/><path d="M737.3 2224.5h12M743.3 2218.5v12" class="o"/><line x1="783.64" y1="2244.9" x2="783.64" y2="2236.2" class="w"/><line x1="783.64" y1="2251.3" x2="783.64" y2="2255" class="w"/><line x1="781.04" y1="2236.2" x2="786.24" y2="2236.2" class="c"/><line x1="781.04" y1="2255" x2="786.24" y2="2255" class="c"/><rect x="778.39" y="2244.9" width="10.5" height="6.4" fill="#3cffff" class="b"/><line x1="780.14" y1="2247.9" x2="787.14" y2="2247.9" stroke="#22b8b8" stroke-width="1.3"/><line x1="803.64" y1="2244.5" x2="803.64" y2="2240.3" class="w"/><line x1="803.64" y1="2250" x2="803.64" y2="2254.3" class="w"/><line x1="801.04" y1="2240.3" x2="806.24" y2="2240.3" class="c"/><line x1="801.04" y1="2254.3" x2="806.24" y2="2254.3" class="c"/><rect x="798.39" y="2244.5" width="10.5" height="5.5" fill="#3c3cff" class="b"/><line x1="800.14" y1="2246.7" x2="807.14" y2="2246.7" stroke="#5a14b4" stroke-width="1.3"/><line x1="843.98" y1="2247.8" x2="843.98" y2="2244.9" class="w"/><line x1="843.98" y1="2253.2" x2="843.98" y2="2256.5" class="w"/><line x1="841.38" y1="2244.9" x2="846.58" y2="2244.9" class="c"/><line x1="841.38" y1="2256.5" x2="846.58" y2="2256.5" class="c"/><rect x="838.73" y="2247.8" width="10.5" height="5.4" fill="#3cffff" class="b"/><line x1="840.48" y1="2250.5" x2="847.48" y2="2250.5" stroke="#22b8b8" stroke-width="1.3"/><path d="M837.98 2223.9h12M843.98 2217.9v12" class="o"/><path d="M837.98 2227.6h12M843.98 2221.6v12" class="o"/><path d="M837.98 2231.4h12M843.98 2225.4v12" class="o"/><path d="M837.98 2237.4h12M843.98 2231.4v12" class="o"/><path d="M837.98 2237.7h12M843.98 2231.7v12" class="o"/><line x1="863.98" y1="2226.4" x2="863.98" y2="2198.6" class="w"/><line x1="863.98" y1="2244.2" x2="863.98" y2="2249.7" class="w"/><line x1="861.38" y1="2198.6" x2="866.58" y2="2198.6" class="c"/><line x1="861.38" y1="2249.7" x2="866.58" y2="2249.7" class="c"/><rect x="858.73" y="2226.4" width="10.5" height="17.8" fill="#3c3cff" class="b"/><line x1="860.48" y1="2240.4" x2="867.48" y2="2240.4" stroke="#5a14b4" stroke-width="1.3"/><line x1="904.32" y1="2241.9" x2="904.32" y2="2227.6" class="w"/><line x1="904.32" y1="2252" x2="904.32" y2="2256.2" class="w"/><line x1="901.72" y1="2227.6" x2="906.92" y2="2227.6" class="c"/><line x1="901.72" y1="2256.2" x2="906.92" y2="2256.2" class="c"/><rect x="899.07" y="2241.9" width="10.5" height="10.1" fill="#3cffff" class="b"/><line x1="900.82" y1="2247.2" x2="907.82" y2="2247.2" stroke="#22b8b8" stroke-width="1.3"/><path d="M898.32 2212.9h12M904.32 2206.9v12" class="o"/><path d="M898.32 2222.2h12M904.32 2216.2v12" class="o"/><line x1="924.32" y1="2240.4" x2="924.32" y2="2229.9" class="w"/><line x1="924.32" y1="2247.9" x2="924.32" y2="2253.5" class="w"/><line x1="921.72" y1="2229.9" x2="926.92" y2="2229.9" class="c"/><line x1="921.72" y1="2253.5" x2="926.92" y2="2253.5" class="c"/><rect x="919.07" y="2240.4" width="10.5" height="7.5" fill="#3c3cff" class="b"/><line x1="920.82" y1="2244.9" x2="927.82" y2="2244.9" stroke="#5a14b4" stroke-width="1.3"/><path d="M918.32 2219.4h12M924.32 2213.4v12" class="o"/><line x1="964.66" y1="2247" x2="964.66" y2="2238.9" class="w"/><line x1="964.66" y1="2254.6" x2="964.66" y2="2258" class="w"/><line x1="962.06" y1="2238.9" x2="967.26" y2="2238.9" class="c"/><line x1="962.06" y1="2258" x2="967.26" y2="2258" class="c"/><rect x="959.41" y="2247" width="10.5" height="7.6" fill="#3cffff" class="b"/><line x1="961.16" y1="2251" x2="968.16" y2="2251" stroke="#22b8b8" stroke-width="1.3"/><line x1="984.66" y1="2240.4" x2="984.66" y2="2227.6" class="w"/><line x1="984.66" y1="2248.2" x2="984.66" y2="2252.8" class="w"/><line x1="982.06" y1="2227.6" x2="987.26" y2="2227.6" class="c"/><line x1="982.06" y1="2252.8" x2="987.26" y2="2252.8" class="c"/><rect x="979.41" y="2240.4" width="10.5" height="7.8" fill="#3c3cff" class="b"/><line x1="981.16" y1="2244.5" x2="988.16" y2="2244.5" stroke="#5a14b4" stroke-width="1.3"/><line x1="1025" y1="2249" x2="1025" y2="2243" class="w"/><line x1="1025" y1="2254" x2="1025" y2="2256.5" class="w"/><line x1="1022.4" y1="2243" x2="1027.6" y2="2243" class="c"/><line x1="1022.4" y1="2256.5" x2="1027.6" y2="2256.5" class="c"/><rect x="1019.75" y="2249" width="10.5" height="5" fill="#3cffff" class="b"/><line x1="1021.5" y1="2251.7" x2="1028.5" y2="2251.7" stroke="#22b8b8" stroke-width="1.3"/><line x1="1045" y1="2244.2" x2="1045" y2="2242.7" class="w"/><line x1="1045" y1="2249" x2="1045" y2="2254.6" class="w"/><line x1="1042.4" y1="2242.7" x2="1047.6" y2="2242.7" class="c"/><line x1="1042.4" y1="2254.6" x2="1047.6" y2="2254.6" class="c"/><rect x="1039.75" y="2244.2" width="10.5" height="4.8" fill="#3c3cff" class="b"/><line x1="1041.5" y1="2246" x2="1048.5" y2="2246" stroke="#5a14b4" stroke-width="1.3"/><path d="M1039 2235.5h12M1045 2229.5v12" class="o"/><line x1="1085.34" y1="2242.3" x2="1085.34" y2="2229.7" class="w"/><line x1="1085.34" y1="2253.9" x2="1085.34" y2="2255.7" class="w"/><line x1="1082.74" y1="2229.7" x2="1087.94" y2="2229.7" class="c"/><line x1="1082.74" y1="2255.7" x2="1087.94" y2="2255.7" class="c"/><rect x="1080.09" y="2242.3" width="10.5" height="11.6" fill="#3cffff" class="b"/><line x1="1081.84" y1="2249" x2="1088.84" y2="2249" stroke="#22b8b8" stroke-width="1.3"/><path d="M1079.34 2225.3h12M1085.34 2219.3v12" class="o"/><line x1="1105.34" y1="2248.1" x2="1105.34" y2="2245.5" class="w"/><line x1="1105.34" y1="2251.6" x2="1105.34" y2="2253.9" class="w"/><line x1="1102.74" y1="2245.5" x2="1107.94" y2="2245.5" class="c"/><line x1="1102.74" y1="2253.9" x2="1107.94" y2="2253.9" class="c"/><rect x="1100.09" y="2248.1" width="10.5" height="3.5" fill="#3c3cff" class="b"/><line x1="1101.84" y1="2250" x2="1108.84" y2="2250" stroke="#5a14b4" stroke-width="1.3"/><path d="M1099.34 2239.9h12M1105.34 2233.9v12" class="o"/><path d="M1099.34 2240.8h12M1105.34 2234.8v12" class="o"/><line x1="1145.68" y1="2249.5" x2="1145.68" y2="2245.5" class="w"/><line x1="1145.68" y1="2255.1" x2="1145.68" y2="2256.4" class="w"/><line x1="1143.08" y1="2245.5" x2="1148.28" y2="2245.5" class="c"/><line x1="1143.08" y1="2256.4" x2="1148.28" y2="2256.4" class="c"/><rect x="1140.43" y="2249.5" width="10.5" height="5.6" fill="#3cffff" class="b"/><line x1="1142.18" y1="2252.5" x2="1149.18" y2="2252.5" stroke="#22b8b8" stroke-width="1.3"/><path d="M1139.68 2230.9h12M1145.68 2224.9v12" class="o"/><path d="M1139.68 2237.1h12M1145.68 2231.1v12" class="o"/><line x1="1165.68" y1="2247.2" x2="1165.68" y2="2242" class="w"/><line x1="1165.68" y1="2254.3" x2="1165.68" y2="2256.6" class="w"/><line x1="1163.08" y1="2242" x2="1168.28" y2="2242" class="c"/><line x1="1163.08" y1="2256.6" x2="1168.28" y2="2256.6" class="c"/><rect x="1160.43" y="2247.2" width="10.5" height="7.1" fill="#3c3cff" class="b"/><line x1="1162.18" y1="2251" x2="1169.18" y2="2251" stroke="#5a14b4" stroke-width="1.3"/><path d="M1159.68 2232.9h12M1165.68 2226.9v12" class="o"/><line x1="1206.02" y1="2253.4" x2="1206.02" y2="2249.9" class="w"/><line x1="1206.02" y1="2256.9" x2="1206.02" y2="2257.8" class="w"/><line x1="1203.42" y1="2249.9" x2="1208.62" y2="2249.9" class="c"/><line x1="1203.42" y1="2257.8" x2="1208.62" y2="2257.8" class="c"/><rect x="1200.77" y="2253.4" width="10.5" height="3.5" fill="#3cffff" class="b"/><line x1="1202.52" y1="2255" x2="1209.52" y2="2255" stroke="#22b8b8" stroke-width="1.3"/><path d="M1200.02 2247.8h12M1206.02 2241.8v12" class="o"/><line x1="1226.02" y1="2256.6" x2="1226.02" y2="2257.2" class="w"/><line x1="1223.42" y1="2255" x2="1228.62" y2="2255" class="c"/><line x1="1223.42" y1="2257.2" x2="1228.62" y2="2257.2" class="c"/><rect x="1220.77" y="2255.5" width="10.5" height="1.1" fill="#3c3cff" class="b"/><path d="M1220.02 2253.7h12M1226.02 2247.7v12" class="o"/><line x1="1266.36" y1="2249.4" x2="1266.36" y2="2241.1" class="w"/><line x1="1266.36" y1="2255.7" x2="1266.36" y2="2257.8" class="w"/><line x1="1263.76" y1="2241.1" x2="1268.96" y2="2241.1" class="c"/><line x1="1263.76" y1="2257.8" x2="1268.96" y2="2257.8" class="c"/><rect x="1261.11" y="2249.4" width="10.5" height="6.3" fill="#3cffff" class="b"/><line x1="1262.86" y1="2252.5" x2="1269.86" y2="2252.5" stroke="#22b8b8" stroke-width="1.3"/><path d="M1260.36 2230.6h12M1266.36 2224.6v12" class="o"/><path d="M1260.36 2232.3h12M1266.36 2226.3v12" class="o"/><line x1="1286.36" y1="2253.9" x2="1286.36" y2="2252.5" class="w"/><line x1="1286.36" y1="2256" x2="1286.36" y2="2257" class="w"/><line x1="1283.76" y1="2252.5" x2="1288.96" y2="2252.5" class="c"/><line x1="1283.76" y1="2257" x2="1288.96" y2="2257" class="c"/><rect x="1281.11" y="2253.9" width="10.5" height="2.1" fill="#3c3cff" class="b"/><path d="M1280.36 2243.7h12M1286.36 2237.7v12" class="o"/><line x1="1326.7" y1="2252.9" x2="1326.7" y2="2250.3" class="w"/><line x1="1326.7" y1="2256.7" x2="1326.7" y2="2257.7" class="w"/><line x1="1324.1" y1="2250.3" x2="1329.3" y2="2250.3" class="c"/><line x1="1324.1" y1="2257.7" x2="1329.3" y2="2257.7" class="c"/><rect x="1321.45" y="2252.9" width="10.5" height="3.8" fill="#3cffff" class="b"/><line x1="1323.2" y1="2254.5" x2="1330.2" y2="2254.5" stroke="#22b8b8" stroke-width="1.3"/><path d="M1320.7 2240.2h12M1326.7 2234.2v12" class="o"/><path d="M1320.7 2246.8h12M1326.7 2240.8v12" class="o"/><line x1="1346.7" y1="2253.9" x2="1346.7" y2="2251.9" class="w"/><line x1="1346.7" y1="2255.9" x2="1346.7" y2="2257.2" class="w"/><line x1="1344.1" y1="2251.9" x2="1349.3" y2="2251.9" class="c"/><line x1="1344.1" y1="2257.2" x2="1349.3" y2="2257.2" class="c"/><rect x="1341.45" y="2253.9" width="10.5" height="2" fill="#3c3cff" class="b"/><path d="M1340.7 2248.7h12M1346.7 2242.7v12" class="o"/><line x1="1387.04" y1="2251.9" x2="1387.04" y2="2249.7" class="w"/><line x1="1387.04" y1="2255.9" x2="1387.04" y2="2257.9" class="w"/><line x1="1384.44" y1="2249.7" x2="1389.64" y2="2249.7" class="c"/><line x1="1384.44" y1="2257.9" x2="1389.64" y2="2257.9" class="c"/><rect x="1381.79" y="2251.9" width="10.5" height="4" fill="#3cffff" class="b"/><line x1="1383.54" y1="2254" x2="1390.54" y2="2254" stroke="#22b8b8" stroke-width="1.3"/><path d="M1381.04 2236.8h12M1387.04 2230.8v12" class="o"/><line x1="1407.04" y1="2254.3" x2="1407.04" y2="2253.6" class="w"/><line x1="1407.04" y1="2256.7" x2="1407.04" y2="2257.3" class="w"/><line x1="1404.44" y1="2253.6" x2="1409.64" y2="2253.6" class="c"/><line x1="1404.44" y1="2257.3" x2="1409.64" y2="2257.3" class="c"/><rect x="1401.79" y="2254.3" width="10.5" height="2.4" fill="#3c3cff" class="b"/><line x1="1447.38" y1="2247.2" x2="1447.38" y2="2240.8" class="w"/><line x1="1447.38" y1="2254.3" x2="1447.38" y2="2257.7" class="w"/><line x1="1444.78" y1="2240.8" x2="1449.98" y2="2240.8" class="c"/><line x1="1444.78" y1="2257.7" x2="1449.98" y2="2257.7" class="c"/><rect x="1442.13" y="2247.2" width="10.5" height="7.1" fill="#3cffff" class="b"/><line x1="1443.88" y1="2250.7" x2="1450.88" y2="2250.7" stroke="#22b8b8" stroke-width="1.3"/><path d="M1441.38 2220.8h12M1447.38 2214.8v12" class="o"/><line x1="1467.38" y1="2256.7" x2="1467.38" y2="2257.3" class="w"/><line x1="1464.78" y1="2253.5" x2="1469.98" y2="2253.5" class="c"/><line x1="1464.78" y1="2257.3" x2="1469.98" y2="2257.3" class="c"/><rect x="1462.13" y="2254" width="10.5" height="2.7" fill="#3c3cff" class="b"/><path d="M1461.38 2251.3h12M1467.38 2245.3v12" class="o"/><line x1="1507.72" y1="2254.3" x2="1507.72" y2="2253.5" class="w"/><line x1="1507.72" y1="2257.3" x2="1507.72" y2="2258" class="w"/><line x1="1505.12" y1="2253.5" x2="1510.32" y2="2253.5" class="c"/><line x1="1505.12" y1="2258" x2="1510.32" y2="2258" class="c"/><rect x="1502.47" y="2254.3" width="10.5" height="3" fill="#3cffff" class="b"/><line x1="1527.72" y1="2248.3" x2="1527.72" y2="2245.2" class="w"/><line x1="1527.72" y1="2251.3" x2="1527.72" y2="2254.3" class="w"/><line x1="1525.12" y1="2245.2" x2="1530.32" y2="2245.2" class="c"/><line x1="1525.12" y1="2254.3" x2="1530.32" y2="2254.3" class="c"/><rect x="1522.47" y="2248.3" width="10.5" height="3" fill="#3c3cff" class="b"/><path d="M1521.72 2241.2h12M1527.72 2235.2v12" class="o"/><line x1="1568.06" y1="2245.8" x2="1568.06" y2="2237.6" class="w"/><line x1="1568.06" y1="2255.3" x2="1568.06" y2="2257.7" class="w"/><line x1="1565.46" y1="2237.6" x2="1570.66" y2="2237.6" class="c"/><line x1="1565.46" y1="2257.7" x2="1570.66" y2="2257.7" class="c"/><rect x="1562.81" y="2245.8" width="10.5" height="9.5" fill="#3cffff" class="b"/><line x1="1564.56" y1="2250.3" x2="1571.56" y2="2250.3" stroke="#22b8b8" stroke-width="1.3"/><path d="M1562.06 2226.6h12M1568.06 2220.6v12" class="o"/><line x1="1588.06" y1="2256.3" x2="1588.06" y2="2257" class="w"/><line x1="1585.46" y1="2253.5" x2="1590.66" y2="2253.5" class="c"/><line x1="1585.46" y1="2257" x2="1590.66" y2="2257" class="c"/><rect x="1582.81" y="2253.9" width="10.5" height="2.4" fill="#3c3cff" class="b"/><path d="M1582.06 2250.7h12M1588.06 2244.7v12" class="o"/><path d="M1582.06 2251h12M1588.06 2245v12" class="o"/></g>
<text x="731.7" y="2353.6" class="xl">k [order of PCs]</text>
</svg>
</body></html>
